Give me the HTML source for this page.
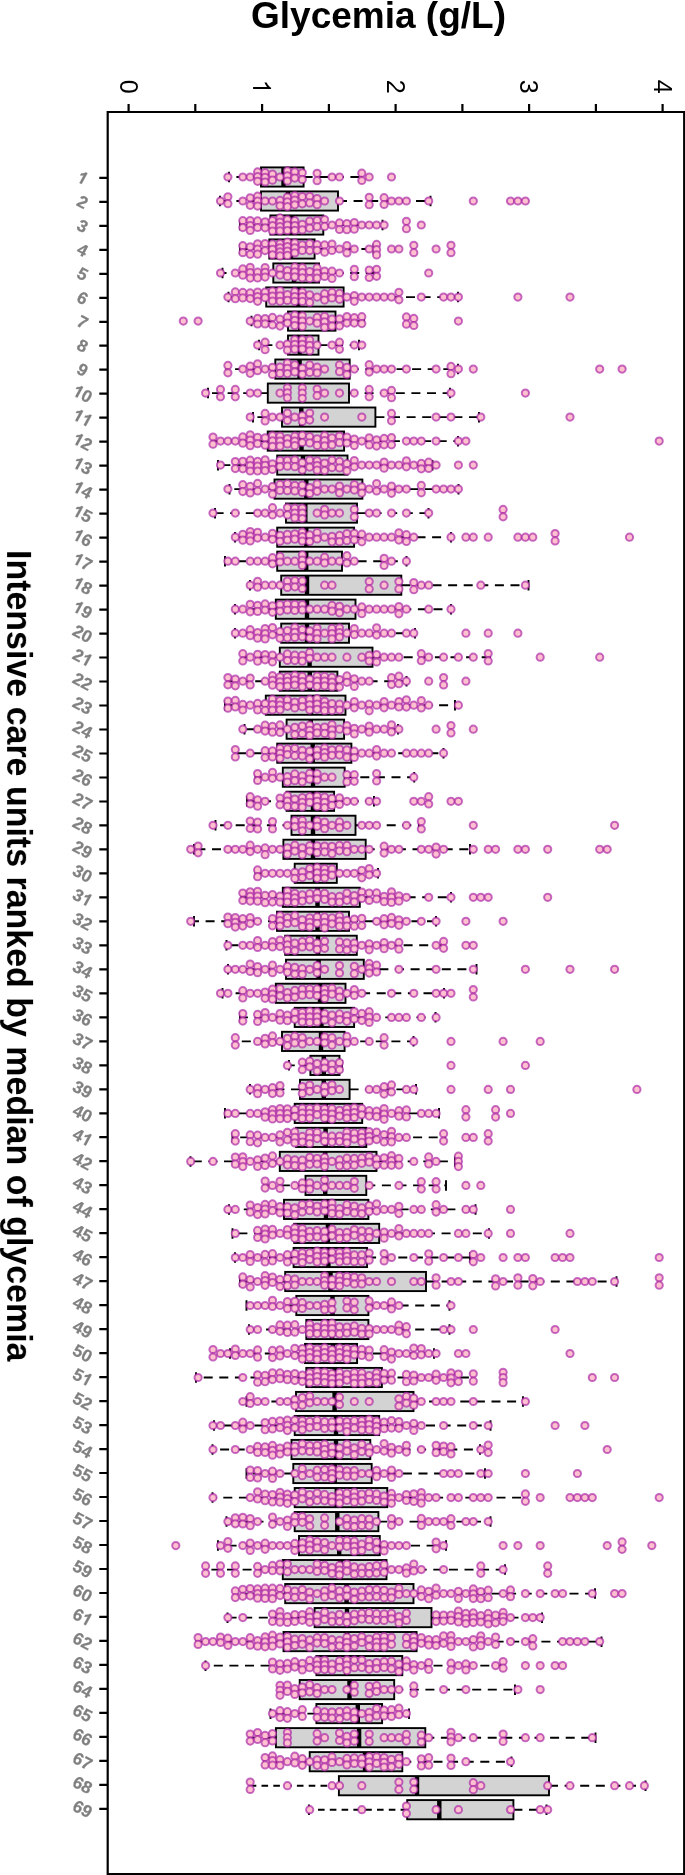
<!DOCTYPE html>
<html><head><meta charset="utf-8"><title>Glycemia</title>
<style>
html,body{margin:0;padding:0;background:#fff}
svg{display:block;font-family:"Liberation Sans",sans-serif}
.d circle{r:3.6px;fill:#ffc0cf;stroke:#a822a4;stroke-opacity:.67;stroke-width:2px}
.b rect{fill:#d3d3d3;stroke:#000;stroke-width:1.9px}
.w path{stroke:#000;stroke-width:1.9px;fill:none;stroke-dasharray:9 6.6}
.w path.s{stroke-dasharray:6.6 5.2}
.c path{stroke:#000;stroke-width:1.9px;fill:none}
.m path{stroke:#000;stroke-width:4.4px;fill:none}
.a path{stroke:#000;stroke-width:2.2px;fill:none}
.l{filter:grayscale(1)}
.l text{font-size:17px;font-weight:bold;fill:#808080;stroke:#808080;stroke-width:.25px;text-anchor:middle}
.l path{stroke:#808080;stroke-width:30px}
.t,.h{filter:grayscale(1)}
.t text{font-size:25px;fill:#000;text-anchor:middle}
</style></head>
<body>
<svg width="685" height="1875" viewBox="0 0 685 1875">
<rect width="685" height="1875" fill="#fff"/>
<g class="h">
<text x="251" y="27.6" font-size="37.5" font-weight="bold" textLength="255" lengthAdjust="spacingAndGlyphs">Glycemia (g/L)</text>
<text transform="translate(7.1,550) rotate(90)" font-size="35.6" font-weight="bold" textLength="811.5" lengthAdjust="spacingAndGlyphs">Intensive care units ranked by median of glycemia</text>
</g>
<g class="w">
<path d="M261 177H229M303.6 177H361.5"/>
<path d="M261 201H220M338 201H430.5"/>
<path d="M270.4 225H240M323.3 225H382.5"/>
<path d="M269.3 249H240M314.6 249H373.5"/>
<path d="M273.3 273H222.5M319 273H374"/>
<path d="M266.2 297.1H228.5M343.6 297.1H458"/>
<path d="M288 321.1H251.5M335.5 321.1H364"/>
<path d="M288 345.1H259M318.5 345.1H359"/>
<path d="M275.3 369.1H226.5M349.7 369.1H458"/>
<path d="M267.8 393.1H208M349 393.1H450"/>
<path d="M282 417.1H253M375.4 417.1H479"/>
<path d="M267.7 441.1H212.5M344.1 441.1H458"/>
<path d="M277.2 465.1H218M347.5 465.1H432.5"/>
<path d="M274.5 489.1H229.5M362.4 489.1H458.5"/>
<path d="M286 513.1H215M357 513.1H428.5"/>
<path d="M277.2 537.2H235M354.1 537.2H451"/>
<path d="M277.2 561.2H225M342 561.2H406.5"/>
<path d="M281.2 585.2H250M401.3 585.2H528.5"/>
<path d="M275.8 609.2H235M355.5 609.2H451"/>
<path d="M281.2 633.2H235M349 633.2H415"/>
<path d="M279.8 657.2H242.5M372.5 657.2H490"/>
<path d="M279.8 681.2H227.5M337.4 681.2H406.5"/>
<path d="M265.8 705.2H225M345.5 705.2H455"/>
<path d="M286.6 729.2H244.5M344.1 729.2H398"/>
<path d="M277.2 753.2H235M351.4 753.2H443.5"/>
<path d="M282.8 777.2H255.5M344.7 777.2H414.2"/>
<path d="M286.6 801.3H247M334.1 801.3H374"/>
<path d="M291.5 825.3H215.5M355.5 825.3H419"/>
<path d="M283.4 849.3H194M365.7 849.3H470"/>
<path d="M294.7 873.3H255.5M336.8 873.3H378"/>
<path d="M282.8 897.3H241.5M359.8 897.3H451"/>
<path d="M277 921.3H194M349 921.3H436"/>
<path d="M285.2 945.3H226.5M356.8 945.3H443.5"/>
<path d="M286 969.3H228M363.8 969.3H476.5"/>
<path d="M275.8 993.3H222.5M345.5 993.3H444"/>
<path d="M294.7 1017.4H240M354.1 1017.4H435.5"/>
<path d="M282 1041.4H235M344.6 1041.4H413.5"/>
<path d="M310.4 1065.4H289M339.5 1065.4H342"/>
<path d="M300 1089.4H250M349.6 1089.4H416"/>
<path d="M294.7 1113.4H225M362.2 1113.4H439"/>
<path d="M296 1137.4H232.5M366.3 1137.4H445"/>
<path d="M279.8 1161.4H190.5M376.5 1161.4H455"/>
<path d="M305.5 1185.4H264.5M366.3 1185.4H446"/>
<path d="M284 1209.4H229M368.4 1209.4H475.5"/>
<path d="M294.2 1233.4H232.5M379.2 1233.4H489"/>
<path d="M293.6 1257.5H235M367.1 1257.5H470"/>
<path d="M285.2 1281.5H240M426 1281.5H616.5"/>
<path d="M296.3 1305.5H246.5M368.4 1305.5H449.5"/>
<path d="M306.3 1329.5H249M368.4 1329.5H449.5"/>
<path d="M305 1353.5H230M357.1 1353.5H434"/>
<path d="M306.3 1377.5H196M381.9 1377.5H472.5"/>
<path d="M296 1401.5H246.5M413.5 1401.5H523"/>
<path d="M294.7 1425.5H214M379.2 1425.5H490.5"/>
<path d="M291.5 1449.5H212.5M370.3 1449.5H480"/>
<path d="M293.3 1473.5H246.5M371.7 1473.5H485"/>
<path d="M294.7 1497.6H212.5M387.3 1497.6H524"/>
<path d="M294.7 1521.6H226.5M378.4 1521.6H490.5"/>
<path d="M299 1545.6H218M379.8 1545.6H446"/>
<path d="M282.8 1569.6H205.5M386.5 1569.6H505"/>
<path d="M285.2 1593.6H234M413.5 1593.6H595"/>
<path d="M314.6 1617.6H227.5M431.5 1617.6H542"/>
<path d="M283.5 1641.6H196.5M416.6 1641.6H601.5"/>
<path d="M316.4 1665.6H205.5M402.3 1665.6H501"/>
<path d="M299.7 1689.6H278M394.2 1689.6H515"/>
<path d="M316.4 1713.6H270.5M382.1 1713.6H409"/>
<path d="M275.9 1737.7H249M425.3 1737.7H595.5"/>
<path d="M309.7 1761.7H264M402.3 1761.7H511.5"/>
<path class="s" d="M338.9 1785.7H250"/><path d="M549 1785.7H645.5"/>
<path class="s" d="M407.2 1809.7H309"/><path d="M513.4 1809.7H546.5"/>
</g>
<g class="c">
<path d="M229 171.8v10.5M361.5 171.8v10.5"/>
<path d="M220 195.8v10.5M430.5 195.8v10.5"/>
<path d="M240 219.8v10.5M382.5 219.8v10.5"/>
<path d="M240 243.8v10.5M373.5 243.8v10.5"/>
<path d="M222.5 267.8v10.5M374 267.8v10.5"/>
<path d="M228.5 291.8v10.5M458 291.8v10.5"/>
<path d="M251.5 315.8v10.5M364 315.8v10.5"/>
<path d="M259 339.8v10.5M359 339.8v10.5"/>
<path d="M226.5 363.8v10.5M458 363.8v10.5"/>
<path d="M208 387.8v10.5M450 387.8v10.5"/>
<path d="M253 411.9v10.5M479 411.9v10.5"/>
<path d="M212.5 435.9v10.5M458 435.9v10.5"/>
<path d="M218 459.9v10.5M432.5 459.9v10.5"/>
<path d="M229.5 483.9v10.5M458.5 483.9v10.5"/>
<path d="M215 507.9v10.5M428.5 507.9v10.5"/>
<path d="M235 531.9v10.5M451 531.9v10.5"/>
<path d="M225 555.9v10.5M406.5 555.9v10.5"/>
<path d="M250 579.9v10.5M528.5 579.9v10.5"/>
<path d="M235 603.9v10.5M451 603.9v10.5"/>
<path d="M235 627.9v10.5M415 627.9v10.5"/>
<path d="M242.5 652v10.5M490 652v10.5"/>
<path d="M227.5 676v10.5M406.5 676v10.5"/>
<path d="M225 700v10.5M455 700v10.5"/>
<path d="M244.5 724v10.5M398 724v10.5"/>
<path d="M235 748v10.5M443.5 748v10.5"/>
<path d="M255.5 772v10.5M414.2 772v10.5"/>
<path d="M247 796v10.5M374 796v10.5"/>
<path d="M215.5 820v10.5M419 820v10.5"/>
<path d="M194 844v10.5M470 844v10.5"/>
<path d="M255.5 868v10.5M378 868v10.5"/>
<path d="M241.5 892.1v10.5M451 892.1v10.5"/>
<path d="M194 916.1v10.5M436 916.1v10.5"/>
<path d="M226.5 940.1v10.5M443.5 940.1v10.5"/>
<path d="M228 964.1v10.5M476.5 964.1v10.5"/>
<path d="M222.5 988.1v10.5M444 988.1v10.5"/>
<path d="M240 1012.1v10.5M435.5 1012.1v10.5"/>
<path d="M235 1036.1v10.5M413.5 1036.1v10.5"/>
<path d="M289 1060.1v10.5M342 1060.1v10.5"/>
<path d="M250 1084.1v10.5M416 1084.1v10.5"/>
<path d="M225 1108.1v10.5M439 1108.1v10.5"/>
<path d="M232.5 1132.2v10.5M445 1132.2v10.5"/>
<path d="M190.5 1156.2v10.5M455 1156.2v10.5"/>
<path d="M264.5 1180.2v10.5M446 1180.2v10.5"/>
<path d="M229 1204.2v10.5M475.5 1204.2v10.5"/>
<path d="M232.5 1228.2v10.5M489 1228.2v10.5"/>
<path d="M235 1252.2v10.5M470 1252.2v10.5"/>
<path d="M240 1276.2v10.5M616.5 1276.2v10.5"/>
<path d="M246.5 1300.2v10.5M449.5 1300.2v10.5"/>
<path d="M249 1324.2v10.5M449.5 1324.2v10.5"/>
<path d="M230 1348.2v10.5M434 1348.2v10.5"/>
<path d="M196 1372.2v10.5M472.5 1372.2v10.5"/>
<path d="M246.5 1396.3v10.5M523 1396.3v10.5"/>
<path d="M214 1420.3v10.5M490.5 1420.3v10.5"/>
<path d="M212.5 1444.3v10.5M480 1444.3v10.5"/>
<path d="M246.5 1468.3v10.5M485 1468.3v10.5"/>
<path d="M212.5 1492.3v10.5M524 1492.3v10.5"/>
<path d="M226.5 1516.3v10.5M490.5 1516.3v10.5"/>
<path d="M218 1540.3v10.5M446 1540.3v10.5"/>
<path d="M205.5 1564.3v10.5M505 1564.3v10.5"/>
<path d="M234 1588.3v10.5M595 1588.3v10.5"/>
<path d="M227.5 1612.4v10.5M542 1612.4v10.5"/>
<path d="M196.5 1636.4v10.5M601.5 1636.4v10.5"/>
<path d="M205.5 1660.4v10.5M501 1660.4v10.5"/>
<path d="M278 1684.4v10.5M515 1684.4v10.5"/>
<path d="M270.5 1708.4v10.5M409 1708.4v10.5"/>
<path d="M249 1732.4v10.5M595.5 1732.4v10.5"/>
<path d="M264 1756.4v10.5M511.5 1756.4v10.5"/>
<path d="M250 1780.4v10.5M645.5 1780.4v10.5"/>
<path d="M309 1804.4v10.5M546.5 1804.4v10.5"/>
</g>
<g class="b">
<rect x="261" y="167.4" width="42.6" height="19.2"/>
<rect x="261" y="191.4" width="77" height="19.2"/>
<rect x="270.4" y="215.4" width="52.9" height="19.2"/>
<rect x="269.3" y="239.4" width="45.3" height="19.2"/>
<rect x="273.3" y="263.4" width="45.7" height="19.2"/>
<rect x="266.2" y="287.4" width="77.4" height="19.2"/>
<rect x="288" y="311.5" width="47.5" height="19.2"/>
<rect x="288" y="335.5" width="30.5" height="19.2"/>
<rect x="275.3" y="359.5" width="74.4" height="19.2"/>
<rect x="267.8" y="383.5" width="81.2" height="19.2"/>
<rect x="282" y="407.5" width="93.4" height="19.2"/>
<rect x="267.7" y="431.5" width="76.4" height="19.2"/>
<rect x="277.2" y="455.5" width="70.3" height="19.2"/>
<rect x="274.5" y="479.5" width="87.9" height="19.2"/>
<rect x="286" y="503.5" width="71" height="19.2"/>
<rect x="277.2" y="527.6" width="76.9" height="19.2"/>
<rect x="277.2" y="551.6" width="64.8" height="19.2"/>
<rect x="281.2" y="575.6" width="120.1" height="19.2"/>
<rect x="275.8" y="599.6" width="79.7" height="19.2"/>
<rect x="281.2" y="623.6" width="67.8" height="19.2"/>
<rect x="279.8" y="647.6" width="92.7" height="19.2"/>
<rect x="279.8" y="671.6" width="57.6" height="19.2"/>
<rect x="265.8" y="695.6" width="79.7" height="19.2"/>
<rect x="286.6" y="719.6" width="57.5" height="19.2"/>
<rect x="277.2" y="743.6" width="74.2" height="19.2"/>
<rect x="282.8" y="767.6" width="61.9" height="19.2"/>
<rect x="286.6" y="791.7" width="47.5" height="19.2"/>
<rect x="291.5" y="815.7" width="64" height="19.2"/>
<rect x="283.4" y="839.7" width="82.3" height="19.2"/>
<rect x="294.7" y="863.7" width="42.1" height="19.2"/>
<rect x="282.8" y="887.7" width="77" height="19.2"/>
<rect x="277" y="911.7" width="72" height="19.2"/>
<rect x="285.2" y="935.7" width="71.6" height="19.2"/>
<rect x="286" y="959.7" width="77.8" height="19.2"/>
<rect x="275.8" y="983.7" width="69.7" height="19.2"/>
<rect x="294.7" y="1007.8" width="59.4" height="19.2"/>
<rect x="282" y="1031.8" width="62.6" height="19.2"/>
<rect x="310.4" y="1055.8" width="29.1" height="19.2"/>
<rect x="300" y="1079.8" width="49.6" height="19.2"/>
<rect x="294.7" y="1103.8" width="67.5" height="19.2"/>
<rect x="296" y="1127.8" width="70.3" height="19.2"/>
<rect x="279.8" y="1151.8" width="96.7" height="19.2"/>
<rect x="305.5" y="1175.8" width="60.8" height="19.2"/>
<rect x="284" y="1199.8" width="84.4" height="19.2"/>
<rect x="294.2" y="1223.8" width="85" height="19.2"/>
<rect x="293.6" y="1247.9" width="73.5" height="19.2"/>
<rect x="285.2" y="1271.9" width="140.8" height="19.2"/>
<rect x="296.3" y="1295.9" width="72.1" height="19.2"/>
<rect x="306.3" y="1319.9" width="62.1" height="19.2"/>
<rect x="305" y="1343.9" width="52.1" height="19.2"/>
<rect x="306.3" y="1367.9" width="75.6" height="19.2"/>
<rect x="296" y="1391.9" width="117.5" height="19.2"/>
<rect x="294.7" y="1415.9" width="84.5" height="19.2"/>
<rect x="291.5" y="1439.9" width="78.8" height="19.2"/>
<rect x="293.3" y="1463.9" width="78.4" height="19.2"/>
<rect x="294.7" y="1488" width="92.6" height="19.2"/>
<rect x="294.7" y="1512" width="83.7" height="19.2"/>
<rect x="299" y="1536" width="80.8" height="19.2"/>
<rect x="282.8" y="1560" width="103.7" height="19.2"/>
<rect x="285.2" y="1584" width="128.3" height="19.2"/>
<rect x="314.6" y="1608" width="116.9" height="19.2"/>
<rect x="283.5" y="1632" width="133.1" height="19.2"/>
<rect x="316.4" y="1656" width="85.9" height="19.2"/>
<rect x="299.7" y="1680" width="94.5" height="19.2"/>
<rect x="316.4" y="1704" width="65.7" height="19.2"/>
<rect x="275.9" y="1728.1" width="149.4" height="19.2"/>
<rect x="309.7" y="1752.1" width="92.6" height="19.2"/>
<rect x="338.9" y="1776.1" width="210.1" height="19.2"/>
<rect x="407.2" y="1800.1" width="106.2" height="19.2"/>
</g>
<g class="m">
<path d="M283.5 167.4v19.2"/>
<path d="M288 191.4v19.2"/>
<path d="M292 215.4v19.2"/>
<path d="M291 239.4v19.2"/>
<path d="M294 263.4v19.2"/>
<path d="M298.3 287.4v19.2"/>
<path d="M300.2 311.5v19.2"/>
<path d="M299.8 335.5v19.2"/>
<path d="M299.6 359.5v19.2"/>
<path d="M302 383.5v19.2"/>
<path d="M301.3 407.5v19.2"/>
<path d="M301.5 431.5v19.2"/>
<path d="M303 455.5v19.2"/>
<path d="M306.3 479.5v19.2"/>
<path d="M305.3 503.5v19.2"/>
<path d="M306.3 527.6v19.2"/>
<path d="M306.2 551.6v19.2"/>
<path d="M307 575.6v19.2"/>
<path d="M307 599.6v19.2"/>
<path d="M307 623.6v19.2"/>
<path d="M309.6 647.6v19.2"/>
<path d="M309.8 671.6v19.2"/>
<path d="M311 695.6v19.2"/>
<path d="M310.8 719.6v19.2"/>
<path d="M312.7 743.6v19.2"/>
<path d="M313 767.6v19.2"/>
<path d="M313 791.7v19.2"/>
<path d="M313 815.7v19.2"/>
<path d="M313 839.7v19.2"/>
<path d="M315 863.7v19.2"/>
<path d="M317.5 887.7v19.2"/>
<path d="M317.5 911.7v19.2"/>
<path d="M318 935.7v19.2"/>
<path d="M318.6 959.7v19.2"/>
<path d="M320 983.7v19.2"/>
<path d="M321.5 1007.8v19.2"/>
<path d="M321 1031.8v19.2"/>
<path d="M323.8 1055.8v19.2"/>
<path d="M323.8 1079.8v19.2"/>
<path d="M325.7 1103.8v19.2"/>
<path d="M325.6 1127.8v19.2"/>
<path d="M325.2 1151.8v19.2"/>
<path d="M325.2 1175.8v19.2"/>
<path d="M326 1199.8v19.2"/>
<path d="M327.9 1223.8v19.2"/>
<path d="M328.4 1247.9v19.2"/>
<path d="M330.5 1271.9v19.2"/>
<path d="M332.5 1295.9v19.2"/>
<path d="M332 1319.9v19.2"/>
<path d="M333 1343.9v19.2"/>
<path d="M334.6 1367.9v19.2"/>
<path d="M334.6 1391.9v19.2"/>
<path d="M336 1415.9v19.2"/>
<path d="M336 1439.9v19.2"/>
<path d="M334.7 1463.9v19.2"/>
<path d="M336.8 1488v19.2"/>
<path d="M337.3 1512v19.2"/>
<path d="M339.2 1536v19.2"/>
<path d="M340.6 1560v19.2"/>
<path d="M346.6 1584v19.2"/>
<path d="M347 1608v19.2"/>
<path d="M347 1632v19.2"/>
<path d="M346.5 1656v19.2"/>
<path d="M349.5 1680v19.2"/>
<path d="M357.8 1704v19.2"/>
<path d="M359.1 1728.1v19.2"/>
<path d="M365 1752.1v19.2"/>
<path d="M417 1776.1v19.2"/>
<path d="M439.3 1800.1v19.2"/>
</g>
<g class="d">
<circle cx="227.9" cy="177" r="3.6"/>
<circle cx="242.8" cy="177" r="3.6"/>
<circle cx="250.2" cy="177" r="3.6"/>
<circle cx="257.6" cy="171.9" r="3.6"/>
<circle cx="257.6" cy="176.6" r="3.6"/>
<circle cx="257.6" cy="181.3" r="3.6"/>
<circle cx="265.1" cy="172.7" r="3.6"/>
<circle cx="265.1" cy="177.4" r="3.6"/>
<circle cx="265.1" cy="182" r="3.6"/>
<circle cx="272.5" cy="174.1" r="3.6"/>
<circle cx="272.5" cy="180.2" r="3.6"/>
<circle cx="280" cy="177" r="3.6"/>
<circle cx="287.4" cy="170.9" r="3.6"/>
<circle cx="287.4" cy="175.9" r="3.6"/>
<circle cx="287.4" cy="181" r="3.6"/>
<circle cx="294.8" cy="171.8" r="3.6"/>
<circle cx="294.8" cy="178.1" r="3.6"/>
<circle cx="302.3" cy="172.8" r="3.6"/>
<circle cx="302.3" cy="179.5" r="3.6"/>
<circle cx="317.1" cy="173.3" r="3.6"/>
<circle cx="317.1" cy="180.7" r="3.6"/>
<circle cx="332" cy="177" r="3.6"/>
<circle cx="339.5" cy="177" r="3.6"/>
<circle cx="361.8" cy="173.2" r="3.6"/>
<circle cx="361.8" cy="180.5" r="3.6"/>
<circle cx="369.2" cy="177" r="3.6"/>
<circle cx="391.5" cy="177" r="3.6"/>
<circle cx="220.5" cy="201" r="3.6"/>
<circle cx="227.9" cy="196.8" r="3.6"/>
<circle cx="227.9" cy="203.7" r="3.6"/>
<circle cx="242.8" cy="201" r="3.6"/>
<circle cx="250.2" cy="197.8" r="3.6"/>
<circle cx="250.2" cy="205.3" r="3.6"/>
<circle cx="257.6" cy="196.2" r="3.6"/>
<circle cx="257.6" cy="201.2" r="3.6"/>
<circle cx="257.6" cy="206.1" r="3.6"/>
<circle cx="265.1" cy="201" r="3.6"/>
<circle cx="272.5" cy="201" r="3.6"/>
<circle cx="280" cy="200.4" r="3.6"/>
<circle cx="280" cy="205.8" r="3.6"/>
<circle cx="287.4" cy="197" r="3.6"/>
<circle cx="287.4" cy="201.9" r="3.6"/>
<circle cx="287.4" cy="206.7" r="3.6"/>
<circle cx="294.8" cy="195.5" r="3.6"/>
<circle cx="294.8" cy="200.2" r="3.6"/>
<circle cx="294.8" cy="204.8" r="3.6"/>
<circle cx="302.3" cy="196.6" r="3.6"/>
<circle cx="302.3" cy="203.8" r="3.6"/>
<circle cx="309.7" cy="196.3" r="3.6"/>
<circle cx="309.7" cy="202.9" r="3.6"/>
<circle cx="317.1" cy="198.5" r="3.6"/>
<circle cx="317.1" cy="204.7" r="3.6"/>
<circle cx="324.6" cy="201" r="3.6"/>
<circle cx="339.5" cy="201" r="3.6"/>
<circle cx="369.2" cy="197.3" r="3.6"/>
<circle cx="369.2" cy="204.7" r="3.6"/>
<circle cx="384.1" cy="197.7" r="3.6"/>
<circle cx="384.1" cy="204.5" r="3.6"/>
<circle cx="391.5" cy="201" r="3.6"/>
<circle cx="398.9" cy="201" r="3.6"/>
<circle cx="406.4" cy="201" r="3.6"/>
<circle cx="428.7" cy="201" r="3.6"/>
<circle cx="473.3" cy="201" r="3.6"/>
<circle cx="510.5" cy="201" r="3.6"/>
<circle cx="517.9" cy="201" r="3.6"/>
<circle cx="525.4" cy="201" r="3.6"/>
<circle cx="242.8" cy="220.7" r="3.6"/>
<circle cx="242.8" cy="227.6" r="3.6"/>
<circle cx="250.2" cy="220.5" r="3.6"/>
<circle cx="250.2" cy="225.5" r="3.6"/>
<circle cx="250.2" cy="230.4" r="3.6"/>
<circle cx="257.6" cy="220.9" r="3.6"/>
<circle cx="257.6" cy="227.5" r="3.6"/>
<circle cx="265.1" cy="221.8" r="3.6"/>
<circle cx="265.1" cy="227.8" r="3.6"/>
<circle cx="272.5" cy="220.5" r="3.6"/>
<circle cx="272.5" cy="225.7" r="3.6"/>
<circle cx="272.5" cy="231" r="3.6"/>
<circle cx="280" cy="217.9" r="3.6"/>
<circle cx="280" cy="222.2" r="3.6"/>
<circle cx="280" cy="226.6" r="3.6"/>
<circle cx="280" cy="230.9" r="3.6"/>
<circle cx="287.4" cy="219.7" r="3.6"/>
<circle cx="287.4" cy="225.1" r="3.6"/>
<circle cx="287.4" cy="230.5" r="3.6"/>
<circle cx="294.8" cy="220.7" r="3.6"/>
<circle cx="294.8" cy="225.6" r="3.6"/>
<circle cx="294.8" cy="230.4" r="3.6"/>
<circle cx="302.3" cy="224.3" r="3.6"/>
<circle cx="302.3" cy="229.9" r="3.6"/>
<circle cx="309.7" cy="221.1" r="3.6"/>
<circle cx="309.7" cy="228.2" r="3.6"/>
<circle cx="317.1" cy="220.3" r="3.6"/>
<circle cx="317.1" cy="226.7" r="3.6"/>
<circle cx="324.6" cy="219.6" r="3.6"/>
<circle cx="324.6" cy="226.4" r="3.6"/>
<circle cx="332" cy="225" r="3.6"/>
<circle cx="339.5" cy="222.9" r="3.6"/>
<circle cx="339.5" cy="229.5" r="3.6"/>
<circle cx="346.9" cy="223.6" r="3.6"/>
<circle cx="346.9" cy="229.7" r="3.6"/>
<circle cx="354.3" cy="222.5" r="3.6"/>
<circle cx="354.3" cy="229.2" r="3.6"/>
<circle cx="361.8" cy="225" r="3.6"/>
<circle cx="369.2" cy="225" r="3.6"/>
<circle cx="376.6" cy="225" r="3.6"/>
<circle cx="384.1" cy="225" r="3.6"/>
<circle cx="406.4" cy="221.3" r="3.6"/>
<circle cx="406.4" cy="228.7" r="3.6"/>
<circle cx="421.3" cy="225" r="3.6"/>
<circle cx="242.8" cy="245.7" r="3.6"/>
<circle cx="242.8" cy="252.7" r="3.6"/>
<circle cx="250.2" cy="246.8" r="3.6"/>
<circle cx="250.2" cy="254.3" r="3.6"/>
<circle cx="257.6" cy="243.8" r="3.6"/>
<circle cx="257.6" cy="249" r="3.6"/>
<circle cx="257.6" cy="254.2" r="3.6"/>
<circle cx="265.1" cy="243.6" r="3.6"/>
<circle cx="265.1" cy="250.6" r="3.6"/>
<circle cx="272.5" cy="243.9" r="3.6"/>
<circle cx="272.5" cy="249.4" r="3.6"/>
<circle cx="272.5" cy="254.9" r="3.6"/>
<circle cx="280" cy="243.7" r="3.6"/>
<circle cx="280" cy="247.8" r="3.6"/>
<circle cx="280" cy="251.9" r="3.6"/>
<circle cx="280" cy="255.9" r="3.6"/>
<circle cx="287.4" cy="242.2" r="3.6"/>
<circle cx="287.4" cy="246.6" r="3.6"/>
<circle cx="287.4" cy="251" r="3.6"/>
<circle cx="287.4" cy="255.4" r="3.6"/>
<circle cx="294.8" cy="242.9" r="3.6"/>
<circle cx="294.8" cy="247.9" r="3.6"/>
<circle cx="294.8" cy="252.9" r="3.6"/>
<circle cx="302.3" cy="244.8" r="3.6"/>
<circle cx="302.3" cy="250.4" r="3.6"/>
<circle cx="309.7" cy="243.5" r="3.6"/>
<circle cx="309.7" cy="250.6" r="3.6"/>
<circle cx="317.1" cy="244.5" r="3.6"/>
<circle cx="317.1" cy="250.3" r="3.6"/>
<circle cx="324.6" cy="244.9" r="3.6"/>
<circle cx="324.6" cy="252.2" r="3.6"/>
<circle cx="332" cy="244" r="3.6"/>
<circle cx="332" cy="250.4" r="3.6"/>
<circle cx="339.5" cy="249" r="3.6"/>
<circle cx="346.9" cy="245.6" r="3.6"/>
<circle cx="346.9" cy="252.9" r="3.6"/>
<circle cx="354.3" cy="249" r="3.6"/>
<circle cx="369.2" cy="249" r="3.6"/>
<circle cx="376.6" cy="244.4" r="3.6"/>
<circle cx="376.6" cy="249.7" r="3.6"/>
<circle cx="376.6" cy="254.9" r="3.6"/>
<circle cx="391.5" cy="249" r="3.6"/>
<circle cx="398.9" cy="249" r="3.6"/>
<circle cx="413.8" cy="245.3" r="3.6"/>
<circle cx="413.8" cy="252.7" r="3.6"/>
<circle cx="436.1" cy="249" r="3.6"/>
<circle cx="451" cy="245.3" r="3.6"/>
<circle cx="451" cy="252.7" r="3.6"/>
<circle cx="220.5" cy="273" r="3.6"/>
<circle cx="235.3" cy="273" r="3.6"/>
<circle cx="242.8" cy="268.9" r="3.6"/>
<circle cx="242.8" cy="275.2" r="3.6"/>
<circle cx="250.2" cy="267.3" r="3.6"/>
<circle cx="250.2" cy="272.7" r="3.6"/>
<circle cx="250.2" cy="278.1" r="3.6"/>
<circle cx="257.6" cy="272.2" r="3.6"/>
<circle cx="257.6" cy="277.9" r="3.6"/>
<circle cx="265.1" cy="267.5" r="3.6"/>
<circle cx="265.1" cy="272.3" r="3.6"/>
<circle cx="265.1" cy="277.1" r="3.6"/>
<circle cx="272.5" cy="273" r="3.6"/>
<circle cx="280" cy="268.6" r="3.6"/>
<circle cx="280" cy="275.1" r="3.6"/>
<circle cx="287.4" cy="270.5" r="3.6"/>
<circle cx="287.4" cy="276.4" r="3.6"/>
<circle cx="294.8" cy="266.9" r="3.6"/>
<circle cx="294.8" cy="271.8" r="3.6"/>
<circle cx="294.8" cy="276.8" r="3.6"/>
<circle cx="302.3" cy="267.6" r="3.6"/>
<circle cx="302.3" cy="272.7" r="3.6"/>
<circle cx="302.3" cy="277.8" r="3.6"/>
<circle cx="309.7" cy="271.6" r="3.6"/>
<circle cx="309.7" cy="278.5" r="3.6"/>
<circle cx="317.1" cy="267.9" r="3.6"/>
<circle cx="317.1" cy="273.1" r="3.6"/>
<circle cx="317.1" cy="278.2" r="3.6"/>
<circle cx="324.6" cy="271.1" r="3.6"/>
<circle cx="324.6" cy="276.5" r="3.6"/>
<circle cx="332" cy="271.2" r="3.6"/>
<circle cx="332" cy="278.4" r="3.6"/>
<circle cx="339.5" cy="273" r="3.6"/>
<circle cx="354.3" cy="269.3" r="3.6"/>
<circle cx="354.3" cy="276.7" r="3.6"/>
<circle cx="369.2" cy="270.1" r="3.6"/>
<circle cx="369.2" cy="277.5" r="3.6"/>
<circle cx="376.6" cy="269.3" r="3.6"/>
<circle cx="376.6" cy="276.3" r="3.6"/>
<circle cx="428.7" cy="273" r="3.6"/>
<circle cx="227.9" cy="297.1" r="3.6"/>
<circle cx="235.3" cy="291.9" r="3.6"/>
<circle cx="235.3" cy="298.7" r="3.6"/>
<circle cx="242.8" cy="292.4" r="3.6"/>
<circle cx="242.8" cy="297.9" r="3.6"/>
<circle cx="250.2" cy="292.9" r="3.6"/>
<circle cx="250.2" cy="298.6" r="3.6"/>
<circle cx="257.6" cy="292" r="3.6"/>
<circle cx="257.6" cy="296.7" r="3.6"/>
<circle cx="257.6" cy="301.3" r="3.6"/>
<circle cx="265.1" cy="292" r="3.6"/>
<circle cx="265.1" cy="297.7" r="3.6"/>
<circle cx="272.5" cy="291.2" r="3.6"/>
<circle cx="272.5" cy="296.1" r="3.6"/>
<circle cx="272.5" cy="301" r="3.6"/>
<circle cx="280" cy="290.5" r="3.6"/>
<circle cx="280" cy="295.9" r="3.6"/>
<circle cx="280" cy="301.3" r="3.6"/>
<circle cx="287.4" cy="294.7" r="3.6"/>
<circle cx="287.4" cy="300.4" r="3.6"/>
<circle cx="294.8" cy="291.6" r="3.6"/>
<circle cx="294.8" cy="296.5" r="3.6"/>
<circle cx="294.8" cy="301.4" r="3.6"/>
<circle cx="302.3" cy="292" r="3.6"/>
<circle cx="302.3" cy="296.7" r="3.6"/>
<circle cx="302.3" cy="301.4" r="3.6"/>
<circle cx="309.7" cy="294.8" r="3.6"/>
<circle cx="309.7" cy="302.4" r="3.6"/>
<circle cx="317.1" cy="297.1" r="3.6"/>
<circle cx="324.6" cy="293.7" r="3.6"/>
<circle cx="324.6" cy="300.1" r="3.6"/>
<circle cx="332" cy="292.4" r="3.6"/>
<circle cx="332" cy="298" r="3.6"/>
<circle cx="339.5" cy="293.4" r="3.6"/>
<circle cx="339.5" cy="299.3" r="3.6"/>
<circle cx="346.9" cy="297.1" r="3.6"/>
<circle cx="354.3" cy="295.6" r="3.6"/>
<circle cx="354.3" cy="301.3" r="3.6"/>
<circle cx="361.8" cy="297.1" r="3.6"/>
<circle cx="369.2" cy="297.1" r="3.6"/>
<circle cx="376.6" cy="297.1" r="3.6"/>
<circle cx="384.1" cy="297.1" r="3.6"/>
<circle cx="391.5" cy="297.1" r="3.6"/>
<circle cx="398.9" cy="292.3" r="3.6"/>
<circle cx="398.9" cy="299.8" r="3.6"/>
<circle cx="421.3" cy="297.1" r="3.6"/>
<circle cx="443.6" cy="297.1" r="3.6"/>
<circle cx="451" cy="297.1" r="3.6"/>
<circle cx="458.4" cy="297.1" r="3.6"/>
<circle cx="517.9" cy="297.1" r="3.6"/>
<circle cx="570" cy="297.1" r="3.6"/>
<circle cx="183.3" cy="321.1" r="3.6"/>
<circle cx="198.1" cy="321.1" r="3.6"/>
<circle cx="250.2" cy="321.1" r="3.6"/>
<circle cx="257.6" cy="318.4" r="3.6"/>
<circle cx="257.6" cy="324" r="3.6"/>
<circle cx="265.1" cy="318.6" r="3.6"/>
<circle cx="265.1" cy="323.9" r="3.6"/>
<circle cx="272.5" cy="317.4" r="3.6"/>
<circle cx="272.5" cy="325" r="3.6"/>
<circle cx="280" cy="319.2" r="3.6"/>
<circle cx="280" cy="326.1" r="3.6"/>
<circle cx="287.4" cy="316.9" r="3.6"/>
<circle cx="287.4" cy="323.1" r="3.6"/>
<circle cx="294.8" cy="315" r="3.6"/>
<circle cx="294.8" cy="320.3" r="3.6"/>
<circle cx="294.8" cy="325.6" r="3.6"/>
<circle cx="302.3" cy="315.8" r="3.6"/>
<circle cx="302.3" cy="321.1" r="3.6"/>
<circle cx="302.3" cy="326.4" r="3.6"/>
<circle cx="309.7" cy="321.1" r="3.6"/>
<circle cx="317.1" cy="317.4" r="3.6"/>
<circle cx="317.1" cy="323.2" r="3.6"/>
<circle cx="324.6" cy="316.3" r="3.6"/>
<circle cx="324.6" cy="321.8" r="3.6"/>
<circle cx="324.6" cy="327.3" r="3.6"/>
<circle cx="332" cy="319" r="3.6"/>
<circle cx="332" cy="326.2" r="3.6"/>
<circle cx="339.5" cy="318.9" r="3.6"/>
<circle cx="339.5" cy="326" r="3.6"/>
<circle cx="346.9" cy="316.6" r="3.6"/>
<circle cx="346.9" cy="323.1" r="3.6"/>
<circle cx="354.3" cy="317.7" r="3.6"/>
<circle cx="354.3" cy="323.1" r="3.6"/>
<circle cx="361.8" cy="316.7" r="3.6"/>
<circle cx="361.8" cy="323.6" r="3.6"/>
<circle cx="406.4" cy="316.9" r="3.6"/>
<circle cx="406.4" cy="324.2" r="3.6"/>
<circle cx="413.8" cy="318.4" r="3.6"/>
<circle cx="413.8" cy="325.5" r="3.6"/>
<circle cx="458.4" cy="321.1" r="3.6"/>
<circle cx="257.6" cy="345.1" r="3.6"/>
<circle cx="265.1" cy="342.2" r="3.6"/>
<circle cx="265.1" cy="349.7" r="3.6"/>
<circle cx="280" cy="345.1" r="3.6"/>
<circle cx="287.4" cy="344" r="3.6"/>
<circle cx="287.4" cy="350.2" r="3.6"/>
<circle cx="294.8" cy="339.6" r="3.6"/>
<circle cx="294.8" cy="344.4" r="3.6"/>
<circle cx="294.8" cy="349.2" r="3.6"/>
<circle cx="302.3" cy="339.6" r="3.6"/>
<circle cx="302.3" cy="344.3" r="3.6"/>
<circle cx="302.3" cy="349.1" r="3.6"/>
<circle cx="309.7" cy="339.9" r="3.6"/>
<circle cx="309.7" cy="345.4" r="3.6"/>
<circle cx="309.7" cy="350.8" r="3.6"/>
<circle cx="317.1" cy="345.1" r="3.6"/>
<circle cx="332" cy="345.1" r="3.6"/>
<circle cx="339.5" cy="342.2" r="3.6"/>
<circle cx="339.5" cy="349.3" r="3.6"/>
<circle cx="354.3" cy="345.1" r="3.6"/>
<circle cx="361.8" cy="345.1" r="3.6"/>
<circle cx="227.9" cy="365.4" r="3.6"/>
<circle cx="227.9" cy="372.8" r="3.6"/>
<circle cx="242.8" cy="369.1" r="3.6"/>
<circle cx="250.2" cy="366.2" r="3.6"/>
<circle cx="250.2" cy="373.3" r="3.6"/>
<circle cx="257.6" cy="363.8" r="3.6"/>
<circle cx="257.6" cy="370.7" r="3.6"/>
<circle cx="265.1" cy="369.1" r="3.6"/>
<circle cx="272.5" cy="367.3" r="3.6"/>
<circle cx="272.5" cy="374.4" r="3.6"/>
<circle cx="280" cy="367" r="3.6"/>
<circle cx="280" cy="373.4" r="3.6"/>
<circle cx="287.4" cy="363" r="3.6"/>
<circle cx="287.4" cy="368.3" r="3.6"/>
<circle cx="287.4" cy="373.6" r="3.6"/>
<circle cx="294.8" cy="364.8" r="3.6"/>
<circle cx="294.8" cy="371.9" r="3.6"/>
<circle cx="302.3" cy="368" r="3.6"/>
<circle cx="302.3" cy="374.3" r="3.6"/>
<circle cx="309.7" cy="364.9" r="3.6"/>
<circle cx="309.7" cy="372.4" r="3.6"/>
<circle cx="317.1" cy="367.2" r="3.6"/>
<circle cx="317.1" cy="372.9" r="3.6"/>
<circle cx="324.6" cy="369.1" r="3.6"/>
<circle cx="339.5" cy="364.9" r="3.6"/>
<circle cx="339.5" cy="371.7" r="3.6"/>
<circle cx="346.9" cy="367.3" r="3.6"/>
<circle cx="346.9" cy="374.5" r="3.6"/>
<circle cx="354.3" cy="369.1" r="3.6"/>
<circle cx="369.2" cy="364.7" r="3.6"/>
<circle cx="369.2" cy="372.1" r="3.6"/>
<circle cx="376.6" cy="369.1" r="3.6"/>
<circle cx="384.1" cy="369.1" r="3.6"/>
<circle cx="391.5" cy="369.1" r="3.6"/>
<circle cx="406.4" cy="369.1" r="3.6"/>
<circle cx="436.1" cy="369.1" r="3.6"/>
<circle cx="451" cy="366.4" r="3.6"/>
<circle cx="451" cy="373.7" r="3.6"/>
<circle cx="458.4" cy="369.1" r="3.6"/>
<circle cx="473.3" cy="369.1" r="3.6"/>
<circle cx="599.7" cy="369.1" r="3.6"/>
<circle cx="622.1" cy="369.1" r="3.6"/>
<circle cx="205.6" cy="393.1" r="3.6"/>
<circle cx="220.5" cy="389.4" r="3.6"/>
<circle cx="220.5" cy="396.8" r="3.6"/>
<circle cx="235.3" cy="389.4" r="3.6"/>
<circle cx="235.3" cy="396.8" r="3.6"/>
<circle cx="250.2" cy="393.1" r="3.6"/>
<circle cx="257.6" cy="393.1" r="3.6"/>
<circle cx="280" cy="393.1" r="3.6"/>
<circle cx="287.4" cy="387.8" r="3.6"/>
<circle cx="287.4" cy="392.8" r="3.6"/>
<circle cx="287.4" cy="397.8" r="3.6"/>
<circle cx="302.3" cy="387.9" r="3.6"/>
<circle cx="302.3" cy="393.1" r="3.6"/>
<circle cx="302.3" cy="398.3" r="3.6"/>
<circle cx="317.1" cy="389" r="3.6"/>
<circle cx="317.1" cy="395.7" r="3.6"/>
<circle cx="324.6" cy="393.1" r="3.6"/>
<circle cx="339.5" cy="393.1" r="3.6"/>
<circle cx="354.3" cy="393.1" r="3.6"/>
<circle cx="369.2" cy="389.4" r="3.6"/>
<circle cx="369.2" cy="396.8" r="3.6"/>
<circle cx="384.1" cy="393.1" r="3.6"/>
<circle cx="391.5" cy="390.4" r="3.6"/>
<circle cx="391.5" cy="397.7" r="3.6"/>
<circle cx="451" cy="393.1" r="3.6"/>
<circle cx="525.4" cy="393.1" r="3.6"/>
<circle cx="250.2" cy="417.1" r="3.6"/>
<circle cx="265.1" cy="413.4" r="3.6"/>
<circle cx="265.1" cy="420.9" r="3.6"/>
<circle cx="272.5" cy="417.1" r="3.6"/>
<circle cx="280" cy="417.1" r="3.6"/>
<circle cx="287.4" cy="413.1" r="3.6"/>
<circle cx="287.4" cy="420.5" r="3.6"/>
<circle cx="294.8" cy="417.1" r="3.6"/>
<circle cx="302.3" cy="415.6" r="3.6"/>
<circle cx="302.3" cy="421.4" r="3.6"/>
<circle cx="309.7" cy="413.1" r="3.6"/>
<circle cx="309.7" cy="420.1" r="3.6"/>
<circle cx="324.6" cy="417.1" r="3.6"/>
<circle cx="361.8" cy="417.1" r="3.6"/>
<circle cx="391.5" cy="413.4" r="3.6"/>
<circle cx="391.5" cy="420.8" r="3.6"/>
<circle cx="436.1" cy="417.1" r="3.6"/>
<circle cx="451" cy="417.1" r="3.6"/>
<circle cx="480.8" cy="417.1" r="3.6"/>
<circle cx="570" cy="417.1" r="3.6"/>
<circle cx="213" cy="437" r="3.6"/>
<circle cx="213" cy="444.2" r="3.6"/>
<circle cx="220.5" cy="441.1" r="3.6"/>
<circle cx="227.9" cy="441.1" r="3.6"/>
<circle cx="235.3" cy="441.1" r="3.6"/>
<circle cx="242.8" cy="436.9" r="3.6"/>
<circle cx="242.8" cy="443.2" r="3.6"/>
<circle cx="250.2" cy="434.8" r="3.6"/>
<circle cx="250.2" cy="440.2" r="3.6"/>
<circle cx="250.2" cy="445.7" r="3.6"/>
<circle cx="257.6" cy="437.3" r="3.6"/>
<circle cx="257.6" cy="443.7" r="3.6"/>
<circle cx="265.1" cy="437.8" r="3.6"/>
<circle cx="265.1" cy="445.2" r="3.6"/>
<circle cx="272.5" cy="435.5" r="3.6"/>
<circle cx="272.5" cy="440.9" r="3.6"/>
<circle cx="272.5" cy="446.4" r="3.6"/>
<circle cx="280" cy="436" r="3.6"/>
<circle cx="280" cy="441.1" r="3.6"/>
<circle cx="280" cy="446.2" r="3.6"/>
<circle cx="287.4" cy="438.5" r="3.6"/>
<circle cx="287.4" cy="443.9" r="3.6"/>
<circle cx="294.8" cy="436.2" r="3.6"/>
<circle cx="294.8" cy="441" r="3.6"/>
<circle cx="294.8" cy="445.7" r="3.6"/>
<circle cx="302.3" cy="435.3" r="3.6"/>
<circle cx="302.3" cy="442.5" r="3.6"/>
<circle cx="309.7" cy="436.5" r="3.6"/>
<circle cx="309.7" cy="442.9" r="3.6"/>
<circle cx="317.1" cy="438.8" r="3.6"/>
<circle cx="317.1" cy="445.4" r="3.6"/>
<circle cx="324.6" cy="435.6" r="3.6"/>
<circle cx="324.6" cy="440.7" r="3.6"/>
<circle cx="324.6" cy="445.8" r="3.6"/>
<circle cx="332" cy="437.8" r="3.6"/>
<circle cx="332" cy="444.9" r="3.6"/>
<circle cx="339.5" cy="436.1" r="3.6"/>
<circle cx="339.5" cy="442.7" r="3.6"/>
<circle cx="346.9" cy="437" r="3.6"/>
<circle cx="346.9" cy="443" r="3.6"/>
<circle cx="354.3" cy="439.1" r="3.6"/>
<circle cx="354.3" cy="445.6" r="3.6"/>
<circle cx="361.8" cy="441.1" r="3.6"/>
<circle cx="369.2" cy="437.8" r="3.6"/>
<circle cx="369.2" cy="444.9" r="3.6"/>
<circle cx="376.6" cy="439.8" r="3.6"/>
<circle cx="376.6" cy="446.1" r="3.6"/>
<circle cx="384.1" cy="438.4" r="3.6"/>
<circle cx="384.1" cy="444.8" r="3.6"/>
<circle cx="391.5" cy="437.5" r="3.6"/>
<circle cx="391.5" cy="444.8" r="3.6"/>
<circle cx="406.4" cy="441.1" r="3.6"/>
<circle cx="413.8" cy="441.1" r="3.6"/>
<circle cx="421.3" cy="441.1" r="3.6"/>
<circle cx="436.1" cy="441.1" r="3.6"/>
<circle cx="458.4" cy="441.1" r="3.6"/>
<circle cx="465.9" cy="441.1" r="3.6"/>
<circle cx="659.2" cy="441.1" r="3.6"/>
<circle cx="220.5" cy="465.1" r="3.6"/>
<circle cx="235.3" cy="461.5" r="3.6"/>
<circle cx="235.3" cy="468.6" r="3.6"/>
<circle cx="242.8" cy="461.3" r="3.6"/>
<circle cx="242.8" cy="468.8" r="3.6"/>
<circle cx="250.2" cy="460.2" r="3.6"/>
<circle cx="250.2" cy="465.6" r="3.6"/>
<circle cx="250.2" cy="471" r="3.6"/>
<circle cx="257.6" cy="461.4" r="3.6"/>
<circle cx="257.6" cy="466.2" r="3.6"/>
<circle cx="257.6" cy="471" r="3.6"/>
<circle cx="265.1" cy="459.8" r="3.6"/>
<circle cx="265.1" cy="465.3" r="3.6"/>
<circle cx="265.1" cy="470.7" r="3.6"/>
<circle cx="272.5" cy="463.8" r="3.6"/>
<circle cx="272.5" cy="469.4" r="3.6"/>
<circle cx="280" cy="460.3" r="3.6"/>
<circle cx="280" cy="466.6" r="3.6"/>
<circle cx="287.4" cy="460.3" r="3.6"/>
<circle cx="287.4" cy="466.2" r="3.6"/>
<circle cx="294.8" cy="459.8" r="3.6"/>
<circle cx="294.8" cy="466.7" r="3.6"/>
<circle cx="302.3" cy="462.7" r="3.6"/>
<circle cx="302.3" cy="470.1" r="3.6"/>
<circle cx="309.7" cy="460.1" r="3.6"/>
<circle cx="309.7" cy="467.1" r="3.6"/>
<circle cx="317.1" cy="460.8" r="3.6"/>
<circle cx="317.1" cy="465.5" r="3.6"/>
<circle cx="317.1" cy="470.2" r="3.6"/>
<circle cx="324.6" cy="463" r="3.6"/>
<circle cx="324.6" cy="470.6" r="3.6"/>
<circle cx="332" cy="460.1" r="3.6"/>
<circle cx="332" cy="467.6" r="3.6"/>
<circle cx="339.5" cy="461.4" r="3.6"/>
<circle cx="339.5" cy="467.9" r="3.6"/>
<circle cx="346.9" cy="463.7" r="3.6"/>
<circle cx="346.9" cy="470.9" r="3.6"/>
<circle cx="354.3" cy="460.5" r="3.6"/>
<circle cx="354.3" cy="466.8" r="3.6"/>
<circle cx="361.8" cy="465.1" r="3.6"/>
<circle cx="369.2" cy="465.1" r="3.6"/>
<circle cx="376.6" cy="465.1" r="3.6"/>
<circle cx="384.1" cy="462.1" r="3.6"/>
<circle cx="384.1" cy="468.2" r="3.6"/>
<circle cx="391.5" cy="465.1" r="3.6"/>
<circle cx="398.9" cy="465.1" r="3.6"/>
<circle cx="406.4" cy="460.8" r="3.6"/>
<circle cx="406.4" cy="466.8" r="3.6"/>
<circle cx="413.8" cy="465.1" r="3.6"/>
<circle cx="421.3" cy="463.4" r="3.6"/>
<circle cx="421.3" cy="468.8" r="3.6"/>
<circle cx="428.7" cy="462.2" r="3.6"/>
<circle cx="428.7" cy="468.5" r="3.6"/>
<circle cx="436.1" cy="465.1" r="3.6"/>
<circle cx="458.4" cy="465.1" r="3.6"/>
<circle cx="473.3" cy="465.1" r="3.6"/>
<circle cx="227.9" cy="489.1" r="3.6"/>
<circle cx="242.8" cy="484.7" r="3.6"/>
<circle cx="242.8" cy="491.6" r="3.6"/>
<circle cx="250.2" cy="486.4" r="3.6"/>
<circle cx="250.2" cy="492.9" r="3.6"/>
<circle cx="257.6" cy="483.4" r="3.6"/>
<circle cx="257.6" cy="491" r="3.6"/>
<circle cx="265.1" cy="489.1" r="3.6"/>
<circle cx="272.5" cy="486.6" r="3.6"/>
<circle cx="272.5" cy="494.2" r="3.6"/>
<circle cx="280" cy="484.4" r="3.6"/>
<circle cx="280" cy="490.4" r="3.6"/>
<circle cx="287.4" cy="483.5" r="3.6"/>
<circle cx="287.4" cy="490.7" r="3.6"/>
<circle cx="294.8" cy="485.3" r="3.6"/>
<circle cx="294.8" cy="490.9" r="3.6"/>
<circle cx="302.3" cy="485.1" r="3.6"/>
<circle cx="302.3" cy="492.5" r="3.6"/>
<circle cx="309.7" cy="487.6" r="3.6"/>
<circle cx="309.7" cy="493.5" r="3.6"/>
<circle cx="317.1" cy="483.9" r="3.6"/>
<circle cx="317.1" cy="491.3" r="3.6"/>
<circle cx="324.6" cy="489.1" r="3.6"/>
<circle cx="332" cy="489.1" r="3.6"/>
<circle cx="339.5" cy="486" r="3.6"/>
<circle cx="339.5" cy="492.9" r="3.6"/>
<circle cx="346.9" cy="489.1" r="3.6"/>
<circle cx="354.3" cy="484.6" r="3.6"/>
<circle cx="354.3" cy="490.1" r="3.6"/>
<circle cx="361.8" cy="486.8" r="3.6"/>
<circle cx="361.8" cy="493.1" r="3.6"/>
<circle cx="369.2" cy="489.1" r="3.6"/>
<circle cx="376.6" cy="483.5" r="3.6"/>
<circle cx="376.6" cy="491" r="3.6"/>
<circle cx="384.1" cy="489.1" r="3.6"/>
<circle cx="391.5" cy="486.1" r="3.6"/>
<circle cx="391.5" cy="493.3" r="3.6"/>
<circle cx="398.9" cy="489.1" r="3.6"/>
<circle cx="406.4" cy="489.1" r="3.6"/>
<circle cx="421.3" cy="485.4" r="3.6"/>
<circle cx="421.3" cy="492.8" r="3.6"/>
<circle cx="436.1" cy="489.1" r="3.6"/>
<circle cx="443.6" cy="489.1" r="3.6"/>
<circle cx="451" cy="489.1" r="3.6"/>
<circle cx="458.4" cy="489.1" r="3.6"/>
<circle cx="213" cy="513.1" r="3.6"/>
<circle cx="235.3" cy="513.1" r="3.6"/>
<circle cx="257.6" cy="513.1" r="3.6"/>
<circle cx="265.1" cy="513.1" r="3.6"/>
<circle cx="272.5" cy="507.7" r="3.6"/>
<circle cx="272.5" cy="515" r="3.6"/>
<circle cx="280" cy="513.1" r="3.6"/>
<circle cx="287.4" cy="507.6" r="3.6"/>
<circle cx="287.4" cy="514.9" r="3.6"/>
<circle cx="294.8" cy="508.1" r="3.6"/>
<circle cx="294.8" cy="513" r="3.6"/>
<circle cx="294.8" cy="517.9" r="3.6"/>
<circle cx="302.3" cy="508" r="3.6"/>
<circle cx="302.3" cy="513.2" r="3.6"/>
<circle cx="302.3" cy="518.5" r="3.6"/>
<circle cx="317.1" cy="513.1" r="3.6"/>
<circle cx="324.6" cy="509.3" r="3.6"/>
<circle cx="324.6" cy="514.9" r="3.6"/>
<circle cx="332" cy="513.1" r="3.6"/>
<circle cx="339.5" cy="513.1" r="3.6"/>
<circle cx="354.3" cy="509.4" r="3.6"/>
<circle cx="354.3" cy="516.8" r="3.6"/>
<circle cx="369.2" cy="513.1" r="3.6"/>
<circle cx="376.6" cy="513.1" r="3.6"/>
<circle cx="391.5" cy="513.1" r="3.6"/>
<circle cx="406.4" cy="513.1" r="3.6"/>
<circle cx="428.7" cy="513.1" r="3.6"/>
<circle cx="503.1" cy="509.4" r="3.6"/>
<circle cx="503.1" cy="516.8" r="3.6"/>
<circle cx="235.3" cy="537.2" r="3.6"/>
<circle cx="242.8" cy="534.3" r="3.6"/>
<circle cx="242.8" cy="540.2" r="3.6"/>
<circle cx="250.2" cy="531.5" r="3.6"/>
<circle cx="250.2" cy="536.2" r="3.6"/>
<circle cx="250.2" cy="540.9" r="3.6"/>
<circle cx="257.6" cy="532.3" r="3.6"/>
<circle cx="257.6" cy="538.1" r="3.6"/>
<circle cx="265.1" cy="537.2" r="3.6"/>
<circle cx="272.5" cy="533.3" r="3.6"/>
<circle cx="272.5" cy="539.3" r="3.6"/>
<circle cx="280" cy="535.3" r="3.6"/>
<circle cx="280" cy="541.3" r="3.6"/>
<circle cx="287.4" cy="534.3" r="3.6"/>
<circle cx="287.4" cy="540" r="3.6"/>
<circle cx="294.8" cy="533.8" r="3.6"/>
<circle cx="294.8" cy="539.2" r="3.6"/>
<circle cx="302.3" cy="532" r="3.6"/>
<circle cx="302.3" cy="536.6" r="3.6"/>
<circle cx="302.3" cy="541.1" r="3.6"/>
<circle cx="309.7" cy="534.9" r="3.6"/>
<circle cx="309.7" cy="541.5" r="3.6"/>
<circle cx="317.1" cy="532.6" r="3.6"/>
<circle cx="317.1" cy="539" r="3.6"/>
<circle cx="324.6" cy="537.2" r="3.6"/>
<circle cx="332" cy="536.3" r="3.6"/>
<circle cx="332" cy="541.8" r="3.6"/>
<circle cx="339.5" cy="535.4" r="3.6"/>
<circle cx="339.5" cy="541.7" r="3.6"/>
<circle cx="346.9" cy="533.5" r="3.6"/>
<circle cx="346.9" cy="540.7" r="3.6"/>
<circle cx="354.3" cy="533.4" r="3.6"/>
<circle cx="354.3" cy="539.9" r="3.6"/>
<circle cx="361.8" cy="534.2" r="3.6"/>
<circle cx="361.8" cy="541.8" r="3.6"/>
<circle cx="369.2" cy="537.2" r="3.6"/>
<circle cx="376.6" cy="537.2" r="3.6"/>
<circle cx="384.1" cy="537.2" r="3.6"/>
<circle cx="391.5" cy="537.2" r="3.6"/>
<circle cx="398.9" cy="532.8" r="3.6"/>
<circle cx="398.9" cy="540.1" r="3.6"/>
<circle cx="406.4" cy="534.7" r="3.6"/>
<circle cx="406.4" cy="541.5" r="3.6"/>
<circle cx="413.8" cy="537.2" r="3.6"/>
<circle cx="451" cy="537.2" r="3.6"/>
<circle cx="465.9" cy="537.2" r="3.6"/>
<circle cx="473.3" cy="537.2" r="3.6"/>
<circle cx="488.2" cy="537.2" r="3.6"/>
<circle cx="517.9" cy="537.2" r="3.6"/>
<circle cx="525.4" cy="537.2" r="3.6"/>
<circle cx="532.8" cy="537.2" r="3.6"/>
<circle cx="555.1" cy="533.5" r="3.6"/>
<circle cx="555.1" cy="540.9" r="3.6"/>
<circle cx="629.5" cy="537.2" r="3.6"/>
<circle cx="227.9" cy="561.2" r="3.6"/>
<circle cx="235.3" cy="561.2" r="3.6"/>
<circle cx="250.2" cy="561.2" r="3.6"/>
<circle cx="257.6" cy="561.2" r="3.6"/>
<circle cx="265.1" cy="561.2" r="3.6"/>
<circle cx="272.5" cy="557.7" r="3.6"/>
<circle cx="272.5" cy="563.8" r="3.6"/>
<circle cx="280" cy="556.4" r="3.6"/>
<circle cx="280" cy="562" r="3.6"/>
<circle cx="287.4" cy="561.2" r="3.6"/>
<circle cx="294.8" cy="561.2" r="3.6"/>
<circle cx="302.3" cy="554.9" r="3.6"/>
<circle cx="302.3" cy="560.1" r="3.6"/>
<circle cx="302.3" cy="565.4" r="3.6"/>
<circle cx="309.7" cy="561.2" r="3.6"/>
<circle cx="317.1" cy="561.2" r="3.6"/>
<circle cx="324.6" cy="557.2" r="3.6"/>
<circle cx="324.6" cy="562.9" r="3.6"/>
<circle cx="332" cy="561.2" r="3.6"/>
<circle cx="339.5" cy="561.2" r="3.6"/>
<circle cx="346.9" cy="555.7" r="3.6"/>
<circle cx="346.9" cy="563" r="3.6"/>
<circle cx="354.3" cy="561.2" r="3.6"/>
<circle cx="384.1" cy="558.3" r="3.6"/>
<circle cx="384.1" cy="565.5" r="3.6"/>
<circle cx="391.5" cy="561.2" r="3.6"/>
<circle cx="406.4" cy="561.2" r="3.6"/>
<circle cx="250.2" cy="585.2" r="3.6"/>
<circle cx="257.6" cy="581.3" r="3.6"/>
<circle cx="257.6" cy="587.2" r="3.6"/>
<circle cx="265.1" cy="585.2" r="3.6"/>
<circle cx="272.5" cy="585.2" r="3.6"/>
<circle cx="280" cy="585.2" r="3.6"/>
<circle cx="287.4" cy="581.1" r="3.6"/>
<circle cx="287.4" cy="587.5" r="3.6"/>
<circle cx="294.8" cy="580.5" r="3.6"/>
<circle cx="294.8" cy="586.8" r="3.6"/>
<circle cx="302.3" cy="580.9" r="3.6"/>
<circle cx="302.3" cy="588.5" r="3.6"/>
<circle cx="324.6" cy="585.2" r="3.6"/>
<circle cx="332" cy="585.2" r="3.6"/>
<circle cx="369.2" cy="581.5" r="3.6"/>
<circle cx="369.2" cy="588.9" r="3.6"/>
<circle cx="384.1" cy="585.2" r="3.6"/>
<circle cx="398.9" cy="581.5" r="3.6"/>
<circle cx="398.9" cy="588.9" r="3.6"/>
<circle cx="413.8" cy="582.5" r="3.6"/>
<circle cx="413.8" cy="589.7" r="3.6"/>
<circle cx="421.3" cy="585.2" r="3.6"/>
<circle cx="428.7" cy="585.2" r="3.6"/>
<circle cx="480.8" cy="585.2" r="3.6"/>
<circle cx="525.4" cy="585.2" r="3.6"/>
<circle cx="235.3" cy="609.2" r="3.6"/>
<circle cx="242.8" cy="609.2" r="3.6"/>
<circle cx="250.2" cy="604.3" r="3.6"/>
<circle cx="250.2" cy="611.8" r="3.6"/>
<circle cx="257.6" cy="605.3" r="3.6"/>
<circle cx="257.6" cy="611.4" r="3.6"/>
<circle cx="265.1" cy="603.9" r="3.6"/>
<circle cx="265.1" cy="610.1" r="3.6"/>
<circle cx="272.5" cy="605.8" r="3.6"/>
<circle cx="272.5" cy="612.3" r="3.6"/>
<circle cx="280" cy="604.6" r="3.6"/>
<circle cx="280" cy="611.1" r="3.6"/>
<circle cx="287.4" cy="604" r="3.6"/>
<circle cx="287.4" cy="610" r="3.6"/>
<circle cx="294.8" cy="604.3" r="3.6"/>
<circle cx="294.8" cy="610.5" r="3.6"/>
<circle cx="302.3" cy="604.5" r="3.6"/>
<circle cx="302.3" cy="609.9" r="3.6"/>
<circle cx="309.7" cy="609.2" r="3.6"/>
<circle cx="317.1" cy="609.2" r="3.6"/>
<circle cx="324.6" cy="609.2" r="3.6"/>
<circle cx="332" cy="605.4" r="3.6"/>
<circle cx="332" cy="611.2" r="3.6"/>
<circle cx="339.5" cy="606.3" r="3.6"/>
<circle cx="339.5" cy="612.8" r="3.6"/>
<circle cx="346.9" cy="609.2" r="3.6"/>
<circle cx="354.3" cy="609.2" r="3.6"/>
<circle cx="361.8" cy="606.9" r="3.6"/>
<circle cx="361.8" cy="613.7" r="3.6"/>
<circle cx="369.2" cy="609.2" r="3.6"/>
<circle cx="376.6" cy="609.2" r="3.6"/>
<circle cx="384.1" cy="609.2" r="3.6"/>
<circle cx="391.5" cy="609.2" r="3.6"/>
<circle cx="398.9" cy="606.5" r="3.6"/>
<circle cx="398.9" cy="613.8" r="3.6"/>
<circle cx="406.4" cy="609.2" r="3.6"/>
<circle cx="428.7" cy="609.2" r="3.6"/>
<circle cx="451" cy="609.2" r="3.6"/>
<circle cx="235.3" cy="633.2" r="3.6"/>
<circle cx="242.8" cy="633.2" r="3.6"/>
<circle cx="250.2" cy="629.7" r="3.6"/>
<circle cx="250.2" cy="635.7" r="3.6"/>
<circle cx="257.6" cy="632.5" r="3.6"/>
<circle cx="257.6" cy="638.2" r="3.6"/>
<circle cx="265.1" cy="628.5" r="3.6"/>
<circle cx="265.1" cy="633.7" r="3.6"/>
<circle cx="265.1" cy="638.9" r="3.6"/>
<circle cx="272.5" cy="627.6" r="3.6"/>
<circle cx="272.5" cy="634.8" r="3.6"/>
<circle cx="280" cy="631.5" r="3.6"/>
<circle cx="280" cy="638.3" r="3.6"/>
<circle cx="287.4" cy="630.6" r="3.6"/>
<circle cx="287.4" cy="637.8" r="3.6"/>
<circle cx="294.8" cy="627.3" r="3.6"/>
<circle cx="294.8" cy="632.3" r="3.6"/>
<circle cx="294.8" cy="637.4" r="3.6"/>
<circle cx="302.3" cy="629.6" r="3.6"/>
<circle cx="302.3" cy="636.8" r="3.6"/>
<circle cx="309.7" cy="630.9" r="3.6"/>
<circle cx="309.7" cy="638.1" r="3.6"/>
<circle cx="317.1" cy="628" r="3.6"/>
<circle cx="317.1" cy="633.4" r="3.6"/>
<circle cx="317.1" cy="638.8" r="3.6"/>
<circle cx="324.6" cy="633.2" r="3.6"/>
<circle cx="332" cy="628.4" r="3.6"/>
<circle cx="332" cy="633.6" r="3.6"/>
<circle cx="332" cy="638.9" r="3.6"/>
<circle cx="339.5" cy="627.9" r="3.6"/>
<circle cx="339.5" cy="632.5" r="3.6"/>
<circle cx="339.5" cy="637.1" r="3.6"/>
<circle cx="346.9" cy="633.2" r="3.6"/>
<circle cx="354.3" cy="628.5" r="3.6"/>
<circle cx="354.3" cy="634.7" r="3.6"/>
<circle cx="361.8" cy="633.2" r="3.6"/>
<circle cx="369.2" cy="633.2" r="3.6"/>
<circle cx="376.6" cy="627.8" r="3.6"/>
<circle cx="376.6" cy="635.1" r="3.6"/>
<circle cx="384.1" cy="633.2" r="3.6"/>
<circle cx="391.5" cy="633.2" r="3.6"/>
<circle cx="406.4" cy="633.2" r="3.6"/>
<circle cx="413.8" cy="633.2" r="3.6"/>
<circle cx="465.9" cy="633.2" r="3.6"/>
<circle cx="488.2" cy="633.2" r="3.6"/>
<circle cx="517.9" cy="633.2" r="3.6"/>
<circle cx="242.8" cy="653.7" r="3.6"/>
<circle cx="242.8" cy="660.9" r="3.6"/>
<circle cx="250.2" cy="657.2" r="3.6"/>
<circle cx="257.6" cy="654.3" r="3.6"/>
<circle cx="257.6" cy="661.2" r="3.6"/>
<circle cx="265.1" cy="654.5" r="3.6"/>
<circle cx="265.1" cy="659.8" r="3.6"/>
<circle cx="272.5" cy="655" r="3.6"/>
<circle cx="272.5" cy="662" r="3.6"/>
<circle cx="280" cy="657.2" r="3.6"/>
<circle cx="287.4" cy="653.9" r="3.6"/>
<circle cx="287.4" cy="660.5" r="3.6"/>
<circle cx="294.8" cy="655.2" r="3.6"/>
<circle cx="294.8" cy="660.6" r="3.6"/>
<circle cx="302.3" cy="655.3" r="3.6"/>
<circle cx="302.3" cy="661.2" r="3.6"/>
<circle cx="309.7" cy="652.4" r="3.6"/>
<circle cx="309.7" cy="658.3" r="3.6"/>
<circle cx="317.1" cy="657.2" r="3.6"/>
<circle cx="324.6" cy="657.2" r="3.6"/>
<circle cx="332" cy="657.2" r="3.6"/>
<circle cx="346.9" cy="657.2" r="3.6"/>
<circle cx="361.8" cy="657.2" r="3.6"/>
<circle cx="369.2" cy="655.3" r="3.6"/>
<circle cx="369.2" cy="661.1" r="3.6"/>
<circle cx="376.6" cy="654.5" r="3.6"/>
<circle cx="376.6" cy="662" r="3.6"/>
<circle cx="384.1" cy="657.2" r="3.6"/>
<circle cx="391.5" cy="657.2" r="3.6"/>
<circle cx="398.9" cy="657.2" r="3.6"/>
<circle cx="421.3" cy="653.7" r="3.6"/>
<circle cx="421.3" cy="660.7" r="3.6"/>
<circle cx="428.7" cy="657.2" r="3.6"/>
<circle cx="443.6" cy="657.2" r="3.6"/>
<circle cx="458.4" cy="657.2" r="3.6"/>
<circle cx="473.3" cy="657.2" r="3.6"/>
<circle cx="488.2" cy="653.5" r="3.6"/>
<circle cx="488.2" cy="660.9" r="3.6"/>
<circle cx="540.2" cy="657.2" r="3.6"/>
<circle cx="599.7" cy="657.2" r="3.6"/>
<circle cx="227.9" cy="677.5" r="3.6"/>
<circle cx="227.9" cy="684.8" r="3.6"/>
<circle cx="235.3" cy="679" r="3.6"/>
<circle cx="235.3" cy="685.8" r="3.6"/>
<circle cx="242.8" cy="681.2" r="3.6"/>
<circle cx="250.2" cy="678.1" r="3.6"/>
<circle cx="250.2" cy="684.9" r="3.6"/>
<circle cx="265.1" cy="681.2" r="3.6"/>
<circle cx="272.5" cy="675.6" r="3.6"/>
<circle cx="272.5" cy="680.4" r="3.6"/>
<circle cx="272.5" cy="685.2" r="3.6"/>
<circle cx="280" cy="676.9" r="3.6"/>
<circle cx="280" cy="681.8" r="3.6"/>
<circle cx="280" cy="686.7" r="3.6"/>
<circle cx="287.4" cy="676.8" r="3.6"/>
<circle cx="287.4" cy="681.4" r="3.6"/>
<circle cx="287.4" cy="686" r="3.6"/>
<circle cx="294.8" cy="675.3" r="3.6"/>
<circle cx="294.8" cy="680.2" r="3.6"/>
<circle cx="294.8" cy="685" r="3.6"/>
<circle cx="302.3" cy="676.4" r="3.6"/>
<circle cx="302.3" cy="681.6" r="3.6"/>
<circle cx="302.3" cy="686.8" r="3.6"/>
<circle cx="309.7" cy="679" r="3.6"/>
<circle cx="309.7" cy="685" r="3.6"/>
<circle cx="317.1" cy="676.2" r="3.6"/>
<circle cx="317.1" cy="681.2" r="3.6"/>
<circle cx="317.1" cy="686.3" r="3.6"/>
<circle cx="324.6" cy="676.4" r="3.6"/>
<circle cx="324.6" cy="681.1" r="3.6"/>
<circle cx="324.6" cy="685.8" r="3.6"/>
<circle cx="332" cy="677.4" r="3.6"/>
<circle cx="332" cy="682.2" r="3.6"/>
<circle cx="332" cy="686.9" r="3.6"/>
<circle cx="339.5" cy="679.6" r="3.6"/>
<circle cx="339.5" cy="687.1" r="3.6"/>
<circle cx="346.9" cy="675.9" r="3.6"/>
<circle cx="346.9" cy="682.3" r="3.6"/>
<circle cx="354.3" cy="678.8" r="3.6"/>
<circle cx="354.3" cy="686.4" r="3.6"/>
<circle cx="361.8" cy="681.2" r="3.6"/>
<circle cx="369.2" cy="681.2" r="3.6"/>
<circle cx="391.5" cy="677.7" r="3.6"/>
<circle cx="391.5" cy="684.6" r="3.6"/>
<circle cx="398.9" cy="676.2" r="3.6"/>
<circle cx="398.9" cy="683.7" r="3.6"/>
<circle cx="406.4" cy="681.2" r="3.6"/>
<circle cx="428.7" cy="681.2" r="3.6"/>
<circle cx="443.6" cy="677.5" r="3.6"/>
<circle cx="443.6" cy="684.9" r="3.6"/>
<circle cx="465.9" cy="681.2" r="3.6"/>
<circle cx="227.9" cy="701.1" r="3.6"/>
<circle cx="227.9" cy="708.2" r="3.6"/>
<circle cx="235.3" cy="700.4" r="3.6"/>
<circle cx="235.3" cy="706.9" r="3.6"/>
<circle cx="242.8" cy="704.4" r="3.6"/>
<circle cx="242.8" cy="710" r="3.6"/>
<circle cx="250.2" cy="705.2" r="3.6"/>
<circle cx="257.6" cy="703.4" r="3.6"/>
<circle cx="257.6" cy="709.9" r="3.6"/>
<circle cx="265.1" cy="703.5" r="3.6"/>
<circle cx="265.1" cy="710.4" r="3.6"/>
<circle cx="272.5" cy="699.2" r="3.6"/>
<circle cx="272.5" cy="704.6" r="3.6"/>
<circle cx="272.5" cy="710" r="3.6"/>
<circle cx="280" cy="700.6" r="3.6"/>
<circle cx="280" cy="705.2" r="3.6"/>
<circle cx="280" cy="709.8" r="3.6"/>
<circle cx="287.4" cy="699.8" r="3.6"/>
<circle cx="287.4" cy="706.3" r="3.6"/>
<circle cx="294.8" cy="702" r="3.6"/>
<circle cx="294.8" cy="708" r="3.6"/>
<circle cx="302.3" cy="700.6" r="3.6"/>
<circle cx="302.3" cy="706.7" r="3.6"/>
<circle cx="309.7" cy="699.4" r="3.6"/>
<circle cx="309.7" cy="704.8" r="3.6"/>
<circle cx="309.7" cy="710.1" r="3.6"/>
<circle cx="317.1" cy="698.7" r="3.6"/>
<circle cx="317.1" cy="704" r="3.6"/>
<circle cx="317.1" cy="709.3" r="3.6"/>
<circle cx="324.6" cy="701.3" r="3.6"/>
<circle cx="324.6" cy="706" r="3.6"/>
<circle cx="324.6" cy="710.7" r="3.6"/>
<circle cx="332" cy="703.6" r="3.6"/>
<circle cx="332" cy="710.6" r="3.6"/>
<circle cx="339.5" cy="704" r="3.6"/>
<circle cx="339.5" cy="710" r="3.6"/>
<circle cx="346.9" cy="705.2" r="3.6"/>
<circle cx="354.3" cy="701.5" r="3.6"/>
<circle cx="354.3" cy="707.8" r="3.6"/>
<circle cx="361.8" cy="705.2" r="3.6"/>
<circle cx="369.2" cy="704.1" r="3.6"/>
<circle cx="369.2" cy="710.8" r="3.6"/>
<circle cx="376.6" cy="705.2" r="3.6"/>
<circle cx="384.1" cy="701.5" r="3.6"/>
<circle cx="384.1" cy="707.8" r="3.6"/>
<circle cx="391.5" cy="705.2" r="3.6"/>
<circle cx="398.9" cy="701.5" r="3.6"/>
<circle cx="398.9" cy="707" r="3.6"/>
<circle cx="406.4" cy="699.8" r="3.6"/>
<circle cx="406.4" cy="707.1" r="3.6"/>
<circle cx="413.8" cy="705.2" r="3.6"/>
<circle cx="421.3" cy="700.5" r="3.6"/>
<circle cx="421.3" cy="708" r="3.6"/>
<circle cx="428.7" cy="705.2" r="3.6"/>
<circle cx="458.4" cy="705.2" r="3.6"/>
<circle cx="242.8" cy="729.2" r="3.6"/>
<circle cx="257.6" cy="729.2" r="3.6"/>
<circle cx="265.1" cy="725.2" r="3.6"/>
<circle cx="265.1" cy="731.1" r="3.6"/>
<circle cx="272.5" cy="726.4" r="3.6"/>
<circle cx="272.5" cy="732.2" r="3.6"/>
<circle cx="280" cy="724.9" r="3.6"/>
<circle cx="280" cy="732.4" r="3.6"/>
<circle cx="287.4" cy="729.2" r="3.6"/>
<circle cx="294.8" cy="727.3" r="3.6"/>
<circle cx="294.8" cy="734.5" r="3.6"/>
<circle cx="302.3" cy="726.1" r="3.6"/>
<circle cx="302.3" cy="733.5" r="3.6"/>
<circle cx="309.7" cy="725.2" r="3.6"/>
<circle cx="309.7" cy="730.3" r="3.6"/>
<circle cx="309.7" cy="735.4" r="3.6"/>
<circle cx="317.1" cy="727.5" r="3.6"/>
<circle cx="317.1" cy="732.9" r="3.6"/>
<circle cx="324.6" cy="727.1" r="3.6"/>
<circle cx="324.6" cy="733.4" r="3.6"/>
<circle cx="332" cy="724.7" r="3.6"/>
<circle cx="332" cy="729.8" r="3.6"/>
<circle cx="332" cy="735" r="3.6"/>
<circle cx="339.5" cy="729.2" r="3.6"/>
<circle cx="346.9" cy="725.6" r="3.6"/>
<circle cx="346.9" cy="731" r="3.6"/>
<circle cx="354.3" cy="728.3" r="3.6"/>
<circle cx="354.3" cy="733.9" r="3.6"/>
<circle cx="361.8" cy="729.2" r="3.6"/>
<circle cx="369.2" cy="726" r="3.6"/>
<circle cx="369.2" cy="732.2" r="3.6"/>
<circle cx="376.6" cy="729.2" r="3.6"/>
<circle cx="384.1" cy="729.2" r="3.6"/>
<circle cx="391.5" cy="724.8" r="3.6"/>
<circle cx="391.5" cy="731.9" r="3.6"/>
<circle cx="398.9" cy="729.2" r="3.6"/>
<circle cx="436.1" cy="729.2" r="3.6"/>
<circle cx="451" cy="725.5" r="3.6"/>
<circle cx="451" cy="732.9" r="3.6"/>
<circle cx="473.3" cy="729.2" r="3.6"/>
<circle cx="235.3" cy="749.5" r="3.6"/>
<circle cx="235.3" cy="756.9" r="3.6"/>
<circle cx="250.2" cy="753.2" r="3.6"/>
<circle cx="265.1" cy="750.7" r="3.6"/>
<circle cx="265.1" cy="757.6" r="3.6"/>
<circle cx="272.5" cy="750.9" r="3.6"/>
<circle cx="272.5" cy="756.9" r="3.6"/>
<circle cx="280" cy="748.4" r="3.6"/>
<circle cx="280" cy="753.4" r="3.6"/>
<circle cx="280" cy="758.3" r="3.6"/>
<circle cx="287.4" cy="748.9" r="3.6"/>
<circle cx="287.4" cy="754.6" r="3.6"/>
<circle cx="294.8" cy="748.3" r="3.6"/>
<circle cx="294.8" cy="755.7" r="3.6"/>
<circle cx="302.3" cy="750.3" r="3.6"/>
<circle cx="302.3" cy="756.1" r="3.6"/>
<circle cx="309.7" cy="751.2" r="3.6"/>
<circle cx="309.7" cy="758.8" r="3.6"/>
<circle cx="317.1" cy="750.2" r="3.6"/>
<circle cx="317.1" cy="755.8" r="3.6"/>
<circle cx="324.6" cy="747.8" r="3.6"/>
<circle cx="324.6" cy="752.5" r="3.6"/>
<circle cx="324.6" cy="757.2" r="3.6"/>
<circle cx="332" cy="749.8" r="3.6"/>
<circle cx="332" cy="755.3" r="3.6"/>
<circle cx="339.5" cy="749.1" r="3.6"/>
<circle cx="339.5" cy="755.1" r="3.6"/>
<circle cx="346.9" cy="749.9" r="3.6"/>
<circle cx="346.9" cy="757.2" r="3.6"/>
<circle cx="354.3" cy="751.2" r="3.6"/>
<circle cx="354.3" cy="757.5" r="3.6"/>
<circle cx="361.8" cy="753.2" r="3.6"/>
<circle cx="369.2" cy="753.2" r="3.6"/>
<circle cx="376.6" cy="749.6" r="3.6"/>
<circle cx="376.6" cy="756.1" r="3.6"/>
<circle cx="384.1" cy="753.2" r="3.6"/>
<circle cx="391.5" cy="753.2" r="3.6"/>
<circle cx="406.4" cy="753.2" r="3.6"/>
<circle cx="413.8" cy="753.2" r="3.6"/>
<circle cx="421.3" cy="753.2" r="3.6"/>
<circle cx="428.7" cy="753.2" r="3.6"/>
<circle cx="443.6" cy="753.2" r="3.6"/>
<circle cx="257.6" cy="773.5" r="3.6"/>
<circle cx="257.6" cy="780.5" r="3.6"/>
<circle cx="265.1" cy="777.2" r="3.6"/>
<circle cx="272.5" cy="772.3" r="3.6"/>
<circle cx="272.5" cy="778.3" r="3.6"/>
<circle cx="280" cy="777.2" r="3.6"/>
<circle cx="287.4" cy="776.5" r="3.6"/>
<circle cx="287.4" cy="782.1" r="3.6"/>
<circle cx="294.8" cy="773.9" r="3.6"/>
<circle cx="294.8" cy="780.7" r="3.6"/>
<circle cx="302.3" cy="775.9" r="3.6"/>
<circle cx="302.3" cy="781.8" r="3.6"/>
<circle cx="309.7" cy="773.3" r="3.6"/>
<circle cx="309.7" cy="779.2" r="3.6"/>
<circle cx="317.1" cy="773.6" r="3.6"/>
<circle cx="317.1" cy="780" r="3.6"/>
<circle cx="324.6" cy="777.2" r="3.6"/>
<circle cx="332" cy="777.2" r="3.6"/>
<circle cx="346.9" cy="774.5" r="3.6"/>
<circle cx="346.9" cy="781.9" r="3.6"/>
<circle cx="354.3" cy="774.7" r="3.6"/>
<circle cx="354.3" cy="781.3" r="3.6"/>
<circle cx="376.6" cy="773.5" r="3.6"/>
<circle cx="376.6" cy="781" r="3.6"/>
<circle cx="413.8" cy="777.2" r="3.6"/>
<circle cx="250.2" cy="796.7" r="3.6"/>
<circle cx="250.2" cy="804" r="3.6"/>
<circle cx="257.6" cy="799.8" r="3.6"/>
<circle cx="257.6" cy="806.2" r="3.6"/>
<circle cx="265.1" cy="801.3" r="3.6"/>
<circle cx="280" cy="798.1" r="3.6"/>
<circle cx="280" cy="804.8" r="3.6"/>
<circle cx="287.4" cy="795.6" r="3.6"/>
<circle cx="287.4" cy="801" r="3.6"/>
<circle cx="287.4" cy="806.4" r="3.6"/>
<circle cx="294.8" cy="799" r="3.6"/>
<circle cx="294.8" cy="806.3" r="3.6"/>
<circle cx="302.3" cy="797.6" r="3.6"/>
<circle cx="302.3" cy="802.4" r="3.6"/>
<circle cx="302.3" cy="807.2" r="3.6"/>
<circle cx="309.7" cy="796.7" r="3.6"/>
<circle cx="309.7" cy="802.4" r="3.6"/>
<circle cx="317.1" cy="796.1" r="3.6"/>
<circle cx="317.1" cy="801.3" r="3.6"/>
<circle cx="317.1" cy="806.5" r="3.6"/>
<circle cx="324.6" cy="797.1" r="3.6"/>
<circle cx="324.6" cy="802.3" r="3.6"/>
<circle cx="324.6" cy="807.6" r="3.6"/>
<circle cx="332" cy="798.4" r="3.6"/>
<circle cx="332" cy="805.4" r="3.6"/>
<circle cx="339.5" cy="797.8" r="3.6"/>
<circle cx="339.5" cy="804.4" r="3.6"/>
<circle cx="346.9" cy="801.3" r="3.6"/>
<circle cx="354.3" cy="801.3" r="3.6"/>
<circle cx="369.2" cy="801.3" r="3.6"/>
<circle cx="376.6" cy="801.3" r="3.6"/>
<circle cx="413.8" cy="801.3" r="3.6"/>
<circle cx="421.3" cy="801.3" r="3.6"/>
<circle cx="428.7" cy="796.7" r="3.6"/>
<circle cx="428.7" cy="804" r="3.6"/>
<circle cx="451" cy="801.3" r="3.6"/>
<circle cx="458.4" cy="801.3" r="3.6"/>
<circle cx="213" cy="825.3" r="3.6"/>
<circle cx="227.9" cy="825.3" r="3.6"/>
<circle cx="250.2" cy="821" r="3.6"/>
<circle cx="250.2" cy="828.5" r="3.6"/>
<circle cx="257.6" cy="822.1" r="3.6"/>
<circle cx="257.6" cy="829" r="3.6"/>
<circle cx="272.5" cy="821.6" r="3.6"/>
<circle cx="272.5" cy="829" r="3.6"/>
<circle cx="287.4" cy="825.3" r="3.6"/>
<circle cx="294.8" cy="820.7" r="3.6"/>
<circle cx="294.8" cy="826.6" r="3.6"/>
<circle cx="302.3" cy="820.4" r="3.6"/>
<circle cx="302.3" cy="825.6" r="3.6"/>
<circle cx="302.3" cy="830.8" r="3.6"/>
<circle cx="309.7" cy="825.3" r="3.6"/>
<circle cx="317.1" cy="820.8" r="3.6"/>
<circle cx="317.1" cy="826.3" r="3.6"/>
<circle cx="324.6" cy="822" r="3.6"/>
<circle cx="324.6" cy="828.7" r="3.6"/>
<circle cx="332" cy="825.3" r="3.6"/>
<circle cx="339.5" cy="821.9" r="3.6"/>
<circle cx="339.5" cy="827.7" r="3.6"/>
<circle cx="346.9" cy="825.3" r="3.6"/>
<circle cx="361.8" cy="825.3" r="3.6"/>
<circle cx="369.2" cy="825.3" r="3.6"/>
<circle cx="376.6" cy="825.3" r="3.6"/>
<circle cx="406.4" cy="825.3" r="3.6"/>
<circle cx="421.3" cy="821.6" r="3.6"/>
<circle cx="421.3" cy="829" r="3.6"/>
<circle cx="473.3" cy="825.3" r="3.6"/>
<circle cx="614.6" cy="825.3" r="3.6"/>
<circle cx="190.7" cy="849.3" r="3.6"/>
<circle cx="198.1" cy="846.1" r="3.6"/>
<circle cx="198.1" cy="852.8" r="3.6"/>
<circle cx="227.9" cy="849.3" r="3.6"/>
<circle cx="235.3" cy="849.3" r="3.6"/>
<circle cx="242.8" cy="849.3" r="3.6"/>
<circle cx="250.2" cy="845.2" r="3.6"/>
<circle cx="250.2" cy="851.6" r="3.6"/>
<circle cx="257.6" cy="849.3" r="3.6"/>
<circle cx="265.1" cy="847.9" r="3.6"/>
<circle cx="265.1" cy="854.7" r="3.6"/>
<circle cx="272.5" cy="849.3" r="3.6"/>
<circle cx="280" cy="849.3" r="3.6"/>
<circle cx="287.4" cy="847.8" r="3.6"/>
<circle cx="287.4" cy="854.2" r="3.6"/>
<circle cx="294.8" cy="845.2" r="3.6"/>
<circle cx="294.8" cy="851.1" r="3.6"/>
<circle cx="302.3" cy="847.8" r="3.6"/>
<circle cx="302.3" cy="854.8" r="3.6"/>
<circle cx="309.7" cy="845.7" r="3.6"/>
<circle cx="309.7" cy="851.1" r="3.6"/>
<circle cx="317.1" cy="845.8" r="3.6"/>
<circle cx="317.1" cy="852.7" r="3.6"/>
<circle cx="324.6" cy="846" r="3.6"/>
<circle cx="324.6" cy="851.9" r="3.6"/>
<circle cx="332" cy="846.3" r="3.6"/>
<circle cx="332" cy="853.7" r="3.6"/>
<circle cx="339.5" cy="845.4" r="3.6"/>
<circle cx="339.5" cy="850.8" r="3.6"/>
<circle cx="346.9" cy="845.4" r="3.6"/>
<circle cx="346.9" cy="851.7" r="3.6"/>
<circle cx="354.3" cy="849.3" r="3.6"/>
<circle cx="361.8" cy="849.3" r="3.6"/>
<circle cx="369.2" cy="849.3" r="3.6"/>
<circle cx="384.1" cy="846.2" r="3.6"/>
<circle cx="384.1" cy="853.1" r="3.6"/>
<circle cx="391.5" cy="849.3" r="3.6"/>
<circle cx="398.9" cy="849.3" r="3.6"/>
<circle cx="421.3" cy="849.3" r="3.6"/>
<circle cx="428.7" cy="849.3" r="3.6"/>
<circle cx="436.1" cy="847.1" r="3.6"/>
<circle cx="436.1" cy="854.1" r="3.6"/>
<circle cx="443.6" cy="849.3" r="3.6"/>
<circle cx="473.3" cy="849.3" r="3.6"/>
<circle cx="488.2" cy="849.3" r="3.6"/>
<circle cx="495.6" cy="849.3" r="3.6"/>
<circle cx="517.9" cy="849.3" r="3.6"/>
<circle cx="525.4" cy="849.3" r="3.6"/>
<circle cx="547.7" cy="849.3" r="3.6"/>
<circle cx="599.7" cy="849.3" r="3.6"/>
<circle cx="607.2" cy="849.3" r="3.6"/>
<circle cx="257.6" cy="869.9" r="3.6"/>
<circle cx="257.6" cy="876.7" r="3.6"/>
<circle cx="265.1" cy="873.3" r="3.6"/>
<circle cx="272.5" cy="873.3" r="3.6"/>
<circle cx="280" cy="873.3" r="3.6"/>
<circle cx="287.4" cy="873.3" r="3.6"/>
<circle cx="294.8" cy="872.3" r="3.6"/>
<circle cx="294.8" cy="878.4" r="3.6"/>
<circle cx="302.3" cy="871.8" r="3.6"/>
<circle cx="302.3" cy="877.6" r="3.6"/>
<circle cx="309.7" cy="868.5" r="3.6"/>
<circle cx="309.7" cy="875.6" r="3.6"/>
<circle cx="317.1" cy="867.3" r="3.6"/>
<circle cx="317.1" cy="872.8" r="3.6"/>
<circle cx="317.1" cy="878.3" r="3.6"/>
<circle cx="324.6" cy="868.5" r="3.6"/>
<circle cx="324.6" cy="873.3" r="3.6"/>
<circle cx="324.6" cy="878" r="3.6"/>
<circle cx="332" cy="868.9" r="3.6"/>
<circle cx="332" cy="875.2" r="3.6"/>
<circle cx="339.5" cy="873.3" r="3.6"/>
<circle cx="346.9" cy="873.3" r="3.6"/>
<circle cx="354.3" cy="873.3" r="3.6"/>
<circle cx="361.8" cy="870.3" r="3.6"/>
<circle cx="361.8" cy="877.8" r="3.6"/>
<circle cx="369.2" cy="868.6" r="3.6"/>
<circle cx="369.2" cy="874.8" r="3.6"/>
<circle cx="376.6" cy="873.3" r="3.6"/>
<circle cx="242.8" cy="893" r="3.6"/>
<circle cx="242.8" cy="900.5" r="3.6"/>
<circle cx="250.2" cy="891.8" r="3.6"/>
<circle cx="250.2" cy="896.4" r="3.6"/>
<circle cx="250.2" cy="901.1" r="3.6"/>
<circle cx="257.6" cy="891.3" r="3.6"/>
<circle cx="257.6" cy="896.2" r="3.6"/>
<circle cx="257.6" cy="901.2" r="3.6"/>
<circle cx="265.1" cy="895.4" r="3.6"/>
<circle cx="265.1" cy="902.7" r="3.6"/>
<circle cx="272.5" cy="894.5" r="3.6"/>
<circle cx="272.5" cy="902.1" r="3.6"/>
<circle cx="280" cy="896.2" r="3.6"/>
<circle cx="280" cy="902.2" r="3.6"/>
<circle cx="287.4" cy="891.1" r="3.6"/>
<circle cx="287.4" cy="896.5" r="3.6"/>
<circle cx="287.4" cy="902" r="3.6"/>
<circle cx="294.8" cy="893.3" r="3.6"/>
<circle cx="294.8" cy="897.9" r="3.6"/>
<circle cx="294.8" cy="902.5" r="3.6"/>
<circle cx="302.3" cy="894.9" r="3.6"/>
<circle cx="302.3" cy="901.1" r="3.6"/>
<circle cx="309.7" cy="893.7" r="3.6"/>
<circle cx="309.7" cy="899.8" r="3.6"/>
<circle cx="317.1" cy="893.2" r="3.6"/>
<circle cx="317.1" cy="898.5" r="3.6"/>
<circle cx="324.6" cy="893.3" r="3.6"/>
<circle cx="324.6" cy="899.4" r="3.6"/>
<circle cx="332" cy="896.5" r="3.6"/>
<circle cx="332" cy="902.1" r="3.6"/>
<circle cx="339.5" cy="896.4" r="3.6"/>
<circle cx="339.5" cy="902.2" r="3.6"/>
<circle cx="346.9" cy="893.1" r="3.6"/>
<circle cx="346.9" cy="900.3" r="3.6"/>
<circle cx="354.3" cy="895.6" r="3.6"/>
<circle cx="354.3" cy="901.9" r="3.6"/>
<circle cx="361.8" cy="892.1" r="3.6"/>
<circle cx="361.8" cy="898.5" r="3.6"/>
<circle cx="369.2" cy="893" r="3.6"/>
<circle cx="369.2" cy="900.5" r="3.6"/>
<circle cx="376.6" cy="892.9" r="3.6"/>
<circle cx="376.6" cy="899" r="3.6"/>
<circle cx="384.1" cy="896.3" r="3.6"/>
<circle cx="384.1" cy="901.7" r="3.6"/>
<circle cx="391.5" cy="891.8" r="3.6"/>
<circle cx="391.5" cy="897.1" r="3.6"/>
<circle cx="391.5" cy="902.4" r="3.6"/>
<circle cx="398.9" cy="895.8" r="3.6"/>
<circle cx="398.9" cy="901.2" r="3.6"/>
<circle cx="406.4" cy="897.3" r="3.6"/>
<circle cx="428.7" cy="897.3" r="3.6"/>
<circle cx="451" cy="897.3" r="3.6"/>
<circle cx="473.3" cy="897.3" r="3.6"/>
<circle cx="480.8" cy="897.3" r="3.6"/>
<circle cx="488.2" cy="897.3" r="3.6"/>
<circle cx="547.7" cy="897.3" r="3.6"/>
<circle cx="190.7" cy="921.3" r="3.6"/>
<circle cx="227.9" cy="917" r="3.6"/>
<circle cx="227.9" cy="923.7" r="3.6"/>
<circle cx="235.3" cy="917.5" r="3.6"/>
<circle cx="235.3" cy="922.3" r="3.6"/>
<circle cx="235.3" cy="927.1" r="3.6"/>
<circle cx="242.8" cy="918.7" r="3.6"/>
<circle cx="242.8" cy="926.1" r="3.6"/>
<circle cx="250.2" cy="917.6" r="3.6"/>
<circle cx="250.2" cy="923.6" r="3.6"/>
<circle cx="257.6" cy="921.3" r="3.6"/>
<circle cx="272.5" cy="918.6" r="3.6"/>
<circle cx="272.5" cy="925.8" r="3.6"/>
<circle cx="280" cy="915.5" r="3.6"/>
<circle cx="280" cy="920.7" r="3.6"/>
<circle cx="280" cy="926" r="3.6"/>
<circle cx="287.4" cy="917.5" r="3.6"/>
<circle cx="287.4" cy="923.5" r="3.6"/>
<circle cx="294.8" cy="915.6" r="3.6"/>
<circle cx="294.8" cy="922.7" r="3.6"/>
<circle cx="302.3" cy="919.8" r="3.6"/>
<circle cx="302.3" cy="926.5" r="3.6"/>
<circle cx="309.7" cy="917.8" r="3.6"/>
<circle cx="309.7" cy="922.4" r="3.6"/>
<circle cx="309.7" cy="927" r="3.6"/>
<circle cx="317.1" cy="916.9" r="3.6"/>
<circle cx="317.1" cy="923.3" r="3.6"/>
<circle cx="324.6" cy="916.9" r="3.6"/>
<circle cx="324.6" cy="922.4" r="3.6"/>
<circle cx="324.6" cy="927.9" r="3.6"/>
<circle cx="332" cy="917.9" r="3.6"/>
<circle cx="332" cy="923.8" r="3.6"/>
<circle cx="339.5" cy="916.1" r="3.6"/>
<circle cx="339.5" cy="921.1" r="3.6"/>
<circle cx="339.5" cy="926.2" r="3.6"/>
<circle cx="346.9" cy="920.3" r="3.6"/>
<circle cx="346.9" cy="926.1" r="3.6"/>
<circle cx="354.3" cy="919.1" r="3.6"/>
<circle cx="354.3" cy="926.2" r="3.6"/>
<circle cx="361.8" cy="918.3" r="3.6"/>
<circle cx="361.8" cy="925.6" r="3.6"/>
<circle cx="376.6" cy="921.3" r="3.6"/>
<circle cx="384.1" cy="918.7" r="3.6"/>
<circle cx="384.1" cy="924.8" r="3.6"/>
<circle cx="391.5" cy="917.4" r="3.6"/>
<circle cx="391.5" cy="923.6" r="3.6"/>
<circle cx="398.9" cy="919.8" r="3.6"/>
<circle cx="398.9" cy="925.3" r="3.6"/>
<circle cx="406.4" cy="921.3" r="3.6"/>
<circle cx="421.3" cy="921.3" r="3.6"/>
<circle cx="436.1" cy="921.3" r="3.6"/>
<circle cx="465.9" cy="921.3" r="3.6"/>
<circle cx="503.1" cy="921.3" r="3.6"/>
<circle cx="227.9" cy="945.3" r="3.6"/>
<circle cx="242.8" cy="945.3" r="3.6"/>
<circle cx="250.2" cy="945.3" r="3.6"/>
<circle cx="257.6" cy="940.5" r="3.6"/>
<circle cx="257.6" cy="947.5" r="3.6"/>
<circle cx="265.1" cy="945.3" r="3.6"/>
<circle cx="272.5" cy="941.5" r="3.6"/>
<circle cx="272.5" cy="946.9" r="3.6"/>
<circle cx="280" cy="940" r="3.6"/>
<circle cx="280" cy="946.6" r="3.6"/>
<circle cx="287.4" cy="939.4" r="3.6"/>
<circle cx="287.4" cy="944.9" r="3.6"/>
<circle cx="287.4" cy="950.4" r="3.6"/>
<circle cx="294.8" cy="943.2" r="3.6"/>
<circle cx="294.8" cy="950.8" r="3.6"/>
<circle cx="302.3" cy="941.5" r="3.6"/>
<circle cx="302.3" cy="947" r="3.6"/>
<circle cx="309.7" cy="940.3" r="3.6"/>
<circle cx="309.7" cy="946.8" r="3.6"/>
<circle cx="317.1" cy="943.1" r="3.6"/>
<circle cx="317.1" cy="949.4" r="3.6"/>
<circle cx="324.6" cy="941.3" r="3.6"/>
<circle cx="324.6" cy="948.3" r="3.6"/>
<circle cx="339.5" cy="941.9" r="3.6"/>
<circle cx="339.5" cy="949.2" r="3.6"/>
<circle cx="346.9" cy="942.8" r="3.6"/>
<circle cx="346.9" cy="950" r="3.6"/>
<circle cx="354.3" cy="943.2" r="3.6"/>
<circle cx="354.3" cy="948.8" r="3.6"/>
<circle cx="361.8" cy="945.3" r="3.6"/>
<circle cx="369.2" cy="943.8" r="3.6"/>
<circle cx="369.2" cy="949.8" r="3.6"/>
<circle cx="376.6" cy="945.3" r="3.6"/>
<circle cx="384.1" cy="942.5" r="3.6"/>
<circle cx="384.1" cy="948.7" r="3.6"/>
<circle cx="391.5" cy="945.3" r="3.6"/>
<circle cx="398.9" cy="942.4" r="3.6"/>
<circle cx="398.9" cy="949.2" r="3.6"/>
<circle cx="436.1" cy="945.3" r="3.6"/>
<circle cx="443.6" cy="941.4" r="3.6"/>
<circle cx="443.6" cy="948.3" r="3.6"/>
<circle cx="465.9" cy="945.3" r="3.6"/>
<circle cx="473.3" cy="945.3" r="3.6"/>
<circle cx="227.9" cy="969.3" r="3.6"/>
<circle cx="235.3" cy="969.3" r="3.6"/>
<circle cx="242.8" cy="969.3" r="3.6"/>
<circle cx="250.2" cy="964.1" r="3.6"/>
<circle cx="250.2" cy="971.5" r="3.6"/>
<circle cx="257.6" cy="966.6" r="3.6"/>
<circle cx="257.6" cy="972.7" r="3.6"/>
<circle cx="265.1" cy="969.3" r="3.6"/>
<circle cx="272.5" cy="965.1" r="3.6"/>
<circle cx="272.5" cy="972.7" r="3.6"/>
<circle cx="280" cy="969.3" r="3.6"/>
<circle cx="287.4" cy="966.4" r="3.6"/>
<circle cx="287.4" cy="972.3" r="3.6"/>
<circle cx="294.8" cy="967.3" r="3.6"/>
<circle cx="294.8" cy="974.1" r="3.6"/>
<circle cx="302.3" cy="968.7" r="3.6"/>
<circle cx="302.3" cy="974.3" r="3.6"/>
<circle cx="309.7" cy="969.3" r="3.6"/>
<circle cx="317.1" cy="965.6" r="3.6"/>
<circle cx="317.1" cy="972.8" r="3.6"/>
<circle cx="324.6" cy="969.3" r="3.6"/>
<circle cx="339.5" cy="965.6" r="3.6"/>
<circle cx="339.5" cy="973" r="3.6"/>
<circle cx="354.3" cy="966.3" r="3.6"/>
<circle cx="354.3" cy="973.7" r="3.6"/>
<circle cx="361.8" cy="969.3" r="3.6"/>
<circle cx="369.2" cy="963.4" r="3.6"/>
<circle cx="369.2" cy="968.2" r="3.6"/>
<circle cx="369.2" cy="973.1" r="3.6"/>
<circle cx="376.6" cy="965.2" r="3.6"/>
<circle cx="376.6" cy="972" r="3.6"/>
<circle cx="398.9" cy="969.3" r="3.6"/>
<circle cx="436.1" cy="969.3" r="3.6"/>
<circle cx="473.3" cy="969.3" r="3.6"/>
<circle cx="525.4" cy="969.3" r="3.6"/>
<circle cx="570" cy="969.3" r="3.6"/>
<circle cx="614.6" cy="969.3" r="3.6"/>
<circle cx="220.5" cy="993.3" r="3.6"/>
<circle cx="227.9" cy="993.3" r="3.6"/>
<circle cx="242.8" cy="990.7" r="3.6"/>
<circle cx="242.8" cy="997.9" r="3.6"/>
<circle cx="250.2" cy="993.3" r="3.6"/>
<circle cx="257.6" cy="993.3" r="3.6"/>
<circle cx="265.1" cy="992.1" r="3.6"/>
<circle cx="265.1" cy="998.3" r="3.6"/>
<circle cx="272.5" cy="989.2" r="3.6"/>
<circle cx="272.5" cy="994.2" r="3.6"/>
<circle cx="272.5" cy="999.2" r="3.6"/>
<circle cx="280" cy="988.7" r="3.6"/>
<circle cx="280" cy="995.8" r="3.6"/>
<circle cx="287.4" cy="992.5" r="3.6"/>
<circle cx="287.4" cy="998.1" r="3.6"/>
<circle cx="294.8" cy="990.4" r="3.6"/>
<circle cx="294.8" cy="997.1" r="3.6"/>
<circle cx="302.3" cy="989" r="3.6"/>
<circle cx="302.3" cy="995.2" r="3.6"/>
<circle cx="309.7" cy="988.9" r="3.6"/>
<circle cx="309.7" cy="994.7" r="3.6"/>
<circle cx="317.1" cy="988.9" r="3.6"/>
<circle cx="317.1" cy="995.6" r="3.6"/>
<circle cx="324.6" cy="988.9" r="3.6"/>
<circle cx="324.6" cy="993.7" r="3.6"/>
<circle cx="324.6" cy="998.5" r="3.6"/>
<circle cx="332" cy="988.2" r="3.6"/>
<circle cx="332" cy="994.2" r="3.6"/>
<circle cx="339.5" cy="991.2" r="3.6"/>
<circle cx="339.5" cy="997" r="3.6"/>
<circle cx="346.9" cy="993.3" r="3.6"/>
<circle cx="354.3" cy="989.6" r="3.6"/>
<circle cx="354.3" cy="995.4" r="3.6"/>
<circle cx="361.8" cy="993.3" r="3.6"/>
<circle cx="391.5" cy="993.3" r="3.6"/>
<circle cx="413.8" cy="993.3" r="3.6"/>
<circle cx="436.1" cy="993.3" r="3.6"/>
<circle cx="443.6" cy="993.3" r="3.6"/>
<circle cx="451" cy="993.3" r="3.6"/>
<circle cx="473.3" cy="989.6" r="3.6"/>
<circle cx="473.3" cy="997" r="3.6"/>
<circle cx="242.8" cy="1013.6" r="3.6"/>
<circle cx="242.8" cy="1021.1" r="3.6"/>
<circle cx="257.6" cy="1014.4" r="3.6"/>
<circle cx="257.6" cy="1021.5" r="3.6"/>
<circle cx="265.1" cy="1012.6" r="3.6"/>
<circle cx="265.1" cy="1018.2" r="3.6"/>
<circle cx="272.5" cy="1017.4" r="3.6"/>
<circle cx="280" cy="1013.6" r="3.6"/>
<circle cx="280" cy="1020.2" r="3.6"/>
<circle cx="287.4" cy="1015.2" r="3.6"/>
<circle cx="287.4" cy="1020.7" r="3.6"/>
<circle cx="294.8" cy="1012.4" r="3.6"/>
<circle cx="294.8" cy="1019.3" r="3.6"/>
<circle cx="302.3" cy="1012.3" r="3.6"/>
<circle cx="302.3" cy="1017.1" r="3.6"/>
<circle cx="302.3" cy="1022" r="3.6"/>
<circle cx="309.7" cy="1011.4" r="3.6"/>
<circle cx="309.7" cy="1016.9" r="3.6"/>
<circle cx="309.7" cy="1022.4" r="3.6"/>
<circle cx="317.1" cy="1011.8" r="3.6"/>
<circle cx="317.1" cy="1016.9" r="3.6"/>
<circle cx="317.1" cy="1022" r="3.6"/>
<circle cx="324.6" cy="1013.6" r="3.6"/>
<circle cx="324.6" cy="1019.9" r="3.6"/>
<circle cx="332" cy="1015.1" r="3.6"/>
<circle cx="332" cy="1022.8" r="3.6"/>
<circle cx="339.5" cy="1013.9" r="3.6"/>
<circle cx="339.5" cy="1019.6" r="3.6"/>
<circle cx="346.9" cy="1015.5" r="3.6"/>
<circle cx="346.9" cy="1021.3" r="3.6"/>
<circle cx="354.3" cy="1011.5" r="3.6"/>
<circle cx="354.3" cy="1018.9" r="3.6"/>
<circle cx="361.8" cy="1013.4" r="3.6"/>
<circle cx="361.8" cy="1020.6" r="3.6"/>
<circle cx="369.2" cy="1011.7" r="3.6"/>
<circle cx="369.2" cy="1017.1" r="3.6"/>
<circle cx="369.2" cy="1022.5" r="3.6"/>
<circle cx="376.6" cy="1017.4" r="3.6"/>
<circle cx="391.5" cy="1017.4" r="3.6"/>
<circle cx="398.9" cy="1017.4" r="3.6"/>
<circle cx="406.4" cy="1017.4" r="3.6"/>
<circle cx="421.3" cy="1017.4" r="3.6"/>
<circle cx="436.1" cy="1017.4" r="3.6"/>
<circle cx="235.3" cy="1037.7" r="3.6"/>
<circle cx="235.3" cy="1045.1" r="3.6"/>
<circle cx="257.6" cy="1041.4" r="3.6"/>
<circle cx="265.1" cy="1038.3" r="3.6"/>
<circle cx="265.1" cy="1044" r="3.6"/>
<circle cx="272.5" cy="1035.9" r="3.6"/>
<circle cx="272.5" cy="1042.5" r="3.6"/>
<circle cx="280" cy="1041.4" r="3.6"/>
<circle cx="287.4" cy="1038.3" r="3.6"/>
<circle cx="287.4" cy="1045.7" r="3.6"/>
<circle cx="294.8" cy="1036.2" r="3.6"/>
<circle cx="294.8" cy="1042.9" r="3.6"/>
<circle cx="302.3" cy="1037.5" r="3.6"/>
<circle cx="302.3" cy="1044" r="3.6"/>
<circle cx="309.7" cy="1041.4" r="3.6"/>
<circle cx="317.1" cy="1041.4" r="3.6"/>
<circle cx="324.6" cy="1036.8" r="3.6"/>
<circle cx="324.6" cy="1042.8" r="3.6"/>
<circle cx="332" cy="1037.7" r="3.6"/>
<circle cx="332" cy="1045.2" r="3.6"/>
<circle cx="339.5" cy="1041.4" r="3.6"/>
<circle cx="346.9" cy="1036.4" r="3.6"/>
<circle cx="346.9" cy="1042.9" r="3.6"/>
<circle cx="354.3" cy="1041.4" r="3.6"/>
<circle cx="369.2" cy="1041.4" r="3.6"/>
<circle cx="384.1" cy="1037.7" r="3.6"/>
<circle cx="384.1" cy="1045.1" r="3.6"/>
<circle cx="413.8" cy="1041.4" r="3.6"/>
<circle cx="451" cy="1041.4" r="3.6"/>
<circle cx="503.1" cy="1041.4" r="3.6"/>
<circle cx="540.2" cy="1041.4" r="3.6"/>
<circle cx="287.4" cy="1065.4" r="3.6"/>
<circle cx="302.3" cy="1062.2" r="3.6"/>
<circle cx="302.3" cy="1069.7" r="3.6"/>
<circle cx="309.7" cy="1061.2" r="3.6"/>
<circle cx="309.7" cy="1066.8" r="3.6"/>
<circle cx="317.1" cy="1063.5" r="3.6"/>
<circle cx="317.1" cy="1071.1" r="3.6"/>
<circle cx="324.6" cy="1062.6" r="3.6"/>
<circle cx="324.6" cy="1068" r="3.6"/>
<circle cx="332" cy="1064.1" r="3.6"/>
<circle cx="332" cy="1070.4" r="3.6"/>
<circle cx="339.5" cy="1062.6" r="3.6"/>
<circle cx="339.5" cy="1069.8" r="3.6"/>
<circle cx="451" cy="1065.4" r="3.6"/>
<circle cx="525.4" cy="1065.4" r="3.6"/>
<circle cx="250.2" cy="1089.4" r="3.6"/>
<circle cx="257.6" cy="1088" r="3.6"/>
<circle cx="257.6" cy="1093.7" r="3.6"/>
<circle cx="265.1" cy="1089.4" r="3.6"/>
<circle cx="272.5" cy="1087.7" r="3.6"/>
<circle cx="272.5" cy="1093.6" r="3.6"/>
<circle cx="280" cy="1085.5" r="3.6"/>
<circle cx="280" cy="1092.9" r="3.6"/>
<circle cx="302.3" cy="1086.6" r="3.6"/>
<circle cx="302.3" cy="1093.4" r="3.6"/>
<circle cx="309.7" cy="1085" r="3.6"/>
<circle cx="309.7" cy="1091.3" r="3.6"/>
<circle cx="317.1" cy="1089.4" r="3.6"/>
<circle cx="324.6" cy="1086.4" r="3.6"/>
<circle cx="324.6" cy="1092.6" r="3.6"/>
<circle cx="332" cy="1084.8" r="3.6"/>
<circle cx="332" cy="1090.7" r="3.6"/>
<circle cx="339.5" cy="1089.4" r="3.6"/>
<circle cx="369.2" cy="1089.4" r="3.6"/>
<circle cx="376.6" cy="1089.4" r="3.6"/>
<circle cx="384.1" cy="1086.7" r="3.6"/>
<circle cx="384.1" cy="1094.1" r="3.6"/>
<circle cx="391.5" cy="1084.9" r="3.6"/>
<circle cx="391.5" cy="1092" r="3.6"/>
<circle cx="406.4" cy="1089.4" r="3.6"/>
<circle cx="413.8" cy="1089.4" r="3.6"/>
<circle cx="451" cy="1089.4" r="3.6"/>
<circle cx="488.2" cy="1089.4" r="3.6"/>
<circle cx="510.5" cy="1089.4" r="3.6"/>
<circle cx="636.9" cy="1089.4" r="3.6"/>
<circle cx="227.9" cy="1113.4" r="3.6"/>
<circle cx="235.3" cy="1113.4" r="3.6"/>
<circle cx="250.2" cy="1113.4" r="3.6"/>
<circle cx="257.6" cy="1113.4" r="3.6"/>
<circle cx="265.1" cy="1111.8" r="3.6"/>
<circle cx="265.1" cy="1117.2" r="3.6"/>
<circle cx="272.5" cy="1109.5" r="3.6"/>
<circle cx="272.5" cy="1114.2" r="3.6"/>
<circle cx="272.5" cy="1118.9" r="3.6"/>
<circle cx="280" cy="1108.5" r="3.6"/>
<circle cx="280" cy="1113.6" r="3.6"/>
<circle cx="280" cy="1118.7" r="3.6"/>
<circle cx="287.4" cy="1108.8" r="3.6"/>
<circle cx="287.4" cy="1113.7" r="3.6"/>
<circle cx="287.4" cy="1118.6" r="3.6"/>
<circle cx="294.8" cy="1109.7" r="3.6"/>
<circle cx="294.8" cy="1116.4" r="3.6"/>
<circle cx="302.3" cy="1108" r="3.6"/>
<circle cx="302.3" cy="1113.2" r="3.6"/>
<circle cx="302.3" cy="1118.4" r="3.6"/>
<circle cx="309.7" cy="1108.3" r="3.6"/>
<circle cx="309.7" cy="1113.3" r="3.6"/>
<circle cx="309.7" cy="1118.2" r="3.6"/>
<circle cx="317.1" cy="1107.9" r="3.6"/>
<circle cx="317.1" cy="1114.7" r="3.6"/>
<circle cx="324.6" cy="1108.6" r="3.6"/>
<circle cx="324.6" cy="1113.4" r="3.6"/>
<circle cx="324.6" cy="1118.2" r="3.6"/>
<circle cx="332" cy="1108.7" r="3.6"/>
<circle cx="332" cy="1114" r="3.6"/>
<circle cx="332" cy="1119.3" r="3.6"/>
<circle cx="339.5" cy="1110.3" r="3.6"/>
<circle cx="339.5" cy="1116.1" r="3.6"/>
<circle cx="346.9" cy="1108.6" r="3.6"/>
<circle cx="346.9" cy="1113.3" r="3.6"/>
<circle cx="346.9" cy="1118" r="3.6"/>
<circle cx="354.3" cy="1107.5" r="3.6"/>
<circle cx="354.3" cy="1112.5" r="3.6"/>
<circle cx="354.3" cy="1117.5" r="3.6"/>
<circle cx="361.8" cy="1108.4" r="3.6"/>
<circle cx="361.8" cy="1114.8" r="3.6"/>
<circle cx="369.2" cy="1110.7" r="3.6"/>
<circle cx="369.2" cy="1116.1" r="3.6"/>
<circle cx="376.6" cy="1111.2" r="3.6"/>
<circle cx="376.6" cy="1116.7" r="3.6"/>
<circle cx="384.1" cy="1108.6" r="3.6"/>
<circle cx="384.1" cy="1114" r="3.6"/>
<circle cx="384.1" cy="1119.3" r="3.6"/>
<circle cx="391.5" cy="1113.4" r="3.6"/>
<circle cx="398.9" cy="1110.7" r="3.6"/>
<circle cx="398.9" cy="1116.2" r="3.6"/>
<circle cx="406.4" cy="1109.9" r="3.6"/>
<circle cx="406.4" cy="1116.9" r="3.6"/>
<circle cx="421.3" cy="1113.4" r="3.6"/>
<circle cx="428.7" cy="1113.4" r="3.6"/>
<circle cx="436.1" cy="1113.4" r="3.6"/>
<circle cx="465.9" cy="1109.7" r="3.6"/>
<circle cx="465.9" cy="1117.1" r="3.6"/>
<circle cx="495.6" cy="1109.7" r="3.6"/>
<circle cx="495.6" cy="1117.1" r="3.6"/>
<circle cx="510.5" cy="1113.4" r="3.6"/>
<circle cx="235.3" cy="1133.7" r="3.6"/>
<circle cx="235.3" cy="1141.1" r="3.6"/>
<circle cx="250.2" cy="1134.9" r="3.6"/>
<circle cx="250.2" cy="1141.7" r="3.6"/>
<circle cx="257.6" cy="1135.2" r="3.6"/>
<circle cx="257.6" cy="1142.8" r="3.6"/>
<circle cx="265.1" cy="1137.4" r="3.6"/>
<circle cx="272.5" cy="1137.4" r="3.6"/>
<circle cx="280" cy="1134.8" r="3.6"/>
<circle cx="280" cy="1142" r="3.6"/>
<circle cx="287.4" cy="1132.3" r="3.6"/>
<circle cx="287.4" cy="1139.8" r="3.6"/>
<circle cx="294.8" cy="1131.9" r="3.6"/>
<circle cx="294.8" cy="1137.4" r="3.6"/>
<circle cx="294.8" cy="1142.9" r="3.6"/>
<circle cx="302.3" cy="1136.4" r="3.6"/>
<circle cx="302.3" cy="1142.1" r="3.6"/>
<circle cx="309.7" cy="1132.6" r="3.6"/>
<circle cx="309.7" cy="1138.1" r="3.6"/>
<circle cx="309.7" cy="1143.5" r="3.6"/>
<circle cx="317.1" cy="1132.4" r="3.6"/>
<circle cx="317.1" cy="1138.6" r="3.6"/>
<circle cx="324.6" cy="1135.7" r="3.6"/>
<circle cx="324.6" cy="1141.4" r="3.6"/>
<circle cx="332" cy="1136.2" r="3.6"/>
<circle cx="332" cy="1142.1" r="3.6"/>
<circle cx="339.5" cy="1136" r="3.6"/>
<circle cx="339.5" cy="1141.6" r="3.6"/>
<circle cx="346.9" cy="1132" r="3.6"/>
<circle cx="346.9" cy="1137.4" r="3.6"/>
<circle cx="346.9" cy="1142.8" r="3.6"/>
<circle cx="354.3" cy="1133.2" r="3.6"/>
<circle cx="354.3" cy="1139.1" r="3.6"/>
<circle cx="361.8" cy="1132.5" r="3.6"/>
<circle cx="361.8" cy="1137.4" r="3.6"/>
<circle cx="361.8" cy="1142.3" r="3.6"/>
<circle cx="369.2" cy="1131.5" r="3.6"/>
<circle cx="369.2" cy="1136.3" r="3.6"/>
<circle cx="369.2" cy="1141" r="3.6"/>
<circle cx="376.6" cy="1132.2" r="3.6"/>
<circle cx="376.6" cy="1139.6" r="3.6"/>
<circle cx="384.1" cy="1134.5" r="3.6"/>
<circle cx="384.1" cy="1141.9" r="3.6"/>
<circle cx="391.5" cy="1131.3" r="3.6"/>
<circle cx="391.5" cy="1136.6" r="3.6"/>
<circle cx="391.5" cy="1141.9" r="3.6"/>
<circle cx="398.9" cy="1137.4" r="3.6"/>
<circle cx="406.4" cy="1137.4" r="3.6"/>
<circle cx="443.6" cy="1133.7" r="3.6"/>
<circle cx="443.6" cy="1141.1" r="3.6"/>
<circle cx="465.9" cy="1137.4" r="3.6"/>
<circle cx="473.3" cy="1137.4" r="3.6"/>
<circle cx="488.2" cy="1133.7" r="3.6"/>
<circle cx="488.2" cy="1141.1" r="3.6"/>
<circle cx="190.7" cy="1161.4" r="3.6"/>
<circle cx="213" cy="1161.4" r="3.6"/>
<circle cx="235.3" cy="1157.1" r="3.6"/>
<circle cx="235.3" cy="1164.2" r="3.6"/>
<circle cx="242.8" cy="1156.8" r="3.6"/>
<circle cx="242.8" cy="1161.7" r="3.6"/>
<circle cx="242.8" cy="1166.6" r="3.6"/>
<circle cx="250.2" cy="1161.4" r="3.6"/>
<circle cx="257.6" cy="1159.8" r="3.6"/>
<circle cx="257.6" cy="1166.4" r="3.6"/>
<circle cx="265.1" cy="1158.1" r="3.6"/>
<circle cx="265.1" cy="1165.4" r="3.6"/>
<circle cx="272.5" cy="1155.9" r="3.6"/>
<circle cx="272.5" cy="1163.5" r="3.6"/>
<circle cx="280" cy="1161.4" r="3.6"/>
<circle cx="287.4" cy="1158.9" r="3.6"/>
<circle cx="287.4" cy="1165.1" r="3.6"/>
<circle cx="294.8" cy="1159.8" r="3.6"/>
<circle cx="294.8" cy="1165.7" r="3.6"/>
<circle cx="302.3" cy="1160.2" r="3.6"/>
<circle cx="302.3" cy="1166.9" r="3.6"/>
<circle cx="309.7" cy="1157.3" r="3.6"/>
<circle cx="309.7" cy="1164.3" r="3.6"/>
<circle cx="317.1" cy="1158.3" r="3.6"/>
<circle cx="317.1" cy="1164" r="3.6"/>
<circle cx="324.6" cy="1157.4" r="3.6"/>
<circle cx="324.6" cy="1162" r="3.6"/>
<circle cx="324.6" cy="1166.6" r="3.6"/>
<circle cx="332" cy="1161.4" r="3.6"/>
<circle cx="339.5" cy="1159.9" r="3.6"/>
<circle cx="339.5" cy="1165.8" r="3.6"/>
<circle cx="346.9" cy="1158.2" r="3.6"/>
<circle cx="346.9" cy="1165.8" r="3.6"/>
<circle cx="354.3" cy="1158.4" r="3.6"/>
<circle cx="354.3" cy="1165.2" r="3.6"/>
<circle cx="361.8" cy="1157.9" r="3.6"/>
<circle cx="361.8" cy="1163.3" r="3.6"/>
<circle cx="369.2" cy="1156.5" r="3.6"/>
<circle cx="369.2" cy="1162.2" r="3.6"/>
<circle cx="376.6" cy="1158.8" r="3.6"/>
<circle cx="376.6" cy="1165.1" r="3.6"/>
<circle cx="384.1" cy="1157.8" r="3.6"/>
<circle cx="384.1" cy="1165.2" r="3.6"/>
<circle cx="391.5" cy="1155.7" r="3.6"/>
<circle cx="391.5" cy="1160.5" r="3.6"/>
<circle cx="391.5" cy="1165.3" r="3.6"/>
<circle cx="398.9" cy="1158.4" r="3.6"/>
<circle cx="398.9" cy="1165.1" r="3.6"/>
<circle cx="413.8" cy="1161.4" r="3.6"/>
<circle cx="428.7" cy="1156.9" r="3.6"/>
<circle cx="428.7" cy="1163.9" r="3.6"/>
<circle cx="436.1" cy="1161.4" r="3.6"/>
<circle cx="458.4" cy="1156.2" r="3.6"/>
<circle cx="458.4" cy="1161.4" r="3.6"/>
<circle cx="458.4" cy="1166.6" r="3.6"/>
<circle cx="265.1" cy="1181.1" r="3.6"/>
<circle cx="265.1" cy="1188.1" r="3.6"/>
<circle cx="272.5" cy="1185.4" r="3.6"/>
<circle cx="280" cy="1181.3" r="3.6"/>
<circle cx="280" cy="1188.5" r="3.6"/>
<circle cx="294.8" cy="1185.4" r="3.6"/>
<circle cx="302.3" cy="1182.9" r="3.6"/>
<circle cx="302.3" cy="1188.7" r="3.6"/>
<circle cx="309.7" cy="1182.8" r="3.6"/>
<circle cx="309.7" cy="1189.2" r="3.6"/>
<circle cx="317.1" cy="1185.4" r="3.6"/>
<circle cx="324.6" cy="1180.1" r="3.6"/>
<circle cx="324.6" cy="1187.6" r="3.6"/>
<circle cx="332" cy="1185.4" r="3.6"/>
<circle cx="339.5" cy="1185.4" r="3.6"/>
<circle cx="346.9" cy="1185.4" r="3.6"/>
<circle cx="354.3" cy="1181.5" r="3.6"/>
<circle cx="354.3" cy="1188.3" r="3.6"/>
<circle cx="369.2" cy="1185.4" r="3.6"/>
<circle cx="398.9" cy="1185.4" r="3.6"/>
<circle cx="421.3" cy="1181.7" r="3.6"/>
<circle cx="421.3" cy="1189.1" r="3.6"/>
<circle cx="436.1" cy="1181.7" r="3.6"/>
<circle cx="436.1" cy="1189.1" r="3.6"/>
<circle cx="465.9" cy="1185.4" r="3.6"/>
<circle cx="480.8" cy="1185.4" r="3.6"/>
<circle cx="227.9" cy="1209.4" r="3.6"/>
<circle cx="235.3" cy="1209.4" r="3.6"/>
<circle cx="250.2" cy="1205" r="3.6"/>
<circle cx="250.2" cy="1212.2" r="3.6"/>
<circle cx="257.6" cy="1207.5" r="3.6"/>
<circle cx="257.6" cy="1214.6" r="3.6"/>
<circle cx="265.1" cy="1204.4" r="3.6"/>
<circle cx="265.1" cy="1209.2" r="3.6"/>
<circle cx="265.1" cy="1214" r="3.6"/>
<circle cx="272.5" cy="1203.9" r="3.6"/>
<circle cx="272.5" cy="1210.7" r="3.6"/>
<circle cx="280" cy="1206.6" r="3.6"/>
<circle cx="280" cy="1212.8" r="3.6"/>
<circle cx="287.4" cy="1206.9" r="3.6"/>
<circle cx="287.4" cy="1213.2" r="3.6"/>
<circle cx="294.8" cy="1207.8" r="3.6"/>
<circle cx="294.8" cy="1214.9" r="3.6"/>
<circle cx="302.3" cy="1204.6" r="3.6"/>
<circle cx="302.3" cy="1212" r="3.6"/>
<circle cx="309.7" cy="1204.1" r="3.6"/>
<circle cx="309.7" cy="1210.7" r="3.6"/>
<circle cx="317.1" cy="1206.1" r="3.6"/>
<circle cx="317.1" cy="1212" r="3.6"/>
<circle cx="324.6" cy="1203.9" r="3.6"/>
<circle cx="324.6" cy="1211" r="3.6"/>
<circle cx="332" cy="1203.2" r="3.6"/>
<circle cx="332" cy="1208.3" r="3.6"/>
<circle cx="332" cy="1213.4" r="3.6"/>
<circle cx="339.5" cy="1208.5" r="3.6"/>
<circle cx="339.5" cy="1214.2" r="3.6"/>
<circle cx="346.9" cy="1204.7" r="3.6"/>
<circle cx="346.9" cy="1211.5" r="3.6"/>
<circle cx="354.3" cy="1206.1" r="3.6"/>
<circle cx="354.3" cy="1212.9" r="3.6"/>
<circle cx="361.8" cy="1207.9" r="3.6"/>
<circle cx="361.8" cy="1213.7" r="3.6"/>
<circle cx="369.2" cy="1205.6" r="3.6"/>
<circle cx="369.2" cy="1211.6" r="3.6"/>
<circle cx="376.6" cy="1203.8" r="3.6"/>
<circle cx="376.6" cy="1211.1" r="3.6"/>
<circle cx="384.1" cy="1209.4" r="3.6"/>
<circle cx="391.5" cy="1209.4" r="3.6"/>
<circle cx="398.9" cy="1206.3" r="3.6"/>
<circle cx="398.9" cy="1213.6" r="3.6"/>
<circle cx="413.8" cy="1209.4" r="3.6"/>
<circle cx="421.3" cy="1209.4" r="3.6"/>
<circle cx="436.1" cy="1204.7" r="3.6"/>
<circle cx="436.1" cy="1212.1" r="3.6"/>
<circle cx="443.6" cy="1209.4" r="3.6"/>
<circle cx="465.9" cy="1209.4" r="3.6"/>
<circle cx="473.3" cy="1209.4" r="3.6"/>
<circle cx="510.5" cy="1209.4" r="3.6"/>
<circle cx="235.3" cy="1233.4" r="3.6"/>
<circle cx="257.6" cy="1230.4" r="3.6"/>
<circle cx="257.6" cy="1237.5" r="3.6"/>
<circle cx="265.1" cy="1229" r="3.6"/>
<circle cx="265.1" cy="1234" r="3.6"/>
<circle cx="265.1" cy="1239" r="3.6"/>
<circle cx="272.5" cy="1229.4" r="3.6"/>
<circle cx="272.5" cy="1235" r="3.6"/>
<circle cx="280" cy="1233.4" r="3.6"/>
<circle cx="287.4" cy="1229.6" r="3.6"/>
<circle cx="287.4" cy="1235" r="3.6"/>
<circle cx="294.8" cy="1227.8" r="3.6"/>
<circle cx="294.8" cy="1233" r="3.6"/>
<circle cx="294.8" cy="1238.3" r="3.6"/>
<circle cx="302.3" cy="1228.5" r="3.6"/>
<circle cx="302.3" cy="1233.9" r="3.6"/>
<circle cx="302.3" cy="1239.3" r="3.6"/>
<circle cx="309.7" cy="1231.4" r="3.6"/>
<circle cx="309.7" cy="1237.3" r="3.6"/>
<circle cx="317.1" cy="1230.5" r="3.6"/>
<circle cx="317.1" cy="1236.8" r="3.6"/>
<circle cx="324.6" cy="1231.4" r="3.6"/>
<circle cx="324.6" cy="1238" r="3.6"/>
<circle cx="332" cy="1229" r="3.6"/>
<circle cx="332" cy="1235.8" r="3.6"/>
<circle cx="339.5" cy="1232.6" r="3.6"/>
<circle cx="339.5" cy="1238.4" r="3.6"/>
<circle cx="346.9" cy="1232.4" r="3.6"/>
<circle cx="346.9" cy="1237.8" r="3.6"/>
<circle cx="354.3" cy="1229.5" r="3.6"/>
<circle cx="354.3" cy="1235.3" r="3.6"/>
<circle cx="361.8" cy="1230.8" r="3.6"/>
<circle cx="361.8" cy="1238.3" r="3.6"/>
<circle cx="369.2" cy="1231.5" r="3.6"/>
<circle cx="369.2" cy="1237.6" r="3.6"/>
<circle cx="376.6" cy="1233.4" r="3.6"/>
<circle cx="384.1" cy="1232.1" r="3.6"/>
<circle cx="384.1" cy="1238.2" r="3.6"/>
<circle cx="391.5" cy="1233.4" r="3.6"/>
<circle cx="398.9" cy="1228.6" r="3.6"/>
<circle cx="398.9" cy="1236" r="3.6"/>
<circle cx="406.4" cy="1233.4" r="3.6"/>
<circle cx="413.8" cy="1233.4" r="3.6"/>
<circle cx="421.3" cy="1233.4" r="3.6"/>
<circle cx="428.7" cy="1233.4" r="3.6"/>
<circle cx="458.4" cy="1233.4" r="3.6"/>
<circle cx="465.9" cy="1233.4" r="3.6"/>
<circle cx="488.2" cy="1233.4" r="3.6"/>
<circle cx="510.5" cy="1233.4" r="3.6"/>
<circle cx="570" cy="1233.4" r="3.6"/>
<circle cx="235.3" cy="1257.5" r="3.6"/>
<circle cx="242.8" cy="1257.5" r="3.6"/>
<circle cx="250.2" cy="1254.6" r="3.6"/>
<circle cx="250.2" cy="1261.5" r="3.6"/>
<circle cx="257.6" cy="1257.5" r="3.6"/>
<circle cx="265.1" cy="1254.4" r="3.6"/>
<circle cx="265.1" cy="1262" r="3.6"/>
<circle cx="272.5" cy="1253.7" r="3.6"/>
<circle cx="272.5" cy="1260.9" r="3.6"/>
<circle cx="280" cy="1257.5" r="3.6"/>
<circle cx="287.4" cy="1254.7" r="3.6"/>
<circle cx="287.4" cy="1262" r="3.6"/>
<circle cx="294.8" cy="1253.7" r="3.6"/>
<circle cx="294.8" cy="1260.7" r="3.6"/>
<circle cx="302.3" cy="1252.8" r="3.6"/>
<circle cx="302.3" cy="1257.6" r="3.6"/>
<circle cx="302.3" cy="1262.5" r="3.6"/>
<circle cx="309.7" cy="1252.8" r="3.6"/>
<circle cx="309.7" cy="1259.6" r="3.6"/>
<circle cx="317.1" cy="1251" r="3.6"/>
<circle cx="317.1" cy="1256.4" r="3.6"/>
<circle cx="317.1" cy="1261.9" r="3.6"/>
<circle cx="324.6" cy="1252" r="3.6"/>
<circle cx="324.6" cy="1256.6" r="3.6"/>
<circle cx="324.6" cy="1261.2" r="3.6"/>
<circle cx="332" cy="1252" r="3.6"/>
<circle cx="332" cy="1259.4" r="3.6"/>
<circle cx="339.5" cy="1252.4" r="3.6"/>
<circle cx="339.5" cy="1257.1" r="3.6"/>
<circle cx="339.5" cy="1261.8" r="3.6"/>
<circle cx="346.9" cy="1251.7" r="3.6"/>
<circle cx="346.9" cy="1256.3" r="3.6"/>
<circle cx="346.9" cy="1260.9" r="3.6"/>
<circle cx="354.3" cy="1254.9" r="3.6"/>
<circle cx="354.3" cy="1261.7" r="3.6"/>
<circle cx="361.8" cy="1254.8" r="3.6"/>
<circle cx="361.8" cy="1261.8" r="3.6"/>
<circle cx="369.2" cy="1253" r="3.6"/>
<circle cx="369.2" cy="1260.2" r="3.6"/>
<circle cx="384.1" cy="1253.5" r="3.6"/>
<circle cx="384.1" cy="1260.9" r="3.6"/>
<circle cx="391.5" cy="1257.5" r="3.6"/>
<circle cx="413.8" cy="1257.5" r="3.6"/>
<circle cx="428.7" cy="1253.8" r="3.6"/>
<circle cx="428.7" cy="1261.2" r="3.6"/>
<circle cx="443.6" cy="1257.5" r="3.6"/>
<circle cx="458.4" cy="1257.5" r="3.6"/>
<circle cx="473.3" cy="1254.4" r="3.6"/>
<circle cx="473.3" cy="1261.8" r="3.6"/>
<circle cx="480.8" cy="1257.5" r="3.6"/>
<circle cx="503.1" cy="1257.5" r="3.6"/>
<circle cx="517.9" cy="1257.5" r="3.6"/>
<circle cx="525.4" cy="1257.5" r="3.6"/>
<circle cx="555.1" cy="1257.5" r="3.6"/>
<circle cx="562.6" cy="1257.5" r="3.6"/>
<circle cx="570" cy="1257.5" r="3.6"/>
<circle cx="659.2" cy="1257.5" r="3.6"/>
<circle cx="242.8" cy="1276.9" r="3.6"/>
<circle cx="242.8" cy="1284.3" r="3.6"/>
<circle cx="250.2" cy="1279.5" r="3.6"/>
<circle cx="250.2" cy="1287" r="3.6"/>
<circle cx="257.6" cy="1281.5" r="3.6"/>
<circle cx="265.1" cy="1275.7" r="3.6"/>
<circle cx="265.1" cy="1280.5" r="3.6"/>
<circle cx="265.1" cy="1285.3" r="3.6"/>
<circle cx="272.5" cy="1277" r="3.6"/>
<circle cx="272.5" cy="1282.5" r="3.6"/>
<circle cx="280" cy="1279.4" r="3.6"/>
<circle cx="280" cy="1286.6" r="3.6"/>
<circle cx="287.4" cy="1278.4" r="3.6"/>
<circle cx="287.4" cy="1285.7" r="3.6"/>
<circle cx="294.8" cy="1279" r="3.6"/>
<circle cx="294.8" cy="1285" r="3.6"/>
<circle cx="302.3" cy="1281.5" r="3.6"/>
<circle cx="309.7" cy="1281.5" r="3.6"/>
<circle cx="317.1" cy="1281.5" r="3.6"/>
<circle cx="324.6" cy="1275.8" r="3.6"/>
<circle cx="324.6" cy="1280.5" r="3.6"/>
<circle cx="324.6" cy="1285.2" r="3.6"/>
<circle cx="332" cy="1279.7" r="3.6"/>
<circle cx="332" cy="1285.5" r="3.6"/>
<circle cx="339.5" cy="1276.1" r="3.6"/>
<circle cx="339.5" cy="1281" r="3.6"/>
<circle cx="339.5" cy="1286" r="3.6"/>
<circle cx="346.9" cy="1276.4" r="3.6"/>
<circle cx="346.9" cy="1282.3" r="3.6"/>
<circle cx="354.3" cy="1277" r="3.6"/>
<circle cx="354.3" cy="1284" r="3.6"/>
<circle cx="361.8" cy="1277.8" r="3.6"/>
<circle cx="361.8" cy="1283.9" r="3.6"/>
<circle cx="369.2" cy="1281.5" r="3.6"/>
<circle cx="376.6" cy="1281.5" r="3.6"/>
<circle cx="391.5" cy="1281.5" r="3.6"/>
<circle cx="413.8" cy="1281.5" r="3.6"/>
<circle cx="421.3" cy="1281.5" r="3.6"/>
<circle cx="436.1" cy="1277.8" r="3.6"/>
<circle cx="436.1" cy="1285.2" r="3.6"/>
<circle cx="451" cy="1281.5" r="3.6"/>
<circle cx="458.4" cy="1281.5" r="3.6"/>
<circle cx="495.6" cy="1278.8" r="3.6"/>
<circle cx="495.6" cy="1285.9" r="3.6"/>
<circle cx="503.1" cy="1281.5" r="3.6"/>
<circle cx="517.9" cy="1277.8" r="3.6"/>
<circle cx="517.9" cy="1285.2" r="3.6"/>
<circle cx="532.8" cy="1278.6" r="3.6"/>
<circle cx="532.8" cy="1285.8" r="3.6"/>
<circle cx="540.2" cy="1281.5" r="3.6"/>
<circle cx="577.4" cy="1281.5" r="3.6"/>
<circle cx="584.9" cy="1281.5" r="3.6"/>
<circle cx="592.3" cy="1281.5" r="3.6"/>
<circle cx="614.6" cy="1281.5" r="3.6"/>
<circle cx="659.2" cy="1277.8" r="3.6"/>
<circle cx="659.2" cy="1285.2" r="3.6"/>
<circle cx="250.2" cy="1305.5" r="3.6"/>
<circle cx="257.6" cy="1305.5" r="3.6"/>
<circle cx="265.1" cy="1305.5" r="3.6"/>
<circle cx="272.5" cy="1300.3" r="3.6"/>
<circle cx="272.5" cy="1306.5" r="3.6"/>
<circle cx="280" cy="1305.5" r="3.6"/>
<circle cx="287.4" cy="1301.6" r="3.6"/>
<circle cx="287.4" cy="1308.7" r="3.6"/>
<circle cx="294.8" cy="1301.3" r="3.6"/>
<circle cx="294.8" cy="1308.3" r="3.6"/>
<circle cx="302.3" cy="1302.7" r="3.6"/>
<circle cx="302.3" cy="1308.5" r="3.6"/>
<circle cx="309.7" cy="1305.5" r="3.6"/>
<circle cx="317.1" cy="1305.5" r="3.6"/>
<circle cx="324.6" cy="1304.3" r="3.6"/>
<circle cx="324.6" cy="1309.8" r="3.6"/>
<circle cx="332" cy="1302.7" r="3.6"/>
<circle cx="332" cy="1309.5" r="3.6"/>
<circle cx="346.9" cy="1301.1" r="3.6"/>
<circle cx="346.9" cy="1307.9" r="3.6"/>
<circle cx="354.3" cy="1302.2" r="3.6"/>
<circle cx="354.3" cy="1309.8" r="3.6"/>
<circle cx="369.2" cy="1300.9" r="3.6"/>
<circle cx="369.2" cy="1308" r="3.6"/>
<circle cx="376.6" cy="1305.5" r="3.6"/>
<circle cx="384.1" cy="1305.5" r="3.6"/>
<circle cx="391.5" cy="1301.9" r="3.6"/>
<circle cx="391.5" cy="1309" r="3.6"/>
<circle cx="398.9" cy="1305.5" r="3.6"/>
<circle cx="451" cy="1305.5" r="3.6"/>
<circle cx="250.2" cy="1329.5" r="3.6"/>
<circle cx="257.6" cy="1329.5" r="3.6"/>
<circle cx="272.5" cy="1329.5" r="3.6"/>
<circle cx="280" cy="1324.9" r="3.6"/>
<circle cx="280" cy="1331.3" r="3.6"/>
<circle cx="287.4" cy="1325.2" r="3.6"/>
<circle cx="287.4" cy="1332.4" r="3.6"/>
<circle cx="294.8" cy="1324.7" r="3.6"/>
<circle cx="294.8" cy="1332.2" r="3.6"/>
<circle cx="302.3" cy="1329.5" r="3.6"/>
<circle cx="309.7" cy="1324.2" r="3.6"/>
<circle cx="309.7" cy="1329" r="3.6"/>
<circle cx="309.7" cy="1333.7" r="3.6"/>
<circle cx="317.1" cy="1327.1" r="3.6"/>
<circle cx="317.1" cy="1333.6" r="3.6"/>
<circle cx="324.6" cy="1323.4" r="3.6"/>
<circle cx="324.6" cy="1328.5" r="3.6"/>
<circle cx="324.6" cy="1333.7" r="3.6"/>
<circle cx="332" cy="1323.2" r="3.6"/>
<circle cx="332" cy="1328.5" r="3.6"/>
<circle cx="332" cy="1333.8" r="3.6"/>
<circle cx="339.5" cy="1326.8" r="3.6"/>
<circle cx="339.5" cy="1333.9" r="3.6"/>
<circle cx="346.9" cy="1327" r="3.6"/>
<circle cx="346.9" cy="1333.1" r="3.6"/>
<circle cx="354.3" cy="1325.9" r="3.6"/>
<circle cx="354.3" cy="1332.2" r="3.6"/>
<circle cx="361.8" cy="1328.4" r="3.6"/>
<circle cx="361.8" cy="1334" r="3.6"/>
<circle cx="369.2" cy="1328.5" r="3.6"/>
<circle cx="369.2" cy="1333.9" r="3.6"/>
<circle cx="376.6" cy="1329.5" r="3.6"/>
<circle cx="384.1" cy="1329.5" r="3.6"/>
<circle cx="391.5" cy="1329.5" r="3.6"/>
<circle cx="398.9" cy="1325.2" r="3.6"/>
<circle cx="398.9" cy="1331.2" r="3.6"/>
<circle cx="406.4" cy="1326.7" r="3.6"/>
<circle cx="406.4" cy="1333.8" r="3.6"/>
<circle cx="443.6" cy="1329.5" r="3.6"/>
<circle cx="451" cy="1329.5" r="3.6"/>
<circle cx="473.3" cy="1329.5" r="3.6"/>
<circle cx="555.1" cy="1329.5" r="3.6"/>
<circle cx="213" cy="1349.5" r="3.6"/>
<circle cx="213" cy="1357" r="3.6"/>
<circle cx="220.5" cy="1353.5" r="3.6"/>
<circle cx="227.9" cy="1353.5" r="3.6"/>
<circle cx="235.3" cy="1349.1" r="3.6"/>
<circle cx="235.3" cy="1355.5" r="3.6"/>
<circle cx="242.8" cy="1353.5" r="3.6"/>
<circle cx="250.2" cy="1353.5" r="3.6"/>
<circle cx="257.6" cy="1349.9" r="3.6"/>
<circle cx="257.6" cy="1357.2" r="3.6"/>
<circle cx="272.5" cy="1350.4" r="3.6"/>
<circle cx="272.5" cy="1357.6" r="3.6"/>
<circle cx="280" cy="1349.8" r="3.6"/>
<circle cx="280" cy="1355.9" r="3.6"/>
<circle cx="287.4" cy="1353.5" r="3.6"/>
<circle cx="294.8" cy="1348.3" r="3.6"/>
<circle cx="294.8" cy="1355.6" r="3.6"/>
<circle cx="302.3" cy="1348.6" r="3.6"/>
<circle cx="302.3" cy="1353.9" r="3.6"/>
<circle cx="302.3" cy="1359.1" r="3.6"/>
<circle cx="309.7" cy="1347.7" r="3.6"/>
<circle cx="309.7" cy="1352.7" r="3.6"/>
<circle cx="309.7" cy="1357.7" r="3.6"/>
<circle cx="317.1" cy="1349" r="3.6"/>
<circle cx="317.1" cy="1354.1" r="3.6"/>
<circle cx="317.1" cy="1359.3" r="3.6"/>
<circle cx="324.6" cy="1347.6" r="3.6"/>
<circle cx="324.6" cy="1352.6" r="3.6"/>
<circle cx="324.6" cy="1357.6" r="3.6"/>
<circle cx="332" cy="1349.6" r="3.6"/>
<circle cx="332" cy="1354.4" r="3.6"/>
<circle cx="332" cy="1359.2" r="3.6"/>
<circle cx="339.5" cy="1347.9" r="3.6"/>
<circle cx="339.5" cy="1352.7" r="3.6"/>
<circle cx="339.5" cy="1357.6" r="3.6"/>
<circle cx="346.9" cy="1348.6" r="3.6"/>
<circle cx="346.9" cy="1354" r="3.6"/>
<circle cx="346.9" cy="1359.3" r="3.6"/>
<circle cx="354.3" cy="1349.1" r="3.6"/>
<circle cx="354.3" cy="1354.8" r="3.6"/>
<circle cx="361.8" cy="1349.3" r="3.6"/>
<circle cx="361.8" cy="1355.4" r="3.6"/>
<circle cx="369.2" cy="1350.1" r="3.6"/>
<circle cx="369.2" cy="1356.9" r="3.6"/>
<circle cx="384.1" cy="1349.7" r="3.6"/>
<circle cx="384.1" cy="1356.6" r="3.6"/>
<circle cx="391.5" cy="1352.1" r="3.6"/>
<circle cx="391.5" cy="1359.1" r="3.6"/>
<circle cx="398.9" cy="1353.5" r="3.6"/>
<circle cx="406.4" cy="1353.5" r="3.6"/>
<circle cx="413.8" cy="1348" r="3.6"/>
<circle cx="413.8" cy="1355.5" r="3.6"/>
<circle cx="421.3" cy="1348.6" r="3.6"/>
<circle cx="421.3" cy="1354.8" r="3.6"/>
<circle cx="428.7" cy="1353.5" r="3.6"/>
<circle cx="436.1" cy="1353.5" r="3.6"/>
<circle cx="458.4" cy="1353.5" r="3.6"/>
<circle cx="465.9" cy="1353.5" r="3.6"/>
<circle cx="570" cy="1353.5" r="3.6"/>
<circle cx="198.1" cy="1377.5" r="3.6"/>
<circle cx="242.8" cy="1377.5" r="3.6"/>
<circle cx="257.6" cy="1374.8" r="3.6"/>
<circle cx="257.6" cy="1382.2" r="3.6"/>
<circle cx="265.1" cy="1375.4" r="3.6"/>
<circle cx="265.1" cy="1381.7" r="3.6"/>
<circle cx="272.5" cy="1372.8" r="3.6"/>
<circle cx="272.5" cy="1379.6" r="3.6"/>
<circle cx="280" cy="1372.9" r="3.6"/>
<circle cx="280" cy="1378.7" r="3.6"/>
<circle cx="287.4" cy="1374.3" r="3.6"/>
<circle cx="287.4" cy="1379.7" r="3.6"/>
<circle cx="294.8" cy="1373.5" r="3.6"/>
<circle cx="294.8" cy="1380.6" r="3.6"/>
<circle cx="302.3" cy="1375.1" r="3.6"/>
<circle cx="302.3" cy="1381.6" r="3.6"/>
<circle cx="309.7" cy="1372.8" r="3.6"/>
<circle cx="309.7" cy="1377.8" r="3.6"/>
<circle cx="309.7" cy="1382.8" r="3.6"/>
<circle cx="317.1" cy="1371.5" r="3.6"/>
<circle cx="317.1" cy="1376.6" r="3.6"/>
<circle cx="317.1" cy="1381.8" r="3.6"/>
<circle cx="324.6" cy="1372" r="3.6"/>
<circle cx="324.6" cy="1377.3" r="3.6"/>
<circle cx="324.6" cy="1382.5" r="3.6"/>
<circle cx="332" cy="1373.5" r="3.6"/>
<circle cx="332" cy="1378.5" r="3.6"/>
<circle cx="332" cy="1383.5" r="3.6"/>
<circle cx="339.5" cy="1372.4" r="3.6"/>
<circle cx="339.5" cy="1377.7" r="3.6"/>
<circle cx="339.5" cy="1383" r="3.6"/>
<circle cx="346.9" cy="1374.2" r="3.6"/>
<circle cx="346.9" cy="1380.1" r="3.6"/>
<circle cx="354.3" cy="1372.6" r="3.6"/>
<circle cx="354.3" cy="1378" r="3.6"/>
<circle cx="354.3" cy="1383.4" r="3.6"/>
<circle cx="361.8" cy="1372.9" r="3.6"/>
<circle cx="361.8" cy="1378.2" r="3.6"/>
<circle cx="361.8" cy="1383.4" r="3.6"/>
<circle cx="369.2" cy="1375.6" r="3.6"/>
<circle cx="369.2" cy="1382.5" r="3.6"/>
<circle cx="376.6" cy="1372.8" r="3.6"/>
<circle cx="376.6" cy="1377.8" r="3.6"/>
<circle cx="376.6" cy="1382.8" r="3.6"/>
<circle cx="384.1" cy="1373.3" r="3.6"/>
<circle cx="384.1" cy="1380.1" r="3.6"/>
<circle cx="391.5" cy="1373.2" r="3.6"/>
<circle cx="391.5" cy="1380.2" r="3.6"/>
<circle cx="406.4" cy="1374.4" r="3.6"/>
<circle cx="406.4" cy="1381.7" r="3.6"/>
<circle cx="413.8" cy="1375.1" r="3.6"/>
<circle cx="413.8" cy="1381" r="3.6"/>
<circle cx="421.3" cy="1377.5" r="3.6"/>
<circle cx="428.7" cy="1377.5" r="3.6"/>
<circle cx="436.1" cy="1374" r="3.6"/>
<circle cx="436.1" cy="1380.3" r="3.6"/>
<circle cx="443.6" cy="1377.5" r="3.6"/>
<circle cx="451" cy="1372.8" r="3.6"/>
<circle cx="451" cy="1377.8" r="3.6"/>
<circle cx="451" cy="1382.8" r="3.6"/>
<circle cx="458.4" cy="1374.1" r="3.6"/>
<circle cx="458.4" cy="1381.6" r="3.6"/>
<circle cx="473.3" cy="1373.8" r="3.6"/>
<circle cx="473.3" cy="1381.2" r="3.6"/>
<circle cx="503.1" cy="1372.3" r="3.6"/>
<circle cx="503.1" cy="1377.5" r="3.6"/>
<circle cx="503.1" cy="1382.7" r="3.6"/>
<circle cx="592.3" cy="1377.5" r="3.6"/>
<circle cx="614.6" cy="1377.5" r="3.6"/>
<circle cx="242.8" cy="1401.5" r="3.6"/>
<circle cx="250.2" cy="1396.7" r="3.6"/>
<circle cx="250.2" cy="1403.5" r="3.6"/>
<circle cx="257.6" cy="1401.5" r="3.6"/>
<circle cx="265.1" cy="1401.5" r="3.6"/>
<circle cx="280" cy="1401.5" r="3.6"/>
<circle cx="287.4" cy="1401.5" r="3.6"/>
<circle cx="294.8" cy="1399.6" r="3.6"/>
<circle cx="294.8" cy="1405.8" r="3.6"/>
<circle cx="302.3" cy="1397.7" r="3.6"/>
<circle cx="302.3" cy="1405.2" r="3.6"/>
<circle cx="309.7" cy="1396.2" r="3.6"/>
<circle cx="309.7" cy="1402.8" r="3.6"/>
<circle cx="317.1" cy="1401.5" r="3.6"/>
<circle cx="324.6" cy="1401.5" r="3.6"/>
<circle cx="332" cy="1401.5" r="3.6"/>
<circle cx="339.5" cy="1397.2" r="3.6"/>
<circle cx="339.5" cy="1404.5" r="3.6"/>
<circle cx="354.3" cy="1401.5" r="3.6"/>
<circle cx="369.2" cy="1401.5" r="3.6"/>
<circle cx="398.9" cy="1398.8" r="3.6"/>
<circle cx="398.9" cy="1406" r="3.6"/>
<circle cx="406.4" cy="1396.4" r="3.6"/>
<circle cx="406.4" cy="1403.1" r="3.6"/>
<circle cx="413.8" cy="1398.2" r="3.6"/>
<circle cx="413.8" cy="1405.2" r="3.6"/>
<circle cx="421.3" cy="1401.5" r="3.6"/>
<circle cx="436.1" cy="1401.5" r="3.6"/>
<circle cx="443.6" cy="1401.5" r="3.6"/>
<circle cx="451" cy="1401.5" r="3.6"/>
<circle cx="473.3" cy="1401.5" r="3.6"/>
<circle cx="525.4" cy="1401.5" r="3.6"/>
<circle cx="213" cy="1425.5" r="3.6"/>
<circle cx="220.5" cy="1425.5" r="3.6"/>
<circle cx="235.3" cy="1425.5" r="3.6"/>
<circle cx="242.8" cy="1422.2" r="3.6"/>
<circle cx="242.8" cy="1429" r="3.6"/>
<circle cx="250.2" cy="1425.5" r="3.6"/>
<circle cx="265.1" cy="1422.6" r="3.6"/>
<circle cx="265.1" cy="1429.7" r="3.6"/>
<circle cx="272.5" cy="1421.4" r="3.6"/>
<circle cx="272.5" cy="1428.9" r="3.6"/>
<circle cx="280" cy="1420.8" r="3.6"/>
<circle cx="280" cy="1427.7" r="3.6"/>
<circle cx="287.4" cy="1420" r="3.6"/>
<circle cx="287.4" cy="1425.3" r="3.6"/>
<circle cx="287.4" cy="1430.6" r="3.6"/>
<circle cx="294.8" cy="1420.1" r="3.6"/>
<circle cx="294.8" cy="1427.7" r="3.6"/>
<circle cx="302.3" cy="1420.5" r="3.6"/>
<circle cx="302.3" cy="1425.2" r="3.6"/>
<circle cx="302.3" cy="1429.8" r="3.6"/>
<circle cx="309.7" cy="1421.4" r="3.6"/>
<circle cx="309.7" cy="1427.6" r="3.6"/>
<circle cx="317.1" cy="1420.2" r="3.6"/>
<circle cx="317.1" cy="1426.5" r="3.6"/>
<circle cx="324.6" cy="1421.7" r="3.6"/>
<circle cx="324.6" cy="1428.6" r="3.6"/>
<circle cx="332" cy="1421.9" r="3.6"/>
<circle cx="332" cy="1427.8" r="3.6"/>
<circle cx="339.5" cy="1420.8" r="3.6"/>
<circle cx="339.5" cy="1427.8" r="3.6"/>
<circle cx="346.9" cy="1421.5" r="3.6"/>
<circle cx="346.9" cy="1426.6" r="3.6"/>
<circle cx="346.9" cy="1431.6" r="3.6"/>
<circle cx="354.3" cy="1420.7" r="3.6"/>
<circle cx="354.3" cy="1427.9" r="3.6"/>
<circle cx="361.8" cy="1420.5" r="3.6"/>
<circle cx="361.8" cy="1425.3" r="3.6"/>
<circle cx="361.8" cy="1430" r="3.6"/>
<circle cx="369.2" cy="1419.3" r="3.6"/>
<circle cx="369.2" cy="1424.6" r="3.6"/>
<circle cx="369.2" cy="1429.9" r="3.6"/>
<circle cx="376.6" cy="1421.1" r="3.6"/>
<circle cx="376.6" cy="1426.3" r="3.6"/>
<circle cx="376.6" cy="1431.4" r="3.6"/>
<circle cx="384.1" cy="1422.1" r="3.6"/>
<circle cx="384.1" cy="1428.7" r="3.6"/>
<circle cx="391.5" cy="1420.5" r="3.6"/>
<circle cx="391.5" cy="1428.1" r="3.6"/>
<circle cx="398.9" cy="1421.5" r="3.6"/>
<circle cx="398.9" cy="1428.3" r="3.6"/>
<circle cx="406.4" cy="1425.5" r="3.6"/>
<circle cx="413.8" cy="1423.3" r="3.6"/>
<circle cx="413.8" cy="1430.5" r="3.6"/>
<circle cx="421.3" cy="1425.5" r="3.6"/>
<circle cx="443.6" cy="1425.5" r="3.6"/>
<circle cx="473.3" cy="1425.5" r="3.6"/>
<circle cx="488.2" cy="1425.5" r="3.6"/>
<circle cx="555.1" cy="1425.5" r="3.6"/>
<circle cx="584.9" cy="1425.5" r="3.6"/>
<circle cx="213" cy="1449.5" r="3.6"/>
<circle cx="235.3" cy="1449.5" r="3.6"/>
<circle cx="250.2" cy="1449.5" r="3.6"/>
<circle cx="257.6" cy="1446.4" r="3.6"/>
<circle cx="257.6" cy="1452.4" r="3.6"/>
<circle cx="265.1" cy="1446.9" r="3.6"/>
<circle cx="265.1" cy="1452.5" r="3.6"/>
<circle cx="272.5" cy="1445.4" r="3.6"/>
<circle cx="272.5" cy="1450.3" r="3.6"/>
<circle cx="272.5" cy="1455.2" r="3.6"/>
<circle cx="280" cy="1448.1" r="3.6"/>
<circle cx="280" cy="1454" r="3.6"/>
<circle cx="287.4" cy="1446" r="3.6"/>
<circle cx="287.4" cy="1451.9" r="3.6"/>
<circle cx="294.8" cy="1446.3" r="3.6"/>
<circle cx="294.8" cy="1452.1" r="3.6"/>
<circle cx="302.3" cy="1443.8" r="3.6"/>
<circle cx="302.3" cy="1450.8" r="3.6"/>
<circle cx="309.7" cy="1445.6" r="3.6"/>
<circle cx="309.7" cy="1451.5" r="3.6"/>
<circle cx="317.1" cy="1445.4" r="3.6"/>
<circle cx="317.1" cy="1451.9" r="3.6"/>
<circle cx="324.6" cy="1444.2" r="3.6"/>
<circle cx="324.6" cy="1449.4" r="3.6"/>
<circle cx="324.6" cy="1454.5" r="3.6"/>
<circle cx="332" cy="1447.2" r="3.6"/>
<circle cx="332" cy="1453.3" r="3.6"/>
<circle cx="339.5" cy="1447.8" r="3.6"/>
<circle cx="339.5" cy="1455.1" r="3.6"/>
<circle cx="346.9" cy="1444" r="3.6"/>
<circle cx="346.9" cy="1451.2" r="3.6"/>
<circle cx="354.3" cy="1447.8" r="3.6"/>
<circle cx="354.3" cy="1454.9" r="3.6"/>
<circle cx="361.8" cy="1444.3" r="3.6"/>
<circle cx="361.8" cy="1451.6" r="3.6"/>
<circle cx="369.2" cy="1447.4" r="3.6"/>
<circle cx="369.2" cy="1452.8" r="3.6"/>
<circle cx="376.6" cy="1449.5" r="3.6"/>
<circle cx="384.1" cy="1443.6" r="3.6"/>
<circle cx="384.1" cy="1451.1" r="3.6"/>
<circle cx="391.5" cy="1447.3" r="3.6"/>
<circle cx="391.5" cy="1453.2" r="3.6"/>
<circle cx="398.9" cy="1449.5" r="3.6"/>
<circle cx="406.4" cy="1445.3" r="3.6"/>
<circle cx="406.4" cy="1452.1" r="3.6"/>
<circle cx="421.3" cy="1449.5" r="3.6"/>
<circle cx="436.1" cy="1445.3" r="3.6"/>
<circle cx="436.1" cy="1452.7" r="3.6"/>
<circle cx="443.6" cy="1446" r="3.6"/>
<circle cx="443.6" cy="1451.7" r="3.6"/>
<circle cx="451" cy="1446.7" r="3.6"/>
<circle cx="451" cy="1454" r="3.6"/>
<circle cx="480.8" cy="1449.5" r="3.6"/>
<circle cx="488.2" cy="1445.1" r="3.6"/>
<circle cx="488.2" cy="1452.6" r="3.6"/>
<circle cx="607.2" cy="1449.5" r="3.6"/>
<circle cx="250.2" cy="1470.1" r="3.6"/>
<circle cx="250.2" cy="1477.4" r="3.6"/>
<circle cx="257.6" cy="1470.6" r="3.6"/>
<circle cx="257.6" cy="1478" r="3.6"/>
<circle cx="265.1" cy="1473.5" r="3.6"/>
<circle cx="272.5" cy="1471.2" r="3.6"/>
<circle cx="272.5" cy="1478.4" r="3.6"/>
<circle cx="280" cy="1473.5" r="3.6"/>
<circle cx="294.8" cy="1473.5" r="3.6"/>
<circle cx="302.3" cy="1468.7" r="3.6"/>
<circle cx="302.3" cy="1475.7" r="3.6"/>
<circle cx="309.7" cy="1473.5" r="3.6"/>
<circle cx="317.1" cy="1470.2" r="3.6"/>
<circle cx="317.1" cy="1477.2" r="3.6"/>
<circle cx="324.6" cy="1469.6" r="3.6"/>
<circle cx="324.6" cy="1476.9" r="3.6"/>
<circle cx="332" cy="1468.8" r="3.6"/>
<circle cx="332" cy="1473.7" r="3.6"/>
<circle cx="332" cy="1478.5" r="3.6"/>
<circle cx="339.5" cy="1469.5" r="3.6"/>
<circle cx="339.5" cy="1475.2" r="3.6"/>
<circle cx="346.9" cy="1470.8" r="3.6"/>
<circle cx="346.9" cy="1476.2" r="3.6"/>
<circle cx="354.3" cy="1470.6" r="3.6"/>
<circle cx="354.3" cy="1476.2" r="3.6"/>
<circle cx="361.8" cy="1473.5" r="3.6"/>
<circle cx="369.2" cy="1473.5" r="3.6"/>
<circle cx="376.6" cy="1470.3" r="3.6"/>
<circle cx="376.6" cy="1476.7" r="3.6"/>
<circle cx="384.1" cy="1473.5" r="3.6"/>
<circle cx="391.5" cy="1470.1" r="3.6"/>
<circle cx="391.5" cy="1477.4" r="3.6"/>
<circle cx="398.9" cy="1473.5" r="3.6"/>
<circle cx="443.6" cy="1473.5" r="3.6"/>
<circle cx="451" cy="1473.5" r="3.6"/>
<circle cx="458.4" cy="1473.5" r="3.6"/>
<circle cx="480.8" cy="1473.5" r="3.6"/>
<circle cx="488.2" cy="1473.5" r="3.6"/>
<circle cx="525.4" cy="1473.5" r="3.6"/>
<circle cx="577.4" cy="1473.5" r="3.6"/>
<circle cx="213" cy="1497.6" r="3.6"/>
<circle cx="250.2" cy="1497.6" r="3.6"/>
<circle cx="257.6" cy="1491.8" r="3.6"/>
<circle cx="257.6" cy="1499" r="3.6"/>
<circle cx="265.1" cy="1494.1" r="3.6"/>
<circle cx="265.1" cy="1500.7" r="3.6"/>
<circle cx="272.5" cy="1494.6" r="3.6"/>
<circle cx="272.5" cy="1501.9" r="3.6"/>
<circle cx="280" cy="1492.3" r="3.6"/>
<circle cx="280" cy="1497.2" r="3.6"/>
<circle cx="280" cy="1502.2" r="3.6"/>
<circle cx="287.4" cy="1494" r="3.6"/>
<circle cx="287.4" cy="1498.7" r="3.6"/>
<circle cx="287.4" cy="1503.3" r="3.6"/>
<circle cx="294.8" cy="1494.8" r="3.6"/>
<circle cx="294.8" cy="1501.5" r="3.6"/>
<circle cx="302.3" cy="1492.1" r="3.6"/>
<circle cx="302.3" cy="1498.8" r="3.6"/>
<circle cx="309.7" cy="1494.6" r="3.6"/>
<circle cx="309.7" cy="1502.1" r="3.6"/>
<circle cx="317.1" cy="1493" r="3.6"/>
<circle cx="317.1" cy="1500.6" r="3.6"/>
<circle cx="324.6" cy="1494.4" r="3.6"/>
<circle cx="324.6" cy="1500.8" r="3.6"/>
<circle cx="332" cy="1496.6" r="3.6"/>
<circle cx="332" cy="1502" r="3.6"/>
<circle cx="339.5" cy="1492.9" r="3.6"/>
<circle cx="339.5" cy="1498.1" r="3.6"/>
<circle cx="339.5" cy="1503.2" r="3.6"/>
<circle cx="346.9" cy="1493.2" r="3.6"/>
<circle cx="346.9" cy="1500.5" r="3.6"/>
<circle cx="354.3" cy="1492.2" r="3.6"/>
<circle cx="354.3" cy="1497.2" r="3.6"/>
<circle cx="354.3" cy="1502.2" r="3.6"/>
<circle cx="361.8" cy="1494.1" r="3.6"/>
<circle cx="361.8" cy="1501.2" r="3.6"/>
<circle cx="369.2" cy="1493.1" r="3.6"/>
<circle cx="369.2" cy="1499.4" r="3.6"/>
<circle cx="376.6" cy="1493.9" r="3.6"/>
<circle cx="376.6" cy="1500.5" r="3.6"/>
<circle cx="384.1" cy="1496" r="3.6"/>
<circle cx="384.1" cy="1502" r="3.6"/>
<circle cx="391.5" cy="1493.4" r="3.6"/>
<circle cx="391.5" cy="1498.3" r="3.6"/>
<circle cx="391.5" cy="1503.3" r="3.6"/>
<circle cx="398.9" cy="1497.6" r="3.6"/>
<circle cx="406.4" cy="1494.6" r="3.6"/>
<circle cx="406.4" cy="1500.5" r="3.6"/>
<circle cx="413.8" cy="1493.8" r="3.6"/>
<circle cx="413.8" cy="1501.4" r="3.6"/>
<circle cx="421.3" cy="1492.6" r="3.6"/>
<circle cx="421.3" cy="1497.9" r="3.6"/>
<circle cx="421.3" cy="1503.2" r="3.6"/>
<circle cx="428.7" cy="1497.6" r="3.6"/>
<circle cx="436.1" cy="1497.6" r="3.6"/>
<circle cx="451" cy="1497.6" r="3.6"/>
<circle cx="458.4" cy="1497.6" r="3.6"/>
<circle cx="473.3" cy="1497.6" r="3.6"/>
<circle cx="480.8" cy="1497.6" r="3.6"/>
<circle cx="488.2" cy="1497.6" r="3.6"/>
<circle cx="525.4" cy="1493.9" r="3.6"/>
<circle cx="525.4" cy="1501.3" r="3.6"/>
<circle cx="540.2" cy="1497.6" r="3.6"/>
<circle cx="570" cy="1497.6" r="3.6"/>
<circle cx="577.4" cy="1497.6" r="3.6"/>
<circle cx="584.9" cy="1497.6" r="3.6"/>
<circle cx="592.3" cy="1497.6" r="3.6"/>
<circle cx="659.2" cy="1497.6" r="3.6"/>
<circle cx="227.9" cy="1521.6" r="3.6"/>
<circle cx="235.3" cy="1517.8" r="3.6"/>
<circle cx="235.3" cy="1523.8" r="3.6"/>
<circle cx="242.8" cy="1517.3" r="3.6"/>
<circle cx="242.8" cy="1524" r="3.6"/>
<circle cx="250.2" cy="1518.6" r="3.6"/>
<circle cx="250.2" cy="1525.7" r="3.6"/>
<circle cx="257.6" cy="1521.6" r="3.6"/>
<circle cx="272.5" cy="1517" r="3.6"/>
<circle cx="272.5" cy="1524.3" r="3.6"/>
<circle cx="280" cy="1521.6" r="3.6"/>
<circle cx="287.4" cy="1520" r="3.6"/>
<circle cx="287.4" cy="1526.5" r="3.6"/>
<circle cx="294.8" cy="1516.6" r="3.6"/>
<circle cx="294.8" cy="1522.6" r="3.6"/>
<circle cx="302.3" cy="1516.5" r="3.6"/>
<circle cx="302.3" cy="1522.3" r="3.6"/>
<circle cx="309.7" cy="1518.8" r="3.6"/>
<circle cx="309.7" cy="1526" r="3.6"/>
<circle cx="324.6" cy="1517.9" r="3.6"/>
<circle cx="324.6" cy="1525.3" r="3.6"/>
<circle cx="339.5" cy="1521.6" r="3.6"/>
<circle cx="346.9" cy="1518.7" r="3.6"/>
<circle cx="346.9" cy="1525.8" r="3.6"/>
<circle cx="354.3" cy="1520" r="3.6"/>
<circle cx="354.3" cy="1526.7" r="3.6"/>
<circle cx="361.8" cy="1518.7" r="3.6"/>
<circle cx="361.8" cy="1525.5" r="3.6"/>
<circle cx="369.2" cy="1519.1" r="3.6"/>
<circle cx="369.2" cy="1525.8" r="3.6"/>
<circle cx="376.6" cy="1521.6" r="3.6"/>
<circle cx="391.5" cy="1518.5" r="3.6"/>
<circle cx="391.5" cy="1525.3" r="3.6"/>
<circle cx="398.9" cy="1521.6" r="3.6"/>
<circle cx="421.3" cy="1518.4" r="3.6"/>
<circle cx="421.3" cy="1525.4" r="3.6"/>
<circle cx="428.7" cy="1521.6" r="3.6"/>
<circle cx="436.1" cy="1521.6" r="3.6"/>
<circle cx="443.6" cy="1521.6" r="3.6"/>
<circle cx="451" cy="1518.7" r="3.6"/>
<circle cx="451" cy="1525.5" r="3.6"/>
<circle cx="465.9" cy="1521.6" r="3.6"/>
<circle cx="473.3" cy="1521.6" r="3.6"/>
<circle cx="488.2" cy="1521.6" r="3.6"/>
<circle cx="175.8" cy="1545.6" r="3.6"/>
<circle cx="220.5" cy="1545.6" r="3.6"/>
<circle cx="227.9" cy="1541.6" r="3.6"/>
<circle cx="227.9" cy="1548.3" r="3.6"/>
<circle cx="242.8" cy="1545.6" r="3.6"/>
<circle cx="250.2" cy="1543.1" r="3.6"/>
<circle cx="250.2" cy="1550.5" r="3.6"/>
<circle cx="257.6" cy="1545.6" r="3.6"/>
<circle cx="265.1" cy="1543.2" r="3.6"/>
<circle cx="265.1" cy="1549.3" r="3.6"/>
<circle cx="272.5" cy="1545.6" r="3.6"/>
<circle cx="280" cy="1545.6" r="3.6"/>
<circle cx="287.4" cy="1545.6" r="3.6"/>
<circle cx="294.8" cy="1543.4" r="3.6"/>
<circle cx="294.8" cy="1550.6" r="3.6"/>
<circle cx="302.3" cy="1542.9" r="3.6"/>
<circle cx="302.3" cy="1548.8" r="3.6"/>
<circle cx="309.7" cy="1540.1" r="3.6"/>
<circle cx="309.7" cy="1545.1" r="3.6"/>
<circle cx="309.7" cy="1550.1" r="3.6"/>
<circle cx="317.1" cy="1541.6" r="3.6"/>
<circle cx="317.1" cy="1547.9" r="3.6"/>
<circle cx="324.6" cy="1542.5" r="3.6"/>
<circle cx="324.6" cy="1549.9" r="3.6"/>
<circle cx="332" cy="1545.6" r="3.6"/>
<circle cx="339.5" cy="1540.3" r="3.6"/>
<circle cx="339.5" cy="1546.9" r="3.6"/>
<circle cx="346.9" cy="1540.7" r="3.6"/>
<circle cx="346.9" cy="1546.3" r="3.6"/>
<circle cx="354.3" cy="1541.2" r="3.6"/>
<circle cx="354.3" cy="1546.3" r="3.6"/>
<circle cx="354.3" cy="1551.4" r="3.6"/>
<circle cx="361.8" cy="1544.2" r="3.6"/>
<circle cx="361.8" cy="1550.6" r="3.6"/>
<circle cx="369.2" cy="1540.3" r="3.6"/>
<circle cx="369.2" cy="1546.5" r="3.6"/>
<circle cx="376.6" cy="1542.2" r="3.6"/>
<circle cx="376.6" cy="1549.7" r="3.6"/>
<circle cx="384.1" cy="1544.5" r="3.6"/>
<circle cx="384.1" cy="1550.9" r="3.6"/>
<circle cx="391.5" cy="1545.6" r="3.6"/>
<circle cx="398.9" cy="1545.6" r="3.6"/>
<circle cx="406.4" cy="1545.6" r="3.6"/>
<circle cx="436.1" cy="1542" r="3.6"/>
<circle cx="436.1" cy="1548.8" r="3.6"/>
<circle cx="443.6" cy="1545.6" r="3.6"/>
<circle cx="503.1" cy="1545.6" r="3.6"/>
<circle cx="517.9" cy="1545.6" r="3.6"/>
<circle cx="540.2" cy="1545.6" r="3.6"/>
<circle cx="607.2" cy="1545.6" r="3.6"/>
<circle cx="622.1" cy="1541.9" r="3.6"/>
<circle cx="622.1" cy="1549.3" r="3.6"/>
<circle cx="651.8" cy="1545.6" r="3.6"/>
<circle cx="205.6" cy="1565.9" r="3.6"/>
<circle cx="205.6" cy="1573.3" r="3.6"/>
<circle cx="220.5" cy="1565.9" r="3.6"/>
<circle cx="220.5" cy="1573.3" r="3.6"/>
<circle cx="235.3" cy="1565.9" r="3.6"/>
<circle cx="235.3" cy="1573.3" r="3.6"/>
<circle cx="257.6" cy="1566.4" r="3.6"/>
<circle cx="257.6" cy="1573.3" r="3.6"/>
<circle cx="265.1" cy="1569.6" r="3.6"/>
<circle cx="272.5" cy="1565.4" r="3.6"/>
<circle cx="272.5" cy="1570.7" r="3.6"/>
<circle cx="280" cy="1564" r="3.6"/>
<circle cx="280" cy="1570.8" r="3.6"/>
<circle cx="287.4" cy="1564.1" r="3.6"/>
<circle cx="287.4" cy="1571.7" r="3.6"/>
<circle cx="294.8" cy="1569.6" r="3.6"/>
<circle cx="302.3" cy="1569.6" r="3.6"/>
<circle cx="309.7" cy="1569.6" r="3.6"/>
<circle cx="317.1" cy="1564.1" r="3.6"/>
<circle cx="317.1" cy="1571.4" r="3.6"/>
<circle cx="324.6" cy="1565.3" r="3.6"/>
<circle cx="324.6" cy="1570.6" r="3.6"/>
<circle cx="332" cy="1567.6" r="3.6"/>
<circle cx="332" cy="1573.5" r="3.6"/>
<circle cx="339.5" cy="1565.4" r="3.6"/>
<circle cx="339.5" cy="1570.1" r="3.6"/>
<circle cx="339.5" cy="1574.9" r="3.6"/>
<circle cx="346.9" cy="1564" r="3.6"/>
<circle cx="346.9" cy="1571.2" r="3.6"/>
<circle cx="354.3" cy="1566.9" r="3.6"/>
<circle cx="354.3" cy="1574.2" r="3.6"/>
<circle cx="361.8" cy="1567.8" r="3.6"/>
<circle cx="361.8" cy="1573.4" r="3.6"/>
<circle cx="369.2" cy="1566.7" r="3.6"/>
<circle cx="369.2" cy="1573.6" r="3.6"/>
<circle cx="376.6" cy="1565.7" r="3.6"/>
<circle cx="376.6" cy="1573.1" r="3.6"/>
<circle cx="384.1" cy="1564.7" r="3.6"/>
<circle cx="384.1" cy="1572.3" r="3.6"/>
<circle cx="391.5" cy="1569.6" r="3.6"/>
<circle cx="398.9" cy="1569.6" r="3.6"/>
<circle cx="406.4" cy="1567.9" r="3.6"/>
<circle cx="406.4" cy="1573.2" r="3.6"/>
<circle cx="413.8" cy="1564" r="3.6"/>
<circle cx="413.8" cy="1570.9" r="3.6"/>
<circle cx="421.3" cy="1569.6" r="3.6"/>
<circle cx="443.6" cy="1569.6" r="3.6"/>
<circle cx="480.8" cy="1565.9" r="3.6"/>
<circle cx="480.8" cy="1573.3" r="3.6"/>
<circle cx="503.1" cy="1569.6" r="3.6"/>
<circle cx="547.7" cy="1565.9" r="3.6"/>
<circle cx="547.7" cy="1573.3" r="3.6"/>
<circle cx="235.3" cy="1590.9" r="3.6"/>
<circle cx="235.3" cy="1597.6" r="3.6"/>
<circle cx="242.8" cy="1589.3" r="3.6"/>
<circle cx="242.8" cy="1596.3" r="3.6"/>
<circle cx="250.2" cy="1588.5" r="3.6"/>
<circle cx="250.2" cy="1595.8" r="3.6"/>
<circle cx="257.6" cy="1588.9" r="3.6"/>
<circle cx="257.6" cy="1593.6" r="3.6"/>
<circle cx="257.6" cy="1598.2" r="3.6"/>
<circle cx="265.1" cy="1588.2" r="3.6"/>
<circle cx="265.1" cy="1593.3" r="3.6"/>
<circle cx="265.1" cy="1598.4" r="3.6"/>
<circle cx="272.5" cy="1588.2" r="3.6"/>
<circle cx="272.5" cy="1593.4" r="3.6"/>
<circle cx="272.5" cy="1598.7" r="3.6"/>
<circle cx="280" cy="1588.4" r="3.6"/>
<circle cx="280" cy="1595.6" r="3.6"/>
<circle cx="287.4" cy="1589.6" r="3.6"/>
<circle cx="287.4" cy="1596.4" r="3.6"/>
<circle cx="294.8" cy="1591" r="3.6"/>
<circle cx="294.8" cy="1597.3" r="3.6"/>
<circle cx="302.3" cy="1589.5" r="3.6"/>
<circle cx="302.3" cy="1596.7" r="3.6"/>
<circle cx="309.7" cy="1592" r="3.6"/>
<circle cx="309.7" cy="1599.1" r="3.6"/>
<circle cx="317.1" cy="1593.6" r="3.6"/>
<circle cx="324.6" cy="1590.9" r="3.6"/>
<circle cx="324.6" cy="1596.9" r="3.6"/>
<circle cx="332" cy="1587.9" r="3.6"/>
<circle cx="332" cy="1595.4" r="3.6"/>
<circle cx="339.5" cy="1590.9" r="3.6"/>
<circle cx="339.5" cy="1598.1" r="3.6"/>
<circle cx="346.9" cy="1589.5" r="3.6"/>
<circle cx="346.9" cy="1596.2" r="3.6"/>
<circle cx="354.3" cy="1592.1" r="3.6"/>
<circle cx="354.3" cy="1599.3" r="3.6"/>
<circle cx="361.8" cy="1591" r="3.6"/>
<circle cx="361.8" cy="1597.1" r="3.6"/>
<circle cx="369.2" cy="1589.6" r="3.6"/>
<circle cx="369.2" cy="1597" r="3.6"/>
<circle cx="376.6" cy="1589.6" r="3.6"/>
<circle cx="376.6" cy="1596.5" r="3.6"/>
<circle cx="384.1" cy="1590.3" r="3.6"/>
<circle cx="384.1" cy="1597.7" r="3.6"/>
<circle cx="391.5" cy="1592" r="3.6"/>
<circle cx="391.5" cy="1597.9" r="3.6"/>
<circle cx="398.9" cy="1588.4" r="3.6"/>
<circle cx="398.9" cy="1594.4" r="3.6"/>
<circle cx="406.4" cy="1593.6" r="3.6"/>
<circle cx="413.8" cy="1593.6" r="3.6"/>
<circle cx="421.3" cy="1589.9" r="3.6"/>
<circle cx="421.3" cy="1596.6" r="3.6"/>
<circle cx="428.7" cy="1591.3" r="3.6"/>
<circle cx="428.7" cy="1598.7" r="3.6"/>
<circle cx="436.1" cy="1588" r="3.6"/>
<circle cx="436.1" cy="1595.2" r="3.6"/>
<circle cx="443.6" cy="1593.6" r="3.6"/>
<circle cx="451" cy="1593.6" r="3.6"/>
<circle cx="458.4" cy="1591.3" r="3.6"/>
<circle cx="458.4" cy="1598.6" r="3.6"/>
<circle cx="465.9" cy="1593.6" r="3.6"/>
<circle cx="473.3" cy="1588.9" r="3.6"/>
<circle cx="473.3" cy="1593.8" r="3.6"/>
<circle cx="473.3" cy="1598.6" r="3.6"/>
<circle cx="480.8" cy="1591.5" r="3.6"/>
<circle cx="480.8" cy="1598.7" r="3.6"/>
<circle cx="488.2" cy="1590.2" r="3.6"/>
<circle cx="488.2" cy="1597.7" r="3.6"/>
<circle cx="503.1" cy="1593.6" r="3.6"/>
<circle cx="510.5" cy="1589.9" r="3.6"/>
<circle cx="510.5" cy="1596.7" r="3.6"/>
<circle cx="525.4" cy="1593.6" r="3.6"/>
<circle cx="540.2" cy="1593.6" r="3.6"/>
<circle cx="555.1" cy="1593.6" r="3.6"/>
<circle cx="562.6" cy="1593.6" r="3.6"/>
<circle cx="592.3" cy="1593.6" r="3.6"/>
<circle cx="614.6" cy="1593.6" r="3.6"/>
<circle cx="622.1" cy="1593.6" r="3.6"/>
<circle cx="227.9" cy="1617.6" r="3.6"/>
<circle cx="242.8" cy="1617.6" r="3.6"/>
<circle cx="272.5" cy="1614" r="3.6"/>
<circle cx="272.5" cy="1621.4" r="3.6"/>
<circle cx="280" cy="1611.6" r="3.6"/>
<circle cx="280" cy="1616.9" r="3.6"/>
<circle cx="280" cy="1622.2" r="3.6"/>
<circle cx="287.4" cy="1616.6" r="3.6"/>
<circle cx="287.4" cy="1622.4" r="3.6"/>
<circle cx="294.8" cy="1614.6" r="3.6"/>
<circle cx="294.8" cy="1621.5" r="3.6"/>
<circle cx="302.3" cy="1614.5" r="3.6"/>
<circle cx="302.3" cy="1620.3" r="3.6"/>
<circle cx="309.7" cy="1611.7" r="3.6"/>
<circle cx="309.7" cy="1617" r="3.6"/>
<circle cx="309.7" cy="1622.3" r="3.6"/>
<circle cx="317.1" cy="1615.7" r="3.6"/>
<circle cx="317.1" cy="1622.1" r="3.6"/>
<circle cx="324.6" cy="1612.2" r="3.6"/>
<circle cx="324.6" cy="1619.4" r="3.6"/>
<circle cx="332" cy="1615.9" r="3.6"/>
<circle cx="332" cy="1621.7" r="3.6"/>
<circle cx="339.5" cy="1614.3" r="3.6"/>
<circle cx="339.5" cy="1621.6" r="3.6"/>
<circle cx="346.9" cy="1616" r="3.6"/>
<circle cx="346.9" cy="1622.6" r="3.6"/>
<circle cx="354.3" cy="1614.2" r="3.6"/>
<circle cx="354.3" cy="1620.8" r="3.6"/>
<circle cx="361.8" cy="1613.3" r="3.6"/>
<circle cx="361.8" cy="1619.1" r="3.6"/>
<circle cx="369.2" cy="1612.7" r="3.6"/>
<circle cx="369.2" cy="1619.7" r="3.6"/>
<circle cx="376.6" cy="1613.7" r="3.6"/>
<circle cx="376.6" cy="1620.3" r="3.6"/>
<circle cx="384.1" cy="1613.9" r="3.6"/>
<circle cx="384.1" cy="1620.4" r="3.6"/>
<circle cx="391.5" cy="1613.3" r="3.6"/>
<circle cx="391.5" cy="1618.8" r="3.6"/>
<circle cx="398.9" cy="1616.7" r="3.6"/>
<circle cx="398.9" cy="1622.9" r="3.6"/>
<circle cx="406.4" cy="1613.2" r="3.6"/>
<circle cx="406.4" cy="1620.4" r="3.6"/>
<circle cx="436.1" cy="1614.8" r="3.6"/>
<circle cx="436.1" cy="1621.6" r="3.6"/>
<circle cx="443.6" cy="1615" r="3.6"/>
<circle cx="443.6" cy="1621.1" r="3.6"/>
<circle cx="451" cy="1615" r="3.6"/>
<circle cx="451" cy="1620.4" r="3.6"/>
<circle cx="458.4" cy="1611" r="3.6"/>
<circle cx="458.4" cy="1616.5" r="3.6"/>
<circle cx="458.4" cy="1622" r="3.6"/>
<circle cx="465.9" cy="1613.4" r="3.6"/>
<circle cx="465.9" cy="1618.5" r="3.6"/>
<circle cx="465.9" cy="1623.5" r="3.6"/>
<circle cx="473.3" cy="1612.9" r="3.6"/>
<circle cx="473.3" cy="1617.8" r="3.6"/>
<circle cx="473.3" cy="1622.6" r="3.6"/>
<circle cx="480.8" cy="1615.7" r="3.6"/>
<circle cx="480.8" cy="1622" r="3.6"/>
<circle cx="488.2" cy="1613.4" r="3.6"/>
<circle cx="488.2" cy="1618.7" r="3.6"/>
<circle cx="488.2" cy="1624" r="3.6"/>
<circle cx="495.6" cy="1615.2" r="3.6"/>
<circle cx="495.6" cy="1622.8" r="3.6"/>
<circle cx="503.1" cy="1612.4" r="3.6"/>
<circle cx="503.1" cy="1617" r="3.6"/>
<circle cx="503.1" cy="1621.6" r="3.6"/>
<circle cx="510.5" cy="1617.6" r="3.6"/>
<circle cx="525.4" cy="1617.6" r="3.6"/>
<circle cx="532.8" cy="1617.6" r="3.6"/>
<circle cx="540.2" cy="1617.6" r="3.6"/>
<circle cx="198.1" cy="1637.6" r="3.6"/>
<circle cx="198.1" cy="1644.4" r="3.6"/>
<circle cx="205.6" cy="1641.6" r="3.6"/>
<circle cx="213" cy="1641.6" r="3.6"/>
<circle cx="220.5" cy="1637.1" r="3.6"/>
<circle cx="220.5" cy="1642.5" r="3.6"/>
<circle cx="227.9" cy="1638.2" r="3.6"/>
<circle cx="227.9" cy="1645.5" r="3.6"/>
<circle cx="235.3" cy="1641.6" r="3.6"/>
<circle cx="242.8" cy="1641.6" r="3.6"/>
<circle cx="250.2" cy="1637.7" r="3.6"/>
<circle cx="250.2" cy="1645.2" r="3.6"/>
<circle cx="257.6" cy="1640.7" r="3.6"/>
<circle cx="257.6" cy="1646.2" r="3.6"/>
<circle cx="265.1" cy="1636.9" r="3.6"/>
<circle cx="265.1" cy="1641.8" r="3.6"/>
<circle cx="265.1" cy="1646.8" r="3.6"/>
<circle cx="272.5" cy="1635.2" r="3.6"/>
<circle cx="272.5" cy="1640.7" r="3.6"/>
<circle cx="272.5" cy="1646.2" r="3.6"/>
<circle cx="280" cy="1637.2" r="3.6"/>
<circle cx="280" cy="1643.9" r="3.6"/>
<circle cx="287.4" cy="1636.5" r="3.6"/>
<circle cx="287.4" cy="1641.9" r="3.6"/>
<circle cx="287.4" cy="1647.4" r="3.6"/>
<circle cx="294.8" cy="1639.2" r="3.6"/>
<circle cx="294.8" cy="1645.5" r="3.6"/>
<circle cx="302.3" cy="1638.5" r="3.6"/>
<circle cx="302.3" cy="1644.2" r="3.6"/>
<circle cx="309.7" cy="1639.9" r="3.6"/>
<circle cx="309.7" cy="1647.5" r="3.6"/>
<circle cx="317.1" cy="1637.7" r="3.6"/>
<circle cx="317.1" cy="1643.1" r="3.6"/>
<circle cx="324.6" cy="1637.5" r="3.6"/>
<circle cx="324.6" cy="1643.6" r="3.6"/>
<circle cx="332" cy="1639.7" r="3.6"/>
<circle cx="332" cy="1647.1" r="3.6"/>
<circle cx="339.5" cy="1640.4" r="3.6"/>
<circle cx="339.5" cy="1645.8" r="3.6"/>
<circle cx="346.9" cy="1637.1" r="3.6"/>
<circle cx="346.9" cy="1642.3" r="3.6"/>
<circle cx="346.9" cy="1647.5" r="3.6"/>
<circle cx="354.3" cy="1638.5" r="3.6"/>
<circle cx="354.3" cy="1646" r="3.6"/>
<circle cx="361.8" cy="1636.8" r="3.6"/>
<circle cx="361.8" cy="1642.5" r="3.6"/>
<circle cx="369.2" cy="1639" r="3.6"/>
<circle cx="369.2" cy="1646.5" r="3.6"/>
<circle cx="376.6" cy="1637.2" r="3.6"/>
<circle cx="376.6" cy="1642" r="3.6"/>
<circle cx="376.6" cy="1646.9" r="3.6"/>
<circle cx="384.1" cy="1636.5" r="3.6"/>
<circle cx="384.1" cy="1641.8" r="3.6"/>
<circle cx="384.1" cy="1647.1" r="3.6"/>
<circle cx="391.5" cy="1637.3" r="3.6"/>
<circle cx="391.5" cy="1644.3" r="3.6"/>
<circle cx="406.4" cy="1637.7" r="3.6"/>
<circle cx="406.4" cy="1644.5" r="3.6"/>
<circle cx="413.8" cy="1636.8" r="3.6"/>
<circle cx="413.8" cy="1641.6" r="3.6"/>
<circle cx="413.8" cy="1646.3" r="3.6"/>
<circle cx="421.3" cy="1637.6" r="3.6"/>
<circle cx="421.3" cy="1643.3" r="3.6"/>
<circle cx="428.7" cy="1639.7" r="3.6"/>
<circle cx="428.7" cy="1645.1" r="3.6"/>
<circle cx="436.1" cy="1639.7" r="3.6"/>
<circle cx="436.1" cy="1645.5" r="3.6"/>
<circle cx="443.6" cy="1635.8" r="3.6"/>
<circle cx="443.6" cy="1643.3" r="3.6"/>
<circle cx="451" cy="1635.5" r="3.6"/>
<circle cx="451" cy="1640.9" r="3.6"/>
<circle cx="451" cy="1646.4" r="3.6"/>
<circle cx="458.4" cy="1641.6" r="3.6"/>
<circle cx="465.9" cy="1641.6" r="3.6"/>
<circle cx="473.3" cy="1639.5" r="3.6"/>
<circle cx="473.3" cy="1646.9" r="3.6"/>
<circle cx="480.8" cy="1635.8" r="3.6"/>
<circle cx="480.8" cy="1640.7" r="3.6"/>
<circle cx="480.8" cy="1645.7" r="3.6"/>
<circle cx="488.2" cy="1641.6" r="3.6"/>
<circle cx="495.6" cy="1637.1" r="3.6"/>
<circle cx="495.6" cy="1644.5" r="3.6"/>
<circle cx="510.5" cy="1641.6" r="3.6"/>
<circle cx="525.4" cy="1641.6" r="3.6"/>
<circle cx="532.8" cy="1638.7" r="3.6"/>
<circle cx="532.8" cy="1645.9" r="3.6"/>
<circle cx="562.6" cy="1641.6" r="3.6"/>
<circle cx="570" cy="1641.6" r="3.6"/>
<circle cx="577.4" cy="1641.6" r="3.6"/>
<circle cx="584.9" cy="1641.6" r="3.6"/>
<circle cx="599.7" cy="1641.6" r="3.6"/>
<circle cx="205.6" cy="1665.6" r="3.6"/>
<circle cx="272.5" cy="1662" r="3.6"/>
<circle cx="272.5" cy="1669" r="3.6"/>
<circle cx="280" cy="1663.8" r="3.6"/>
<circle cx="280" cy="1670.3" r="3.6"/>
<circle cx="287.4" cy="1663.4" r="3.6"/>
<circle cx="287.4" cy="1669" r="3.6"/>
<circle cx="294.8" cy="1661.7" r="3.6"/>
<circle cx="294.8" cy="1667.1" r="3.6"/>
<circle cx="302.3" cy="1663.3" r="3.6"/>
<circle cx="302.3" cy="1669.9" r="3.6"/>
<circle cx="309.7" cy="1660.4" r="3.6"/>
<circle cx="309.7" cy="1667.7" r="3.6"/>
<circle cx="317.1" cy="1660.1" r="3.6"/>
<circle cx="317.1" cy="1665.1" r="3.6"/>
<circle cx="317.1" cy="1670" r="3.6"/>
<circle cx="324.6" cy="1660" r="3.6"/>
<circle cx="324.6" cy="1664.8" r="3.6"/>
<circle cx="324.6" cy="1669.6" r="3.6"/>
<circle cx="332" cy="1664.1" r="3.6"/>
<circle cx="332" cy="1670.2" r="3.6"/>
<circle cx="339.5" cy="1660.9" r="3.6"/>
<circle cx="339.5" cy="1667.4" r="3.6"/>
<circle cx="346.9" cy="1659.8" r="3.6"/>
<circle cx="346.9" cy="1665.2" r="3.6"/>
<circle cx="346.9" cy="1670.6" r="3.6"/>
<circle cx="354.3" cy="1660.1" r="3.6"/>
<circle cx="354.3" cy="1667.7" r="3.6"/>
<circle cx="361.8" cy="1660" r="3.6"/>
<circle cx="361.8" cy="1667.4" r="3.6"/>
<circle cx="369.2" cy="1663.5" r="3.6"/>
<circle cx="369.2" cy="1669.3" r="3.6"/>
<circle cx="376.6" cy="1662.5" r="3.6"/>
<circle cx="376.6" cy="1668.5" r="3.6"/>
<circle cx="384.1" cy="1661.7" r="3.6"/>
<circle cx="384.1" cy="1667.4" r="3.6"/>
<circle cx="391.5" cy="1661.2" r="3.6"/>
<circle cx="391.5" cy="1668.8" r="3.6"/>
<circle cx="398.9" cy="1664.1" r="3.6"/>
<circle cx="398.9" cy="1671.5" r="3.6"/>
<circle cx="406.4" cy="1660.9" r="3.6"/>
<circle cx="406.4" cy="1666.8" r="3.6"/>
<circle cx="413.8" cy="1664.6" r="3.6"/>
<circle cx="413.8" cy="1670.1" r="3.6"/>
<circle cx="421.3" cy="1665.6" r="3.6"/>
<circle cx="428.7" cy="1662.6" r="3.6"/>
<circle cx="428.7" cy="1669.5" r="3.6"/>
<circle cx="451" cy="1663.2" r="3.6"/>
<circle cx="451" cy="1669.9" r="3.6"/>
<circle cx="458.4" cy="1665.6" r="3.6"/>
<circle cx="465.9" cy="1663.9" r="3.6"/>
<circle cx="465.9" cy="1670" r="3.6"/>
<circle cx="473.3" cy="1665.6" r="3.6"/>
<circle cx="495.6" cy="1665.6" r="3.6"/>
<circle cx="503.1" cy="1661.6" r="3.6"/>
<circle cx="503.1" cy="1668.2" r="3.6"/>
<circle cx="525.4" cy="1665.6" r="3.6"/>
<circle cx="540.2" cy="1665.6" r="3.6"/>
<circle cx="555.1" cy="1665.6" r="3.6"/>
<circle cx="562.6" cy="1665.6" r="3.6"/>
<circle cx="280" cy="1685.3" r="3.6"/>
<circle cx="280" cy="1690.3" r="3.6"/>
<circle cx="280" cy="1695.3" r="3.6"/>
<circle cx="287.4" cy="1685.1" r="3.6"/>
<circle cx="287.4" cy="1691.4" r="3.6"/>
<circle cx="294.8" cy="1688.5" r="3.6"/>
<circle cx="294.8" cy="1694.4" r="3.6"/>
<circle cx="302.3" cy="1687.1" r="3.6"/>
<circle cx="302.3" cy="1692.8" r="3.6"/>
<circle cx="309.7" cy="1684.7" r="3.6"/>
<circle cx="309.7" cy="1691.8" r="3.6"/>
<circle cx="317.1" cy="1687.7" r="3.6"/>
<circle cx="317.1" cy="1693.5" r="3.6"/>
<circle cx="324.6" cy="1689.6" r="3.6"/>
<circle cx="332" cy="1689.6" r="3.6"/>
<circle cx="346.9" cy="1689.6" r="3.6"/>
<circle cx="354.3" cy="1685.4" r="3.6"/>
<circle cx="354.3" cy="1692.2" r="3.6"/>
<circle cx="369.2" cy="1686.3" r="3.6"/>
<circle cx="369.2" cy="1693.4" r="3.6"/>
<circle cx="376.6" cy="1685.7" r="3.6"/>
<circle cx="376.6" cy="1691.5" r="3.6"/>
<circle cx="384.1" cy="1689.6" r="3.6"/>
<circle cx="391.5" cy="1689.6" r="3.6"/>
<circle cx="398.9" cy="1689.6" r="3.6"/>
<circle cx="413.8" cy="1685.9" r="3.6"/>
<circle cx="413.8" cy="1693.3" r="3.6"/>
<circle cx="443.6" cy="1689.6" r="3.6"/>
<circle cx="465.9" cy="1689.6" r="3.6"/>
<circle cx="517.9" cy="1689.6" r="3.6"/>
<circle cx="540.2" cy="1689.6" r="3.6"/>
<circle cx="272.5" cy="1713.6" r="3.6"/>
<circle cx="280" cy="1710.7" r="3.6"/>
<circle cx="280" cy="1717.6" r="3.6"/>
<circle cx="287.4" cy="1711.7" r="3.6"/>
<circle cx="287.4" cy="1718.3" r="3.6"/>
<circle cx="294.8" cy="1713.6" r="3.6"/>
<circle cx="302.3" cy="1709.7" r="3.6"/>
<circle cx="302.3" cy="1716.4" r="3.6"/>
<circle cx="317.1" cy="1710.6" r="3.6"/>
<circle cx="317.1" cy="1717.6" r="3.6"/>
<circle cx="324.6" cy="1711.9" r="3.6"/>
<circle cx="324.6" cy="1717.3" r="3.6"/>
<circle cx="332" cy="1712" r="3.6"/>
<circle cx="332" cy="1718.1" r="3.6"/>
<circle cx="339.5" cy="1711.5" r="3.6"/>
<circle cx="339.5" cy="1718.8" r="3.6"/>
<circle cx="346.9" cy="1710.9" r="3.6"/>
<circle cx="346.9" cy="1716.3" r="3.6"/>
<circle cx="354.3" cy="1712.2" r="3.6"/>
<circle cx="354.3" cy="1718.7" r="3.6"/>
<circle cx="361.8" cy="1713.6" r="3.6"/>
<circle cx="369.2" cy="1712.3" r="3.6"/>
<circle cx="369.2" cy="1718.2" r="3.6"/>
<circle cx="376.6" cy="1708.6" r="3.6"/>
<circle cx="376.6" cy="1715.9" r="3.6"/>
<circle cx="384.1" cy="1710.2" r="3.6"/>
<circle cx="384.1" cy="1715.9" r="3.6"/>
<circle cx="391.5" cy="1709.7" r="3.6"/>
<circle cx="391.5" cy="1716.4" r="3.6"/>
<circle cx="398.9" cy="1708.2" r="3.6"/>
<circle cx="398.9" cy="1714.7" r="3.6"/>
<circle cx="406.4" cy="1713.6" r="3.6"/>
<circle cx="250.2" cy="1734" r="3.6"/>
<circle cx="250.2" cy="1741.1" r="3.6"/>
<circle cx="257.6" cy="1732.5" r="3.6"/>
<circle cx="257.6" cy="1739.5" r="3.6"/>
<circle cx="265.1" cy="1735.4" r="3.6"/>
<circle cx="265.1" cy="1742.7" r="3.6"/>
<circle cx="272.5" cy="1733.6" r="3.6"/>
<circle cx="272.5" cy="1740.9" r="3.6"/>
<circle cx="287.4" cy="1732.5" r="3.6"/>
<circle cx="287.4" cy="1737.7" r="3.6"/>
<circle cx="287.4" cy="1742.9" r="3.6"/>
<circle cx="317.1" cy="1733.7" r="3.6"/>
<circle cx="317.1" cy="1741.1" r="3.6"/>
<circle cx="324.6" cy="1737.7" r="3.6"/>
<circle cx="339.5" cy="1733.1" r="3.6"/>
<circle cx="339.5" cy="1740.5" r="3.6"/>
<circle cx="346.9" cy="1736.4" r="3.6"/>
<circle cx="346.9" cy="1742.9" r="3.6"/>
<circle cx="354.3" cy="1734.1" r="3.6"/>
<circle cx="354.3" cy="1741.2" r="3.6"/>
<circle cx="369.2" cy="1734" r="3.6"/>
<circle cx="369.2" cy="1741.4" r="3.6"/>
<circle cx="384.1" cy="1737.7" r="3.6"/>
<circle cx="391.5" cy="1737.7" r="3.6"/>
<circle cx="398.9" cy="1737.7" r="3.6"/>
<circle cx="406.4" cy="1734.4" r="3.6"/>
<circle cx="406.4" cy="1741.1" r="3.6"/>
<circle cx="421.3" cy="1735.2" r="3.6"/>
<circle cx="421.3" cy="1742" r="3.6"/>
<circle cx="428.7" cy="1737.7" r="3.6"/>
<circle cx="451" cy="1732.3" r="3.6"/>
<circle cx="451" cy="1737" r="3.6"/>
<circle cx="451" cy="1741.8" r="3.6"/>
<circle cx="458.4" cy="1737.7" r="3.6"/>
<circle cx="473.3" cy="1737.7" r="3.6"/>
<circle cx="503.1" cy="1734" r="3.6"/>
<circle cx="503.1" cy="1741.4" r="3.6"/>
<circle cx="525.4" cy="1737.7" r="3.6"/>
<circle cx="540.2" cy="1737.7" r="3.6"/>
<circle cx="592.3" cy="1737.7" r="3.6"/>
<circle cx="265.1" cy="1757.5" r="3.6"/>
<circle cx="265.1" cy="1764.9" r="3.6"/>
<circle cx="272.5" cy="1755.9" r="3.6"/>
<circle cx="272.5" cy="1760.5" r="3.6"/>
<circle cx="272.5" cy="1765.2" r="3.6"/>
<circle cx="280" cy="1759.6" r="3.6"/>
<circle cx="280" cy="1765.4" r="3.6"/>
<circle cx="287.4" cy="1761.7" r="3.6"/>
<circle cx="294.8" cy="1756.2" r="3.6"/>
<circle cx="294.8" cy="1762.9" r="3.6"/>
<circle cx="302.3" cy="1758.7" r="3.6"/>
<circle cx="302.3" cy="1765.3" r="3.6"/>
<circle cx="309.7" cy="1761.7" r="3.6"/>
<circle cx="317.1" cy="1759.8" r="3.6"/>
<circle cx="317.1" cy="1765.3" r="3.6"/>
<circle cx="324.6" cy="1759.8" r="3.6"/>
<circle cx="324.6" cy="1766.8" r="3.6"/>
<circle cx="332" cy="1756.9" r="3.6"/>
<circle cx="332" cy="1762.5" r="3.6"/>
<circle cx="339.5" cy="1761.7" r="3.6"/>
<circle cx="346.9" cy="1758.4" r="3.6"/>
<circle cx="346.9" cy="1764.9" r="3.6"/>
<circle cx="354.3" cy="1757.9" r="3.6"/>
<circle cx="354.3" cy="1763.5" r="3.6"/>
<circle cx="361.8" cy="1758.4" r="3.6"/>
<circle cx="361.8" cy="1764.1" r="3.6"/>
<circle cx="369.2" cy="1756.5" r="3.6"/>
<circle cx="369.2" cy="1761.9" r="3.6"/>
<circle cx="369.2" cy="1767.3" r="3.6"/>
<circle cx="376.6" cy="1756.8" r="3.6"/>
<circle cx="376.6" cy="1763.4" r="3.6"/>
<circle cx="384.1" cy="1757.5" r="3.6"/>
<circle cx="384.1" cy="1762.3" r="3.6"/>
<circle cx="384.1" cy="1767" r="3.6"/>
<circle cx="391.5" cy="1759.4" r="3.6"/>
<circle cx="391.5" cy="1766.8" r="3.6"/>
<circle cx="398.9" cy="1758" r="3.6"/>
<circle cx="398.9" cy="1764.3" r="3.6"/>
<circle cx="406.4" cy="1761.7" r="3.6"/>
<circle cx="421.3" cy="1758.8" r="3.6"/>
<circle cx="421.3" cy="1765.9" r="3.6"/>
<circle cx="428.7" cy="1757.7" r="3.6"/>
<circle cx="428.7" cy="1765.2" r="3.6"/>
<circle cx="451" cy="1758" r="3.6"/>
<circle cx="451" cy="1765.4" r="3.6"/>
<circle cx="465.9" cy="1761.7" r="3.6"/>
<circle cx="510.5" cy="1761.7" r="3.6"/>
<circle cx="250.2" cy="1782" r="3.6"/>
<circle cx="250.2" cy="1789.4" r="3.6"/>
<circle cx="287.4" cy="1785.7" r="3.6"/>
<circle cx="332" cy="1785.7" r="3.6"/>
<circle cx="339.5" cy="1785.7" r="3.6"/>
<circle cx="361.8" cy="1785.7" r="3.6"/>
<circle cx="398.9" cy="1782" r="3.6"/>
<circle cx="398.9" cy="1789.4" r="3.6"/>
<circle cx="413.8" cy="1782" r="3.6"/>
<circle cx="413.8" cy="1789.4" r="3.6"/>
<circle cx="473.3" cy="1782.7" r="3.6"/>
<circle cx="473.3" cy="1789.7" r="3.6"/>
<circle cx="480.8" cy="1785.7" r="3.6"/>
<circle cx="547.7" cy="1785.7" r="3.6"/>
<circle cx="570" cy="1785.7" r="3.6"/>
<circle cx="614.6" cy="1785.7" r="3.6"/>
<circle cx="629.5" cy="1785.7" r="3.6"/>
<circle cx="644.4" cy="1785.7" r="3.6"/>
<circle cx="309.7" cy="1809.7" r="3.6"/>
<circle cx="361.8" cy="1809.7" r="3.6"/>
<circle cx="406.4" cy="1806" r="3.6"/>
<circle cx="406.4" cy="1813.4" r="3.6"/>
<circle cx="436.1" cy="1809.7" r="3.6"/>
<circle cx="458.4" cy="1809.7" r="3.6"/>
<circle cx="510.5" cy="1809.7" r="3.6"/>
<circle cx="540.2" cy="1809.7" r="3.6"/>
<circle cx="547.7" cy="1809.7" r="3.6"/>
</g>
<g class="a">
<path d="M107.7 1874V112H684.2V1874Z"/>
<path d="M128.6 112v-8M195.3 112v-8M262.1 112v-8M328.9 112v-8M395.6 112v-8M462.4 112v-8M529.1 112v-8M595.9 112v-8M662.6 112v-8"/>
<path d="M107.7 177.8h-8.4M107.7 201.8h-8.4M107.7 225.8h-8.4M107.7 249.8h-8.4M107.7 273.8h-8.4M107.7 297.8h-8.4M107.7 321.8h-8.4M107.7 345.7h-8.4M107.7 369.7h-8.4M107.7 393.7h-8.4M107.7 417.7h-8.4M107.7 441.7h-8.4M107.7 465.7h-8.4M107.7 489.7h-8.4M107.7 513.6h-8.4M107.7 537.6h-8.4M107.7 561.6h-8.4M107.7 585.6h-8.4M107.7 609.6h-8.4M107.7 633.6h-8.4M107.7 657.5h-8.4M107.7 681.5h-8.4M107.7 705.5h-8.4M107.7 729.5h-8.4M107.7 753.5h-8.4M107.7 777.5h-8.4M107.7 801.5h-8.4M107.7 825.4h-8.4M107.7 849.4h-8.4M107.7 873.4h-8.4M107.7 897.4h-8.4M107.7 921.4h-8.4M107.7 945.4h-8.4M107.7 969.4h-8.4M107.7 993.3h-8.4M107.7 1017.3h-8.4M107.7 1041.3h-8.4M107.7 1065.3h-8.4M107.7 1089.3h-8.4M107.7 1113.3h-8.4M107.7 1137.2h-8.4M107.7 1161.2h-8.4M107.7 1185.2h-8.4M107.7 1209.2h-8.4M107.7 1233.2h-8.4M107.7 1257.2h-8.4M107.7 1281.2h-8.4M107.7 1305.1h-8.4M107.7 1329.1h-8.4M107.7 1353.1h-8.4M107.7 1377.1h-8.4M107.7 1401.1h-8.4M107.7 1425.1h-8.4M107.7 1449.1h-8.4M107.7 1473h-8.4M107.7 1497h-8.4M107.7 1521h-8.4M107.7 1545h-8.4M107.7 1569h-8.4M107.7 1593h-8.4M107.7 1616.9h-8.4M107.7 1640.9h-8.4M107.7 1664.9h-8.4M107.7 1688.9h-8.4M107.7 1712.9h-8.4M107.7 1736.9h-8.4M107.7 1760.9h-8.4M107.7 1784.8h-8.4M107.7 1808.8h-8.4"/>
</g>
<g class="t">
<text transform="translate(128.5,86.8) rotate(90)" dy="8.9">0</text>
<path transform="translate(262,86.8) rotate(90) translate(-7,8.9) scale(0.01221,-0.01221)" d="M763 0H583V1147Q518 1085 412.5 1023Q307 961 223 930V1104Q374 1175 487 1276Q600 1377 647 1472H763Z" fill="#000"/>
<text transform="translate(395.5,86.8) rotate(90)" dy="8.9">2</text>
<text transform="translate(529,86.8) rotate(90)" dy="8.9">3</text>
<text transform="translate(662.5,86.8) rotate(90)" dy="8.9">4</text>
</g>
<g class="l">
<g transform="translate(82.7,177.8) scale(1.02,1) rotate(28)"><path transform="translate(-4.73,6) scale(0.00830,-0.00830)" d="M806 0H525V1059Q371 915 162 846V1101Q272 1137 401 1237.5Q530 1338 578 1472H806Z" fill="#808080"/></g>
<text transform="translate(82.7,201.8) scale(1.02,1) rotate(28)" dy="6">2</text>
<text transform="translate(82.7,225.8) scale(1.02,1) rotate(28)" dy="6">3</text>
<text transform="translate(82.7,249.8) scale(1.02,1) rotate(28)" dy="6">4</text>
<text transform="translate(82.7,273.8) scale(1.02,1) rotate(28)" dy="6">5</text>
<text transform="translate(82.7,297.8) scale(1.02,1) rotate(28)" dy="6">6</text>
<text transform="translate(82.7,321.8) scale(1.02,1) rotate(28)" dy="6">7</text>
<text transform="translate(82.7,345.7) scale(1.02,1) rotate(28)" dy="6">8</text>
<text transform="translate(82.7,369.7) scale(1.02,1) rotate(28)" dy="6">9</text>
<g transform="translate(82.7,393.7) scale(1.02,1) rotate(28)"><path transform="translate(-9.45,6) scale(0.00830,-0.00830)" d="M806 0H525V1059Q371 915 162 846V1101Q272 1137 401 1237.5Q530 1338 578 1472H806Z" fill="#808080"/><text x="0.00" y="6" style="text-anchor:start">0</text></g>
<g transform="translate(82.7,417.7) scale(1.02,1) rotate(28)"><path transform="translate(-9.45,6) scale(0.00830,-0.00830)" d="M806 0H525V1059Q371 915 162 846V1101Q272 1137 401 1237.5Q530 1338 578 1472H806Z" fill="#808080"/><path transform="translate(0.00,6) scale(0.00830,-0.00830)" d="M806 0H525V1059Q371 915 162 846V1101Q272 1137 401 1237.5Q530 1338 578 1472H806Z" fill="#808080"/></g>
<g transform="translate(82.7,441.7) scale(1.02,1) rotate(28)"><path transform="translate(-9.45,6) scale(0.00830,-0.00830)" d="M806 0H525V1059Q371 915 162 846V1101Q272 1137 401 1237.5Q530 1338 578 1472H806Z" fill="#808080"/><text x="0.00" y="6" style="text-anchor:start">2</text></g>
<g transform="translate(82.7,465.7) scale(1.02,1) rotate(28)"><path transform="translate(-9.45,6) scale(0.00830,-0.00830)" d="M806 0H525V1059Q371 915 162 846V1101Q272 1137 401 1237.5Q530 1338 578 1472H806Z" fill="#808080"/><text x="0.00" y="6" style="text-anchor:start">3</text></g>
<g transform="translate(82.7,489.7) scale(1.02,1) rotate(28)"><path transform="translate(-9.45,6) scale(0.00830,-0.00830)" d="M806 0H525V1059Q371 915 162 846V1101Q272 1137 401 1237.5Q530 1338 578 1472H806Z" fill="#808080"/><text x="0.00" y="6" style="text-anchor:start">4</text></g>
<g transform="translate(82.7,513.6) scale(1.02,1) rotate(28)"><path transform="translate(-9.45,6) scale(0.00830,-0.00830)" d="M806 0H525V1059Q371 915 162 846V1101Q272 1137 401 1237.5Q530 1338 578 1472H806Z" fill="#808080"/><text x="0.00" y="6" style="text-anchor:start">5</text></g>
<g transform="translate(82.7,537.6) scale(1.02,1) rotate(28)"><path transform="translate(-9.45,6) scale(0.00830,-0.00830)" d="M806 0H525V1059Q371 915 162 846V1101Q272 1137 401 1237.5Q530 1338 578 1472H806Z" fill="#808080"/><text x="0.00" y="6" style="text-anchor:start">6</text></g>
<g transform="translate(82.7,561.6) scale(1.02,1) rotate(28)"><path transform="translate(-9.45,6) scale(0.00830,-0.00830)" d="M806 0H525V1059Q371 915 162 846V1101Q272 1137 401 1237.5Q530 1338 578 1472H806Z" fill="#808080"/><text x="0.00" y="6" style="text-anchor:start">7</text></g>
<g transform="translate(82.7,585.6) scale(1.02,1) rotate(28)"><path transform="translate(-9.45,6) scale(0.00830,-0.00830)" d="M806 0H525V1059Q371 915 162 846V1101Q272 1137 401 1237.5Q530 1338 578 1472H806Z" fill="#808080"/><text x="0.00" y="6" style="text-anchor:start">8</text></g>
<g transform="translate(82.7,609.6) scale(1.02,1) rotate(28)"><path transform="translate(-9.45,6) scale(0.00830,-0.00830)" d="M806 0H525V1059Q371 915 162 846V1101Q272 1137 401 1237.5Q530 1338 578 1472H806Z" fill="#808080"/><text x="0.00" y="6" style="text-anchor:start">9</text></g>
<text transform="translate(82.7,633.6) scale(1.02,1) rotate(28)" dy="6">20</text>
<g transform="translate(82.7,657.5) scale(1.02,1) rotate(28)"><text x="-9.45" y="6" style="text-anchor:start">2</text><path transform="translate(0.00,6) scale(0.00830,-0.00830)" d="M806 0H525V1059Q371 915 162 846V1101Q272 1137 401 1237.5Q530 1338 578 1472H806Z" fill="#808080"/></g>
<text transform="translate(82.7,681.5) scale(1.02,1) rotate(28)" dy="6">22</text>
<text transform="translate(82.7,705.5) scale(1.02,1) rotate(28)" dy="6">23</text>
<text transform="translate(82.7,729.5) scale(1.02,1) rotate(28)" dy="6">24</text>
<text transform="translate(82.7,753.5) scale(1.02,1) rotate(28)" dy="6">25</text>
<text transform="translate(82.7,777.5) scale(1.02,1) rotate(28)" dy="6">26</text>
<text transform="translate(82.7,801.5) scale(1.02,1) rotate(28)" dy="6">27</text>
<text transform="translate(82.7,825.4) scale(1.02,1) rotate(28)" dy="6">28</text>
<text transform="translate(82.7,849.4) scale(1.02,1) rotate(28)" dy="6">29</text>
<text transform="translate(82.7,873.4) scale(1.02,1) rotate(28)" dy="6">30</text>
<g transform="translate(82.7,897.4) scale(1.02,1) rotate(28)"><text x="-9.45" y="6" style="text-anchor:start">3</text><path transform="translate(0.00,6) scale(0.00830,-0.00830)" d="M806 0H525V1059Q371 915 162 846V1101Q272 1137 401 1237.5Q530 1338 578 1472H806Z" fill="#808080"/></g>
<text transform="translate(82.7,921.4) scale(1.02,1) rotate(28)" dy="6">32</text>
<text transform="translate(82.7,945.4) scale(1.02,1) rotate(28)" dy="6">33</text>
<text transform="translate(82.7,969.4) scale(1.02,1) rotate(28)" dy="6">34</text>
<text transform="translate(82.7,993.3) scale(1.02,1) rotate(28)" dy="6">35</text>
<text transform="translate(82.7,1017.3) scale(1.02,1) rotate(28)" dy="6">36</text>
<text transform="translate(82.7,1041.3) scale(1.02,1) rotate(28)" dy="6">37</text>
<text transform="translate(82.7,1065.3) scale(1.02,1) rotate(28)" dy="6">38</text>
<text transform="translate(82.7,1089.3) scale(1.02,1) rotate(28)" dy="6">39</text>
<text transform="translate(82.7,1113.3) scale(1.02,1) rotate(28)" dy="6">40</text>
<g transform="translate(82.7,1137.2) scale(1.02,1) rotate(28)"><text x="-9.45" y="6" style="text-anchor:start">4</text><path transform="translate(0.00,6) scale(0.00830,-0.00830)" d="M806 0H525V1059Q371 915 162 846V1101Q272 1137 401 1237.5Q530 1338 578 1472H806Z" fill="#808080"/></g>
<text transform="translate(82.7,1161.2) scale(1.02,1) rotate(28)" dy="6">42</text>
<text transform="translate(82.7,1185.2) scale(1.02,1) rotate(28)" dy="6">43</text>
<text transform="translate(82.7,1209.2) scale(1.02,1) rotate(28)" dy="6">44</text>
<text transform="translate(82.7,1233.2) scale(1.02,1) rotate(28)" dy="6">45</text>
<text transform="translate(82.7,1257.2) scale(1.02,1) rotate(28)" dy="6">46</text>
<text transform="translate(82.7,1281.2) scale(1.02,1) rotate(28)" dy="6">47</text>
<text transform="translate(82.7,1305.1) scale(1.02,1) rotate(28)" dy="6">48</text>
<text transform="translate(82.7,1329.1) scale(1.02,1) rotate(28)" dy="6">49</text>
<text transform="translate(82.7,1353.1) scale(1.02,1) rotate(28)" dy="6">50</text>
<g transform="translate(82.7,1377.1) scale(1.02,1) rotate(28)"><text x="-9.45" y="6" style="text-anchor:start">5</text><path transform="translate(0.00,6) scale(0.00830,-0.00830)" d="M806 0H525V1059Q371 915 162 846V1101Q272 1137 401 1237.5Q530 1338 578 1472H806Z" fill="#808080"/></g>
<text transform="translate(82.7,1401.1) scale(1.02,1) rotate(28)" dy="6">52</text>
<text transform="translate(82.7,1425.1) scale(1.02,1) rotate(28)" dy="6">53</text>
<text transform="translate(82.7,1449.1) scale(1.02,1) rotate(28)" dy="6">54</text>
<text transform="translate(82.7,1473) scale(1.02,1) rotate(28)" dy="6">55</text>
<text transform="translate(82.7,1497) scale(1.02,1) rotate(28)" dy="6">56</text>
<text transform="translate(82.7,1521) scale(1.02,1) rotate(28)" dy="6">57</text>
<text transform="translate(82.7,1545) scale(1.02,1) rotate(28)" dy="6">58</text>
<text transform="translate(82.7,1569) scale(1.02,1) rotate(28)" dy="6">59</text>
<text transform="translate(82.7,1593) scale(1.02,1) rotate(28)" dy="6">60</text>
<g transform="translate(82.7,1616.9) scale(1.02,1) rotate(28)"><text x="-9.45" y="6" style="text-anchor:start">6</text><path transform="translate(0.00,6) scale(0.00830,-0.00830)" d="M806 0H525V1059Q371 915 162 846V1101Q272 1137 401 1237.5Q530 1338 578 1472H806Z" fill="#808080"/></g>
<text transform="translate(82.7,1640.9) scale(1.02,1) rotate(28)" dy="6">62</text>
<text transform="translate(82.7,1664.9) scale(1.02,1) rotate(28)" dy="6">63</text>
<text transform="translate(82.7,1688.9) scale(1.02,1) rotate(28)" dy="6">64</text>
<text transform="translate(82.7,1712.9) scale(1.02,1) rotate(28)" dy="6">65</text>
<text transform="translate(82.7,1736.9) scale(1.02,1) rotate(28)" dy="6">66</text>
<text transform="translate(82.7,1760.9) scale(1.02,1) rotate(28)" dy="6">67</text>
<text transform="translate(82.7,1784.8) scale(1.02,1) rotate(28)" dy="6">68</text>
<text transform="translate(82.7,1808.8) scale(1.02,1) rotate(28)" dy="6">69</text>
</g>
</svg>
</body></html>
